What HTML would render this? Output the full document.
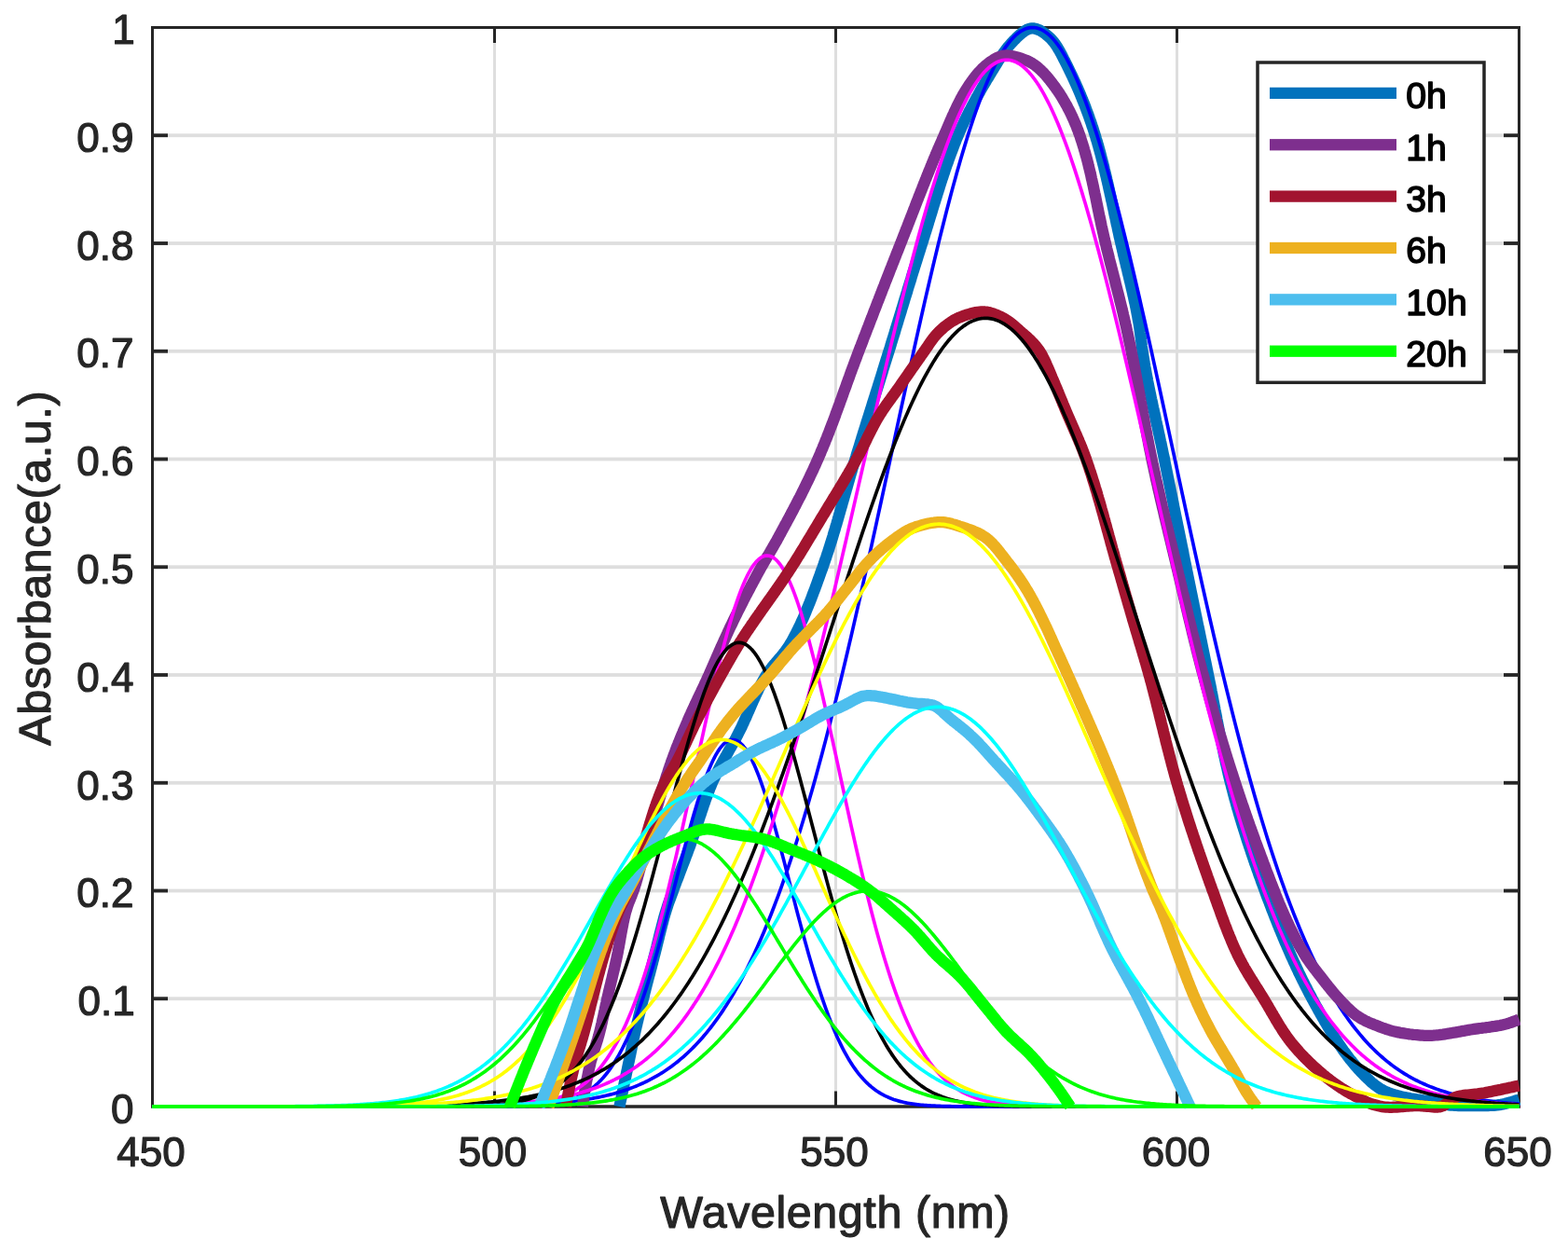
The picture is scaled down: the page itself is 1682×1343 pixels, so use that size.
<!DOCTYPE html>
<html lang="en"><head><meta charset="utf-8"><title>Absorbance vs Wavelength</title>
<style>html,body{margin:0;padding:0;background:#fff}body{width:1682px;height:1343px;overflow:hidden}svg{display:block}text{font-family:"Liberation Sans",sans-serif}</style></head><body>
<svg width="1682" height="1343" viewBox="0 0 1682 1343">
<rect width="1682" height="1343" fill="#ffffff"/>
<defs><clipPath id="ax"><rect x="162.0" y="0" width="1469.0" height="1194.0"/></clipPath></defs>
<g>
<rect x="529.00" y="29.50" width="3.00" height="1157.50" fill="#dedede"/>
<rect x="895.00" y="29.50" width="3.00" height="1157.50" fill="#dedede"/>
<rect x="1261.00" y="29.50" width="3.00" height="1157.50" fill="#dedede"/>
<rect x="163.50" y="1069.35" width="1466.00" height="3.80" fill="#dedede"/>
<rect x="163.50" y="953.60" width="1466.00" height="3.80" fill="#dedede"/>
<rect x="163.50" y="837.85" width="1466.00" height="3.80" fill="#dedede"/>
<rect x="163.50" y="722.10" width="1466.00" height="3.80" fill="#dedede"/>
<rect x="163.50" y="606.35" width="1466.00" height="3.80" fill="#dedede"/>
<rect x="163.50" y="490.60" width="1466.00" height="3.80" fill="#dedede"/>
<rect x="163.50" y="374.85" width="1466.00" height="3.80" fill="#dedede"/>
<rect x="163.50" y="259.10" width="1466.00" height="3.80" fill="#dedede"/>
<rect x="163.50" y="143.35" width="1466.00" height="3.80" fill="#dedede"/>
</g>
<g>
<rect x="162.00" y="28.00" width="1469.00" height="3.00" fill="#262626"/>
<rect x="162.00" y="1185.25" width="1469.00" height="3.50" fill="#262626"/>
<rect x="162.00" y="29.50" width="3.00" height="1157.50" fill="#262626"/>
<rect x="1628.00" y="29.50" width="3.00" height="1157.50" fill="#262626"/>
<rect x="529.00" y="1170.50" width="3.00" height="16.50" fill="#262626"/>
<rect x="529.00" y="29.50" width="3.00" height="16.50" fill="#262626"/>
<rect x="895.00" y="1170.50" width="3.00" height="16.50" fill="#262626"/>
<rect x="895.00" y="29.50" width="3.00" height="16.50" fill="#262626"/>
<rect x="1261.00" y="1170.50" width="3.00" height="16.50" fill="#262626"/>
<rect x="1261.00" y="29.50" width="3.00" height="16.50" fill="#262626"/>
<rect x="163.50" y="1069.35" width="16.50" height="3.80" fill="#262626"/>
<rect x="1613.00" y="1069.35" width="16.50" height="3.80" fill="#262626"/>
<rect x="163.50" y="953.60" width="16.50" height="3.80" fill="#262626"/>
<rect x="1613.00" y="953.60" width="16.50" height="3.80" fill="#262626"/>
<rect x="163.50" y="837.85" width="16.50" height="3.80" fill="#262626"/>
<rect x="1613.00" y="837.85" width="16.50" height="3.80" fill="#262626"/>
<rect x="163.50" y="722.10" width="16.50" height="3.80" fill="#262626"/>
<rect x="1613.00" y="722.10" width="16.50" height="3.80" fill="#262626"/>
<rect x="163.50" y="606.35" width="16.50" height="3.80" fill="#262626"/>
<rect x="1613.00" y="606.35" width="16.50" height="3.80" fill="#262626"/>
<rect x="163.50" y="490.60" width="16.50" height="3.80" fill="#262626"/>
<rect x="1613.00" y="490.60" width="16.50" height="3.80" fill="#262626"/>
<rect x="163.50" y="374.85" width="16.50" height="3.80" fill="#262626"/>
<rect x="1613.00" y="374.85" width="16.50" height="3.80" fill="#262626"/>
<rect x="163.50" y="259.10" width="16.50" height="3.80" fill="#262626"/>
<rect x="1613.00" y="259.10" width="16.50" height="3.80" fill="#262626"/>
<rect x="163.50" y="143.35" width="16.50" height="3.80" fill="#262626"/>
<rect x="1613.00" y="143.35" width="16.50" height="3.80" fill="#262626"/>
</g>
<g fill="none" stroke-linejoin="round" stroke-linecap="butt" clip-path="url(#ax)">
<polyline stroke="#0072bd" stroke-width="12.3" points="664.5,1187.0 664.9,1185.0 665.3,1183.1 665.7,1181.1 666.1,1179.2 666.6,1177.2 667.0,1175.3 667.4,1173.3 667.8,1171.3 668.2,1169.4 668.6,1167.4 669.0,1165.5 669.4,1163.5 669.8,1161.6 670.2,1159.6 670.7,1157.6 671.1,1155.7 671.5,1153.7 671.9,1151.8 672.3,1149.8 672.7,1147.9 673.1,1145.9 673.5,1143.9 673.9,1142.0 674.3,1140.0 674.8,1138.1 675.2,1136.1 675.6,1134.1 676.0,1132.2 676.4,1130.2 676.8,1128.3 677.2,1126.3 677.6,1124.3 678.0,1122.4 678.4,1120.4 678.8,1118.5 679.2,1116.5 679.6,1114.6 680.1,1112.6 680.5,1110.7 680.9,1108.7 681.4,1106.8 681.8,1104.8 682.3,1102.9 682.7,1100.9 683.2,1099.0 683.6,1097.0 684.1,1095.1 684.6,1093.1 685.0,1091.2 685.5,1089.2 686.0,1087.3 686.5,1085.4 687.0,1083.4 687.4,1081.5 687.9,1079.5 688.4,1077.6 688.9,1075.7 689.4,1073.7 689.9,1071.8 690.4,1069.8 690.9,1067.9 691.3,1066.0 691.8,1064.0 692.3,1062.1 692.8,1060.1 693.3,1058.2 693.8,1056.3 694.3,1054.3 694.8,1052.4 695.3,1050.5 695.8,1048.5 696.3,1046.6 696.9,1044.7 697.4,1042.7 697.9,1040.8 698.4,1038.9 698.9,1036.9 699.4,1035.0 699.9,1033.1 700.4,1031.1 700.9,1029.2 701.4,1027.2 701.9,1025.3 702.4,1023.4 702.9,1021.4 703.4,1019.5 703.9,1017.5 704.4,1015.6 704.8,1013.7 705.3,1011.7 705.8,1009.8 706.3,1007.8 706.8,1005.9 707.2,1003.9 707.7,1002.0 708.2,1000.1 708.7,998.1 709.2,996.2 709.7,994.2 710.2,992.3 710.7,990.4 711.2,988.4 711.7,986.5 712.2,984.6 712.8,982.6 713.3,980.7 713.9,978.8 714.5,976.9 715.1,975.0 715.7,973.1 716.3,971.2 716.9,969.3 717.6,967.4 718.3,965.5 719.0,963.7 719.7,961.8 720.4,959.9 721.1,958.0 721.8,956.2 722.4,954.3 723.1,952.4 723.8,950.5 724.5,948.7 725.2,946.8 725.9,944.9 726.7,943.0 727.4,941.2 728.1,939.3 728.8,937.4 729.5,935.6 730.2,933.7 730.9,931.8 731.6,930.0 732.3,928.1 733.1,926.2 733.8,924.3 734.5,922.5 735.2,920.6 735.9,918.7 736.6,916.9 737.3,915.0 738.0,913.1 738.7,911.2 739.4,909.4 740.1,907.5 740.8,905.6 741.4,903.7 742.1,901.8 742.8,900.0 743.4,898.1 744.1,896.2 744.7,894.3 745.4,892.4 746.0,890.5 746.6,888.6 747.3,886.7 747.9,884.8 748.5,882.8 749.2,880.9 749.8,879.0 750.4,877.1 751.0,875.2 751.7,873.3 752.3,871.4 752.9,869.5 753.6,867.6 754.2,865.7 754.8,863.8 755.5,861.9 756.2,860.0 756.8,858.1 757.5,856.3 758.2,854.4 758.9,852.5 759.6,850.7 760.3,848.8 761.0,846.9 761.7,845.1 762.5,843.3 763.2,841.4 764.0,839.6 764.8,837.8 765.6,836.0 766.5,834.2 767.3,832.4 768.2,830.6 769.1,828.8 770.0,827.0 770.9,825.2 771.8,823.5 772.8,821.7 773.7,819.9 774.7,818.2 775.6,816.4 776.6,814.7 777.6,812.9 778.6,811.2 779.6,809.4 780.6,807.7 781.5,805.9 782.5,804.2 783.5,802.5 784.5,800.7 785.5,799.0 786.5,797.2 787.4,795.4 788.4,793.7 789.4,791.9 790.3,790.1 791.2,788.4 792.1,786.6 793.0,784.8 793.9,783.0 794.8,781.2 795.7,779.4 796.5,777.6 797.4,775.8 798.2,773.9 799.0,772.1 799.9,770.3 800.7,768.4 801.5,766.6 802.3,764.7 803.1,762.9 803.9,761.0 804.7,759.2 805.5,757.3 806.3,755.5 807.1,753.7 807.9,751.8 808.8,750.0 809.6,748.2 810.4,746.3 811.3,744.5 812.1,742.7 813.0,740.9 813.8,739.1 814.7,737.3 815.6,735.6 816.5,733.8 817.5,732.0 818.4,730.3 819.4,728.6 820.4,726.9 821.4,725.2 822.5,723.5 823.6,721.9 824.7,720.3 825.9,718.6 827.1,717.1 828.3,715.5 829.6,713.9 830.9,712.4 832.2,710.8 833.5,709.3 834.8,707.8 836.1,706.2 837.5,704.7 838.8,703.1 840.0,701.6 841.3,700.0 842.5,698.4 843.6,696.8 844.8,695.2 845.9,693.6 846.9,691.9 847.9,690.2 848.9,688.5 849.9,686.8 850.8,685.1 851.7,683.4 852.7,681.6 853.6,679.9 854.5,678.1 855.4,676.3 856.2,674.6 857.1,672.8 858.0,671.0 858.8,669.2 859.6,667.3 860.5,665.5 861.3,663.7 862.1,661.9 862.9,660.0 863.7,658.2 864.5,656.3 865.2,654.4 866.0,652.6 866.8,650.7 867.5,648.8 868.3,647.0 869.0,645.1 869.8,643.2 870.5,641.3 871.2,639.4 871.9,637.5 872.6,635.6 873.4,633.7 874.1,631.8 874.8,629.9 875.5,628.1 876.2,626.2 876.8,624.3 877.5,622.4 878.2,620.5 878.9,618.6 879.6,616.7 880.2,614.8 880.9,612.9 881.6,611.0 882.3,609.2 882.9,607.3 883.6,605.4 884.2,603.5 884.9,601.6 885.5,599.7 886.2,597.9 886.8,596.0 887.4,594.1 888.1,592.2 888.7,590.3 889.3,588.4 889.9,586.5 890.5,584.6 891.1,582.7 891.7,580.8 892.3,578.9 892.9,576.9 893.5,575.0 894.0,573.1 894.6,571.2 895.2,569.3 895.8,567.4 896.3,565.5 896.9,563.5 897.5,561.6 898.0,559.7 898.6,557.8 899.1,555.8 899.7,553.9 900.2,552.0 900.8,550.1 901.3,548.1 901.9,546.2 902.4,544.3 903.0,542.4 903.5,540.4 904.1,538.5 904.6,536.6 905.2,534.7 905.7,532.7 906.3,530.8 906.8,528.9 907.4,526.9 907.9,525.0 908.5,523.1 909.0,521.2 909.6,519.2 910.1,517.3 910.7,515.4 911.2,513.5 911.8,511.5 912.3,509.6 912.9,507.7 913.5,505.8 914.0,503.8 914.6,501.9 915.2,500.0 915.7,498.1 916.3,496.2 916.9,494.3 917.5,492.3 918.1,490.4 918.6,488.5 919.2,486.6 919.8,484.7 920.4,482.8 921.0,480.9 921.6,479.0 922.2,477.1 922.8,475.1 923.4,473.2 924.0,471.3 924.5,469.4 925.1,467.5 925.7,465.6 926.3,463.7 926.9,461.8 927.5,459.9 928.1,458.0 928.7,456.0 929.3,454.1 929.9,452.2 930.5,450.3 931.1,448.4 931.7,446.5 932.3,444.6 932.9,442.7 933.5,440.8 934.1,438.9 934.7,437.0 935.3,435.1 935.9,433.1 936.5,431.2 937.1,429.3 937.7,427.4 938.3,425.5 938.9,423.6 939.5,421.7 940.1,419.8 940.7,417.9 941.3,416.0 941.9,414.1 942.5,412.2 943.1,410.2 943.7,408.3 944.3,406.4 944.9,404.5 945.5,402.6 946.1,400.7 946.7,398.8 947.2,396.9 947.8,395.0 948.4,393.1 949.0,391.2 949.6,389.2 950.2,387.3 950.8,385.4 951.4,383.5 952.0,381.6 952.6,379.7 953.2,377.8 953.8,375.9 954.4,374.0 955.0,372.1 955.6,370.1 956.1,368.2 956.7,366.3 957.3,364.4 957.9,362.5 958.5,360.6 959.1,358.7 959.7,356.8 960.3,354.8 960.8,352.9 961.4,351.0 962.0,349.1 962.6,347.2 963.2,345.3 963.7,343.4 964.3,341.5 964.9,339.5 965.5,337.6 966.1,335.7 966.7,333.8 967.2,331.9 967.8,330.0 968.4,328.1 969.0,326.1 969.6,324.2 970.1,322.3 970.7,320.4 971.3,318.5 971.9,316.6 972.5,314.7 973.1,312.8 973.6,310.8 974.2,308.9 974.8,307.0 975.4,305.1 976.0,303.2 976.6,301.3 977.2,299.4 977.7,297.5 978.3,295.5 978.9,293.6 979.5,291.7 980.1,289.8 980.7,287.9 981.3,286.0 981.9,284.1 982.5,282.2 983.1,280.3 983.7,278.4 984.3,276.4 984.9,274.5 985.5,272.6 986.1,270.7 986.7,268.8 987.3,266.9 987.9,265.0 988.5,263.1 989.1,261.2 989.7,259.3 990.3,257.4 990.9,255.5 991.5,253.6 992.1,251.6 992.7,249.7 993.3,247.8 993.9,245.9 994.5,244.0 995.1,242.1 995.7,240.1 996.2,238.2 996.8,236.3 997.4,234.4 998.0,232.5 998.6,230.5 999.2,228.6 999.8,226.7 1000.3,224.8 1000.9,222.9 1001.5,220.9 1002.1,219.0 1002.7,217.1 1003.3,215.2 1003.9,213.2 1004.5,211.3 1005.1,209.4 1005.7,207.5 1006.3,205.6 1006.9,203.7 1007.5,201.8 1008.1,199.8 1008.7,197.9 1009.3,196.0 1009.9,194.1 1010.5,192.2 1011.2,190.3 1011.8,188.4 1012.4,186.5 1013.1,184.6 1013.7,182.7 1014.3,180.8 1015.0,178.9 1015.6,177.0 1016.3,175.2 1017.0,173.3 1017.6,171.4 1018.3,169.5 1019.0,167.6 1019.7,165.8 1020.4,163.9 1021.1,162.0 1021.8,160.2 1022.5,158.3 1023.2,156.5 1023.9,154.6 1024.7,152.8 1025.4,150.9 1026.1,149.1 1026.9,147.3 1027.7,145.4 1028.4,143.6 1029.2,141.8 1030.0,140.0 1030.8,138.2 1031.6,136.3 1032.5,134.5 1033.3,132.7 1034.1,130.9 1035.0,129.1 1035.9,127.3 1036.7,125.5 1037.6,123.7 1038.5,121.9 1039.4,120.1 1040.3,118.3 1041.3,116.6 1042.2,114.8 1043.1,113.0 1044.1,111.2 1045.0,109.5 1046.0,107.7 1046.9,105.9 1047.9,104.2 1048.9,102.4 1049.9,100.6 1050.9,98.9 1051.8,97.1 1052.8,95.4 1053.8,93.7 1054.9,91.9 1055.9,90.2 1056.9,88.5 1057.9,86.7 1058.9,85.0 1060.0,83.3 1061.0,81.6 1062.0,79.9 1063.1,78.2 1064.1,76.5 1065.1,74.8 1066.2,73.0 1067.2,71.3 1068.3,69.6 1069.4,67.9 1070.4,66.2 1071.5,64.4 1072.6,62.7 1073.7,61.0 1074.8,59.3 1075.9,57.6 1077.1,56.0 1078.3,54.4 1079.5,52.8 1080.7,51.2 1081.9,49.7 1083.2,48.2 1084.5,46.7 1085.9,45.2 1087.3,43.7 1088.7,42.3 1090.2,40.8 1091.8,39.3 1093.4,37.8 1095.0,36.4 1096.6,35.1 1098.3,33.8 1100.0,32.8 1101.7,31.8 1103.4,31.1 1105.1,30.6 1106.8,30.4 1108.6,30.4 1110.4,30.7 1112.2,31.2 1114.0,31.9 1115.8,32.7 1117.6,33.8 1119.3,34.9 1121.0,36.1 1122.6,37.4 1124.2,38.7 1125.6,40.0 1127.0,41.3 1128.3,42.8 1129.6,44.2 1130.8,45.7 1132.0,47.3 1133.1,48.9 1134.2,50.6 1135.2,52.4 1136.3,54.1 1137.3,55.9 1138.3,57.7 1139.2,59.6 1140.2,61.4 1141.1,63.3 1142.0,65.1 1143.0,66.9 1143.9,68.7 1144.8,70.5 1145.6,72.3 1146.5,74.1 1147.4,75.9 1148.3,77.7 1149.1,79.5 1150.0,81.3 1150.8,83.1 1151.7,84.9 1152.5,86.7 1153.3,88.5 1154.2,90.4 1155.0,92.2 1155.8,94.0 1156.6,95.9 1157.4,97.7 1158.2,99.6 1159.0,101.4 1159.7,103.3 1160.5,105.2 1161.2,107.0 1162.0,108.9 1162.7,110.8 1163.5,112.6 1164.2,114.5 1164.9,116.4 1165.6,118.3 1166.3,120.2 1167.0,122.0 1167.7,123.9 1168.4,125.8 1169.0,127.7 1169.7,129.6 1170.4,131.5 1171.0,133.4 1171.6,135.3 1172.3,137.2 1172.9,139.1 1173.5,141.0 1174.1,142.9 1174.7,144.8 1175.3,146.7 1175.8,148.6 1176.4,150.5 1177.0,152.4 1177.5,154.3 1178.1,156.2 1178.6,158.1 1179.1,160.0 1179.7,162.0 1180.2,163.9 1180.7,165.8 1181.2,167.7 1181.7,169.7 1182.2,171.6 1182.7,173.5 1183.2,175.5 1183.7,177.4 1184.2,179.3 1184.6,181.3 1185.1,183.2 1185.6,185.2 1186.0,187.1 1186.5,189.1 1187.0,191.0 1187.4,193.0 1187.9,194.9 1188.3,196.9 1188.8,198.8 1189.2,200.8 1189.6,202.7 1190.1,204.7 1190.5,206.6 1190.9,208.6 1191.4,210.6 1191.8,212.5 1192.2,214.5 1192.7,216.4 1193.1,218.4 1193.5,220.4 1193.9,222.3 1194.4,224.3 1194.8,226.2 1195.2,228.2 1195.6,230.2 1196.0,232.1 1196.5,234.1 1196.9,236.1 1197.3,238.0 1197.7,240.0 1198.2,241.9 1198.6,243.9 1199.0,245.9 1199.4,247.8 1199.9,249.8 1200.3,251.7 1200.7,253.7 1201.2,255.6 1201.6,257.6 1202.1,259.5 1202.5,261.5 1203.0,263.4 1203.4,265.4 1203.9,267.3 1204.3,269.3 1204.8,271.2 1205.2,273.2 1205.7,275.1 1206.2,277.1 1206.6,279.0 1207.1,281.0 1207.6,282.9 1208.0,284.9 1208.5,286.8 1209.0,288.8 1209.5,290.7 1209.9,292.7 1210.4,294.6 1210.9,296.6 1211.3,298.5 1211.8,300.4 1212.3,302.4 1212.7,304.3 1213.2,306.3 1213.6,308.2 1214.1,310.2 1214.5,312.1 1215.0,314.1 1215.4,316.1 1215.9,318.0 1216.3,320.0 1216.7,321.9 1217.1,323.9 1217.6,325.8 1218.0,327.8 1218.4,329.7 1218.8,331.7 1219.2,333.7 1219.5,335.6 1219.9,337.6 1220.3,339.5 1220.6,341.5 1221.0,343.5 1221.3,345.4 1221.7,347.4 1222.0,349.4 1222.3,351.3 1222.6,353.3 1222.9,355.3 1223.1,357.3 1223.4,359.3 1223.6,361.2 1223.9,363.2 1224.1,365.2 1224.4,367.2 1224.6,369.2 1224.8,371.2 1225.1,373.2 1225.4,375.1 1225.7,377.1 1226.0,379.1 1226.3,381.1 1226.6,383.0 1226.9,385.0 1227.2,387.0 1227.5,388.9 1227.9,390.9 1228.2,392.9 1228.6,394.9 1228.9,396.8 1229.3,398.8 1229.6,400.7 1230.0,402.7 1230.4,404.7 1230.8,406.6 1231.1,408.6 1231.5,410.6 1231.9,412.5 1232.3,414.5 1232.7,416.4 1233.1,418.4 1233.5,420.4 1233.9,422.3 1234.3,424.3 1234.7,426.2 1235.1,428.2 1235.6,430.2 1236.0,432.1 1236.4,434.1 1236.8,436.0 1237.2,438.0 1237.7,439.9 1238.1,441.9 1238.5,443.9 1239.0,445.8 1239.4,447.8 1239.8,449.7 1240.2,451.7 1240.7,453.6 1241.1,455.6 1241.5,457.5 1242.0,459.5 1242.4,461.5 1242.8,463.4 1243.2,465.4 1243.7,467.3 1244.1,469.3 1244.5,471.2 1244.9,473.2 1245.4,475.1 1245.8,477.1 1246.2,479.1 1246.6,481.0 1247.0,483.0 1247.4,484.9 1247.8,486.9 1248.2,488.9 1248.7,490.8 1249.1,492.8 1249.4,494.7 1249.8,496.7 1250.2,498.7 1250.6,500.6 1251.0,502.6 1251.4,504.5 1251.8,506.5 1252.2,508.5 1252.6,510.4 1253.0,512.4 1253.4,514.3 1253.8,516.3 1254.2,518.3 1254.6,520.2 1255.0,522.2 1255.4,524.1 1255.8,526.1 1256.2,528.1 1256.6,530.0 1257.0,532.0 1257.4,533.9 1257.8,535.9 1258.2,537.9 1258.6,539.8 1258.9,541.8 1259.3,543.7 1259.7,545.7 1260.1,547.7 1260.5,549.6 1260.9,551.6 1261.3,553.5 1261.7,555.5 1262.1,557.5 1262.5,559.4 1262.9,561.4 1263.3,563.4 1263.7,565.3 1264.1,567.3 1264.5,569.2 1264.9,571.2 1265.3,573.2 1265.7,575.1 1266.1,577.1 1266.5,579.0 1266.9,581.0 1267.3,583.0 1267.7,584.9 1268.1,586.9 1268.5,588.8 1268.9,590.8 1269.3,592.8 1269.6,594.7 1270.0,596.7 1270.4,598.6 1270.8,600.6 1271.2,602.6 1271.6,604.5 1272.0,606.5 1272.4,608.4 1272.8,610.4 1273.2,612.4 1273.6,614.3 1274.0,616.3 1274.4,618.2 1274.8,620.2 1275.2,622.2 1275.6,624.1 1276.0,626.1 1276.4,628.0 1276.8,630.0 1277.2,632.0 1277.6,633.9 1278.0,635.9 1278.4,637.8 1278.8,639.8 1279.2,641.7 1279.6,643.7 1280.0,645.7 1280.4,647.6 1280.8,649.6 1281.2,651.5 1281.6,653.5 1282.0,655.5 1282.4,657.4 1282.8,659.4 1283.2,661.3 1283.6,663.3 1284.0,665.3 1284.4,667.2 1284.8,669.2 1285.2,671.1 1285.6,673.1 1286.1,675.1 1286.5,677.0 1286.9,679.0 1287.3,680.9 1287.7,682.9 1288.1,684.9 1288.5,686.8 1288.9,688.8 1289.3,690.7 1289.7,692.7 1290.1,694.7 1290.5,696.6 1290.9,698.6 1291.3,700.5 1291.7,702.5 1292.1,704.4 1292.5,706.4 1292.9,708.4 1293.3,710.3 1293.7,712.3 1294.1,714.2 1294.5,716.2 1294.9,718.2 1295.3,720.1 1295.7,722.1 1296.1,724.0 1296.5,726.0 1296.9,728.0 1297.3,729.9 1297.7,731.9 1298.1,733.8 1298.5,735.8 1298.9,737.8 1299.3,739.7 1299.6,741.7 1300.0,743.7 1300.4,745.6 1300.8,747.6 1301.2,749.6 1301.5,751.5 1301.9,753.5 1302.3,755.5 1302.7,757.4 1303.1,759.4 1303.4,761.4 1303.8,763.3 1304.2,765.3 1304.6,767.3 1305.0,769.2 1305.3,771.2 1305.7,773.2 1306.1,775.1 1306.5,777.1 1306.9,779.1 1307.2,781.0 1307.6,783.0 1308.0,785.0 1308.4,786.9 1308.8,788.9 1309.2,790.9 1309.6,792.8 1310.0,794.8 1310.4,796.7 1310.8,798.7 1311.2,800.7 1311.6,802.6 1312.0,804.6 1312.4,806.5 1312.8,808.5 1313.2,810.4 1313.7,812.4 1314.1,814.3 1314.5,816.3 1314.9,818.2 1315.4,820.2 1315.8,822.1 1316.3,824.1 1316.7,826.0 1317.2,828.0 1317.6,829.9 1318.1,831.9 1318.5,833.8 1319.0,835.7 1319.5,837.7 1320.0,839.6 1320.5,841.5 1321.0,843.5 1321.5,845.4 1322.0,847.3 1322.5,849.3 1323.0,851.2 1323.5,853.1 1324.0,855.0 1324.5,857.0 1325.1,858.9 1325.6,860.8 1326.1,862.7 1326.7,864.7 1327.2,866.6 1327.8,868.5 1328.4,870.4 1328.9,872.4 1329.5,874.3 1330.1,876.2 1330.6,878.1 1331.2,880.0 1331.8,882.0 1332.4,883.9 1333.0,885.8 1333.6,887.7 1334.2,889.6 1334.8,891.5 1335.4,893.4 1336.0,895.3 1336.6,897.3 1337.2,899.2 1337.8,901.1 1338.4,903.0 1339.1,904.9 1339.7,906.8 1340.3,908.7 1341.0,910.6 1341.6,912.5 1342.2,914.4 1342.9,916.3 1343.5,918.2 1344.2,920.1 1344.8,922.0 1345.5,923.9 1346.1,925.8 1346.8,927.7 1347.5,929.5 1348.1,931.4 1348.8,933.3 1349.5,935.2 1350.1,937.1 1350.8,939.0 1351.5,940.9 1352.2,942.7 1352.8,944.6 1353.5,946.5 1354.2,948.4 1354.9,950.2 1355.6,952.1 1356.3,954.0 1357.0,955.9 1357.6,957.7 1358.3,959.6 1359.0,961.5 1359.7,963.3 1360.4,965.2 1361.2,967.1 1361.9,968.9 1362.6,970.8 1363.3,972.7 1364.0,974.6 1364.7,976.4 1365.5,978.3 1366.2,980.2 1366.9,982.0 1367.6,983.9 1368.4,985.8 1369.1,987.6 1369.9,989.5 1370.6,991.4 1371.4,993.2 1372.1,995.1 1372.9,997.0 1373.7,998.8 1374.4,1000.7 1375.2,1002.5 1376.0,1004.4 1376.7,1006.2 1377.5,1008.1 1378.3,1009.9 1379.1,1011.8 1379.9,1013.6 1380.7,1015.5 1381.5,1017.3 1382.3,1019.2 1383.1,1021.0 1383.9,1022.9 1384.7,1024.7 1385.5,1026.5 1386.4,1028.3 1387.2,1030.2 1388.0,1032.0 1388.9,1033.8 1389.7,1035.6 1390.6,1037.5 1391.4,1039.3 1392.3,1041.1 1393.1,1042.9 1394.0,1044.7 1394.9,1046.5 1395.7,1048.3 1396.6,1050.1 1397.5,1051.9 1398.4,1053.6 1399.3,1055.4 1400.2,1057.2 1401.1,1059.0 1402.0,1060.7 1402.9,1062.5 1403.8,1064.3 1404.7,1066.0 1405.7,1067.8 1406.6,1069.5 1407.5,1071.3 1408.5,1073.0 1409.4,1074.8 1410.4,1076.5 1411.3,1078.3 1412.3,1080.0 1413.3,1081.8 1414.2,1083.5 1415.2,1085.3 1416.2,1087.1 1417.2,1088.8 1418.2,1090.6 1419.2,1092.3 1420.2,1094.1 1421.2,1095.9 1422.3,1097.6 1423.3,1099.4 1424.3,1101.1 1425.4,1102.9 1426.4,1104.6 1427.5,1106.3 1428.6,1108.1 1429.7,1109.8 1430.7,1111.5 1431.8,1113.2 1432.9,1114.9 1434.1,1116.6 1435.2,1118.3 1436.3,1120.0 1437.4,1121.6 1438.6,1123.3 1439.8,1124.9 1440.9,1126.6 1442.1,1128.2 1443.3,1129.8 1444.5,1131.4 1445.7,1133.0 1446.9,1134.6 1448.1,1136.2 1449.4,1137.7 1450.6,1139.2 1451.9,1140.7 1453.1,1142.3 1454.4,1143.7 1455.7,1145.2 1457.0,1146.7 1458.3,1148.1 1459.6,1149.5 1461.0,1151.0 1462.4,1152.4 1463.8,1153.8 1465.2,1155.3 1466.7,1156.7 1468.2,1158.1 1469.7,1159.5 1471.2,1160.9 1472.8,1162.2 1474.3,1163.5 1476.0,1164.7 1477.6,1165.9 1479.2,1167.0 1480.9,1168.1 1482.6,1169.0 1484.3,1169.9 1486.1,1170.8 1487.8,1171.6 1489.6,1172.3 1491.5,1172.9 1493.4,1173.6 1495.3,1174.2 1497.2,1174.7 1499.1,1175.3 1501.1,1175.8 1503.1,1176.3 1505.1,1176.7 1507.0,1177.1 1509.0,1177.5 1511.0,1177.9 1513.0,1178.3 1514.9,1178.6 1516.9,1178.9 1518.9,1179.2 1520.9,1179.5 1522.8,1179.7 1524.8,1180.0 1526.8,1180.3 1528.8,1180.5 1530.8,1180.8 1532.8,1181.1 1534.8,1181.4 1536.7,1181.7 1538.7,1182.1 1540.7,1182.5 1542.6,1183.0 1544.6,1183.4 1546.6,1183.8 1548.5,1184.3 1550.5,1184.7 1552.4,1185.0 1554.4,1185.3 1556.4,1185.6 1558.4,1185.7 1560.3,1185.8 1562.3,1185.9 1564.3,1186.0 1566.3,1186.0 1568.3,1186.0 1570.3,1186.0 1572.3,1186.0 1574.3,1186.0 1576.3,1186.0 1578.3,1186.0 1580.3,1186.0 1582.4,1186.0 1584.4,1186.0 1586.4,1186.0 1588.4,1186.0 1590.4,1186.0 1592.4,1186.0 1594.4,1186.0 1596.3,1186.0 1598.3,1185.9 1600.3,1185.9 1602.3,1185.8 1604.3,1185.6 1606.2,1185.4 1608.2,1185.1 1610.2,1184.8 1612.1,1184.4 1614.1,1184.0 1616.0,1183.5 1618.0,1183.0 1619.9,1182.4 1621.8,1181.9 1623.8,1181.3 1625.7,1180.7 1627.6,1180.1 1629.5,1179.5"/>
<polyline stroke="#0000ff" stroke-width="3.7" points="163.50,1187.00 165.33,1187.00 167.16,1187.00 169.00,1187.00 170.83,1187.00 172.66,1187.00 174.50,1187.00 176.33,1187.00 178.16,1187.00 179.99,1187.00 181.82,1187.00 183.66,1187.00 185.49,1187.00 187.32,1187.00 189.16,1187.00 190.99,1187.00 192.82,1187.00 194.65,1187.00 196.49,1187.00 198.32,1187.00 200.15,1187.00 201.98,1187.00 203.81,1187.00 205.65,1187.00 207.48,1187.00 209.31,1187.00 211.15,1187.00 212.98,1187.00 214.81,1187.00 216.64,1187.00 218.47,1187.00 220.31,1187.00 222.14,1187.00 223.97,1187.00 225.81,1187.00 227.64,1187.00 229.47,1187.00 231.30,1187.00 233.13,1187.00 234.97,1187.00 236.80,1187.00 238.63,1187.00 240.47,1187.00 242.30,1187.00 244.13,1187.00 245.96,1187.00 247.80,1187.00 249.63,1187.00 251.46,1187.00 253.29,1187.00 255.12,1187.00 256.96,1187.00 258.79,1187.00 260.62,1187.00 262.45,1187.00 264.29,1187.00 266.12,1187.00 267.95,1187.00 269.78,1187.00 271.62,1187.00 273.45,1187.00 275.28,1187.00 277.12,1187.00 278.95,1187.00 280.78,1187.00 282.61,1187.00 284.44,1187.00 286.28,1187.00 288.11,1187.00 289.94,1187.00 291.77,1187.00 293.61,1187.00 295.44,1187.00 297.27,1187.00 299.11,1187.00 300.94,1187.00 302.77,1187.00 304.60,1187.00 306.44,1187.00 308.27,1187.00 310.10,1187.00 311.93,1187.00 313.76,1187.00 315.60,1187.00 317.43,1187.00 319.26,1187.00 321.10,1187.00 322.93,1187.00 324.76,1187.00 326.59,1187.00 328.43,1187.00 330.26,1187.00 332.09,1187.00 333.92,1187.00 335.75,1187.00 337.59,1187.00 339.42,1187.00 341.25,1187.00 343.09,1187.00 344.92,1187.00 346.75,1187.00 348.58,1187.00 350.41,1187.00 352.25,1187.00 354.08,1187.00 355.91,1187.00 357.75,1187.00 359.58,1187.00 361.41,1187.00 363.24,1187.00 365.07,1187.00 366.91,1187.00 368.74,1187.00 370.57,1187.00 372.40,1187.00 374.24,1187.00 376.07,1187.00 377.90,1187.00 379.74,1187.00 381.57,1187.00 383.40,1187.00 385.23,1187.00 387.06,1187.00 388.90,1187.00 390.73,1187.00 392.56,1187.00 394.39,1187.00 396.23,1187.00 398.06,1187.00 399.89,1187.00 401.73,1187.00 403.56,1187.00 405.39,1187.00 407.22,1187.00 409.06,1187.00 410.89,1187.00 412.72,1187.00 414.55,1187.00 416.38,1187.00 418.22,1187.00 420.05,1187.00 421.88,1187.00 423.71,1187.00 425.55,1187.00 427.38,1187.00 429.21,1187.00 431.05,1187.00 432.88,1187.00 434.71,1187.00 436.54,1187.00 438.38,1187.00 440.21,1187.00 442.04,1187.00 443.87,1187.00 445.70,1187.00 447.54,1187.00 449.37,1187.00 451.20,1187.00 453.04,1187.00 454.87,1187.00 456.70,1187.00 458.53,1187.00 460.37,1187.00 462.20,1187.00 464.03,1187.00 465.86,1187.00 467.69,1187.00 469.53,1187.00 471.36,1187.00 473.19,1187.00 475.02,1187.00 476.86,1187.00 478.69,1187.00 480.52,1187.00 482.36,1187.00 484.19,1187.00 486.02,1187.00 487.85,1187.00 489.69,1187.00 491.52,1187.00 493.35,1187.00 495.18,1186.99 497.01,1186.99 498.85,1186.99 500.68,1186.99 502.51,1186.99 504.35,1186.99 506.18,1186.99 508.01,1186.99 509.84,1186.98 511.68,1186.98 513.51,1186.98 515.34,1186.97 517.17,1186.97 519.00,1186.97 520.84,1186.96 522.67,1186.96 524.50,1186.95 526.34,1186.95 528.17,1186.94 530.00,1186.93 531.83,1186.92 533.66,1186.91 535.50,1186.90 537.33,1186.89 539.16,1186.87 541.00,1186.85 542.83,1186.84 544.66,1186.82 546.49,1186.79 548.33,1186.77 550.16,1186.74 551.99,1186.71 553.82,1186.67 555.65,1186.64 557.49,1186.59 559.32,1186.55 561.15,1186.49 562.99,1186.44 564.82,1186.37 566.65,1186.30 568.48,1186.22 570.32,1186.14 572.15,1186.05 573.98,1185.94 575.81,1185.83 577.64,1185.70 579.48,1185.57 581.31,1185.42 583.14,1185.25 584.98,1185.07 586.81,1184.88 588.64,1184.67 590.47,1184.43 592.31,1184.18 594.14,1183.91 595.97,1183.61 597.80,1183.28 599.63,1182.93 601.47,1182.55 603.30,1182.14 605.13,1181.69 606.96,1181.21 608.80,1180.69 610.63,1180.13 612.46,1179.52 614.30,1178.87 616.13,1178.18 617.96,1177.43 619.79,1176.62 621.62,1175.76 623.46,1174.83 625.29,1173.85 627.12,1172.79 628.95,1171.67 630.79,1170.47 632.62,1169.19 634.45,1167.83 636.29,1166.38 638.12,1164.84 639.95,1163.22 641.78,1161.49 643.62,1159.66 645.45,1157.73 647.28,1155.69 649.11,1153.54 650.94,1151.27 652.78,1148.88 654.61,1146.36 656.44,1143.72 658.27,1140.95 660.11,1138.04 661.94,1135.00 663.77,1131.81 665.61,1128.48 667.44,1125.01 669.27,1121.39 671.10,1117.62 672.93,1113.69 674.77,1109.62 676.60,1105.39 678.43,1101.00 680.26,1096.46 682.10,1091.76 683.93,1086.91 685.76,1081.90 687.60,1076.74 689.43,1071.43 691.26,1065.97 693.09,1060.37 694.92,1054.62 696.76,1048.74 698.59,1042.72 700.42,1036.58 702.25,1030.31 704.09,1023.92 705.92,1017.42 707.75,1010.83 709.59,1004.13 711.42,997.35 713.25,990.49 715.08,983.57 716.91,976.59 718.75,969.56 720.58,962.49 722.41,955.40 724.25,948.30 726.08,941.20 727.91,934.11 729.74,927.05 731.58,920.02 733.41,913.05 735.24,906.15 737.07,899.32 738.90,892.59 740.74,885.98 742.57,879.48 744.40,873.12 746.24,866.92 748.07,860.88 749.90,855.02 751.73,849.36 753.57,843.90 755.40,838.66 757.23,833.66 759.06,828.90 760.89,824.40 762.73,820.17 764.56,816.22 766.39,812.55 768.23,809.19 770.06,806.13 771.89,803.39 773.72,800.97 775.55,798.88 777.39,797.12 779.22,795.70 781.05,794.63 782.88,793.90 784.72,793.51 786.55,793.48 788.38,793.79 790.22,794.45 792.05,795.46 793.88,796.81 795.71,798.50 797.54,800.52 799.38,802.88 801.21,805.56 803.04,808.55 804.88,811.86 806.71,815.46 808.54,819.36 810.37,823.53 812.21,827.98 814.04,832.69 815.87,837.64 817.70,842.84 819.53,848.25 821.37,853.87 823.20,859.69 825.03,865.70 826.87,871.87 828.70,878.20 830.53,884.67 832.36,891.26 834.20,897.97 836.03,904.77 837.86,911.66 839.69,918.62 841.52,925.64 843.36,932.69 845.19,939.78 847.02,946.88 848.86,953.98 850.69,961.08 852.52,968.15 854.35,975.18 856.18,982.18 858.02,989.11 859.85,995.99 861.68,1002.78 863.51,1009.49 865.35,1016.11 867.18,1022.63 869.01,1029.04 870.85,1035.33 872.68,1041.50 874.51,1047.55 876.34,1053.46 878.17,1059.23 880.01,1064.87 881.84,1070.35 883.67,1075.69 885.50,1080.88 887.34,1085.92 889.17,1090.80 891.00,1095.53 892.84,1100.10 894.67,1104.52 896.50,1108.78 898.33,1112.89 900.16,1116.84 902.00,1120.65 903.83,1124.30 905.66,1127.80 907.50,1131.16 909.33,1134.37 911.16,1137.44 912.99,1140.38 914.83,1143.18 916.66,1145.84 918.49,1148.38 920.32,1150.80 922.15,1153.09 923.99,1155.27 925.82,1157.33 927.65,1159.28 929.49,1161.13 931.32,1162.88 933.15,1164.53 934.98,1166.08 936.82,1167.54 938.65,1168.92 940.48,1170.22 942.31,1171.43 944.14,1172.57 945.98,1173.64 947.81,1174.64 949.64,1175.58 951.48,1176.45 953.31,1177.27 955.14,1178.03 956.97,1178.74 958.80,1179.40 960.64,1180.01 962.47,1180.58 964.30,1181.11 966.13,1181.60 967.97,1182.05 969.80,1182.47 971.63,1182.86 973.47,1183.21 975.30,1183.54 977.13,1183.85 978.96,1184.13 980.79,1184.38 982.63,1184.62 984.46,1184.84 986.29,1185.04 988.12,1185.22 989.96,1185.39 991.79,1185.54 993.62,1185.68 995.46,1185.80 997.29,1185.92 999.12,1186.03 1000.95,1186.12 1002.78,1186.21 1004.62,1186.29 1006.45,1186.36 1008.28,1186.42 1010.12,1186.48 1011.95,1186.54 1013.78,1186.58 1015.61,1186.63 1017.45,1186.67 1019.28,1186.70 1021.11,1186.73 1022.94,1186.76 1024.78,1186.79 1026.61,1186.81 1028.44,1186.83 1030.27,1186.85 1032.11,1186.87 1033.94,1186.88 1035.77,1186.90 1037.60,1186.91 1039.43,1186.92 1041.27,1186.93 1043.10,1186.94 1044.93,1186.94 1046.76,1186.95 1048.60,1186.96 1050.43,1186.96 1052.26,1186.97 1054.10,1186.97 1055.93,1186.97 1057.76,1186.98 1059.59,1186.98 1061.42,1186.98 1063.26,1186.98 1065.09,1186.99 1066.92,1186.99 1068.76,1186.99 1070.59,1186.99 1072.42,1186.99 1074.25,1186.99 1076.09,1186.99 1077.92,1186.99 1079.75,1187.00 1081.58,1187.00 1083.41,1187.00 1085.25,1187.00 1087.08,1187.00 1088.91,1187.00 1090.74,1187.00 1092.58,1187.00 1094.41,1187.00 1096.24,1187.00 1098.08,1187.00 1099.91,1187.00 1101.74,1187.00 1103.57,1187.00 1105.40,1187.00 1107.24,1187.00 1109.07,1187.00 1110.90,1187.00 1112.74,1187.00 1114.57,1187.00 1116.40,1187.00 1118.23,1187.00 1120.07,1187.00 1121.90,1187.00 1123.73,1187.00 1125.56,1187.00 1127.39,1187.00 1129.23,1187.00 1131.06,1187.00 1132.89,1187.00 1134.72,1187.00 1136.56,1187.00 1138.39,1187.00 1140.22,1187.00 1142.05,1187.00 1143.89,1187.00 1145.72,1187.00 1147.55,1187.00 1149.38,1187.00 1151.22,1187.00 1153.05,1187.00 1154.88,1187.00 1156.72,1187.00 1158.55,1187.00 1160.38,1187.00 1162.21,1187.00 1164.05,1187.00 1165.88,1187.00 1167.71,1187.00 1169.54,1187.00 1171.38,1187.00 1173.21,1187.00 1175.04,1187.00 1176.87,1187.00 1178.70,1187.00 1180.54,1187.00 1182.37,1187.00 1184.20,1187.00 1186.03,1187.00 1187.87,1187.00 1189.70,1187.00 1191.53,1187.00 1193.37,1187.00 1195.20,1187.00 1197.03,1187.00 1198.86,1187.00 1200.69,1187.00 1202.53,1187.00 1204.36,1187.00 1206.19,1187.00 1208.03,1187.00 1209.86,1187.00 1211.69,1187.00 1213.52,1187.00 1215.36,1187.00 1217.19,1187.00 1219.02,1187.00 1220.85,1187.00 1222.68,1187.00 1224.52,1187.00 1226.35,1187.00 1228.18,1187.00 1230.02,1187.00 1231.85,1187.00 1233.68,1187.00 1235.51,1187.00 1237.35,1187.00 1239.18,1187.00 1241.01,1187.00 1242.84,1187.00 1244.67,1187.00 1246.51,1187.00 1248.34,1187.00 1250.17,1187.00 1252.01,1187.00 1253.84,1187.00 1255.67,1187.00 1257.50,1187.00 1259.34,1187.00 1261.17,1187.00 1263.00,1187.00 1264.83,1187.00 1266.66,1187.00 1268.50,1187.00 1270.33,1187.00 1272.16,1187.00 1273.99,1187.00 1275.83,1187.00 1277.66,1187.00 1279.49,1187.00 1281.33,1187.00 1283.16,1187.00 1284.99,1187.00 1286.82,1187.00 1288.65,1187.00 1290.49,1187.00 1292.32,1187.00 1294.15,1187.00 1295.98,1187.00 1297.82,1187.00 1299.65,1187.00 1301.48,1187.00 1303.32,1187.00 1305.15,1187.00 1306.98,1187.00 1308.81,1187.00 1310.64,1187.00 1312.48,1187.00 1314.31,1187.00 1316.14,1187.00 1317.97,1187.00 1319.81,1187.00 1321.64,1187.00 1323.47,1187.00 1325.31,1187.00 1327.14,1187.00 1328.97,1187.00 1330.80,1187.00 1332.63,1187.00 1334.47,1187.00 1336.30,1187.00 1338.13,1187.00 1339.96,1187.00 1341.80,1187.00 1343.63,1187.00 1345.46,1187.00 1347.30,1187.00 1349.13,1187.00 1350.96,1187.00 1352.79,1187.00 1354.62,1187.00 1356.46,1187.00 1358.29,1187.00 1360.12,1187.00 1361.95,1187.00 1363.79,1187.00 1365.62,1187.00 1367.45,1187.00 1369.29,1187.00 1371.12,1187.00 1372.95,1187.00 1374.78,1187.00 1376.62,1187.00 1378.45,1187.00 1380.28,1187.00 1382.11,1187.00 1383.94,1187.00 1385.78,1187.00 1387.61,1187.00 1389.44,1187.00 1391.28,1187.00 1393.11,1187.00 1394.94,1187.00 1396.77,1187.00 1398.61,1187.00 1400.44,1187.00 1402.27,1187.00 1404.10,1187.00 1405.93,1187.00 1407.77,1187.00 1409.60,1187.00 1411.43,1187.00 1413.27,1187.00 1415.10,1187.00 1416.93,1187.00 1418.76,1187.00 1420.60,1187.00 1422.43,1187.00 1424.26,1187.00 1426.09,1187.00 1427.92,1187.00 1429.76,1187.00 1431.59,1187.00 1433.42,1187.00 1435.26,1187.00 1437.09,1187.00 1438.92,1187.00 1440.75,1187.00 1442.59,1187.00 1444.42,1187.00 1446.25,1187.00 1448.08,1187.00 1449.91,1187.00 1451.75,1187.00 1453.58,1187.00 1455.41,1187.00 1457.24,1187.00 1459.08,1187.00 1460.91,1187.00 1462.74,1187.00 1464.58,1187.00 1466.41,1187.00 1468.24,1187.00 1470.07,1187.00 1471.90,1187.00 1473.74,1187.00 1475.57,1187.00 1477.40,1187.00 1479.23,1187.00 1481.07,1187.00 1482.90,1187.00 1484.73,1187.00 1486.57,1187.00 1488.40,1187.00 1490.23,1187.00 1492.06,1187.00 1493.89,1187.00 1495.73,1187.00 1497.56,1187.00 1499.39,1187.00 1501.22,1187.00 1503.06,1187.00 1504.89,1187.00 1506.72,1187.00 1508.56,1187.00 1510.39,1187.00 1512.22,1187.00 1514.05,1187.00 1515.88,1187.00 1517.72,1187.00 1519.55,1187.00 1521.38,1187.00 1523.21,1187.00 1525.05,1187.00 1526.88,1187.00 1528.71,1187.00 1530.55,1187.00 1532.38,1187.00 1534.21,1187.00 1536.04,1187.00 1537.88,1187.00 1539.71,1187.00 1541.54,1187.00 1543.37,1187.00 1545.20,1187.00 1547.04,1187.00 1548.87,1187.00 1550.70,1187.00 1552.54,1187.00 1554.37,1187.00 1556.20,1187.00 1558.03,1187.00 1559.87,1187.00 1561.70,1187.00 1563.53,1187.00 1565.36,1187.00 1567.19,1187.00 1569.03,1187.00 1570.86,1187.00 1572.69,1187.00 1574.53,1187.00 1576.36,1187.00 1578.19,1187.00 1580.02,1187.00 1581.86,1187.00 1583.69,1187.00 1585.52,1187.00 1587.35,1187.00 1589.18,1187.00 1591.02,1187.00 1592.85,1187.00 1594.68,1187.00 1596.52,1187.00 1598.35,1187.00 1600.18,1187.00 1602.01,1187.00 1603.85,1187.00 1605.68,1187.00 1607.51,1187.00 1609.34,1187.00 1611.17,1187.00 1613.01,1187.00 1614.84,1187.00 1616.67,1187.00 1618.51,1187.00 1620.34,1187.00 1622.17,1187.00 1624.00,1187.00 1625.84,1187.00 1627.67,1187.00 1629.50,1187.00"/>
<polyline stroke="#0000ff" stroke-width="3.7" points="163.50,1187.00 165.33,1187.00 167.16,1187.00 169.00,1187.00 170.83,1187.00 172.66,1187.00 174.50,1187.00 176.33,1187.00 178.16,1187.00 179.99,1187.00 181.82,1187.00 183.66,1187.00 185.49,1187.00 187.32,1187.00 189.16,1187.00 190.99,1187.00 192.82,1187.00 194.65,1187.00 196.49,1187.00 198.32,1187.00 200.15,1187.00 201.98,1187.00 203.81,1187.00 205.65,1187.00 207.48,1187.00 209.31,1187.00 211.15,1187.00 212.98,1187.00 214.81,1187.00 216.64,1187.00 218.47,1187.00 220.31,1187.00 222.14,1187.00 223.97,1187.00 225.81,1187.00 227.64,1187.00 229.47,1187.00 231.30,1187.00 233.13,1187.00 234.97,1187.00 236.80,1187.00 238.63,1187.00 240.47,1187.00 242.30,1187.00 244.13,1187.00 245.96,1187.00 247.80,1187.00 249.63,1187.00 251.46,1187.00 253.29,1187.00 255.12,1187.00 256.96,1187.00 258.79,1187.00 260.62,1187.00 262.45,1187.00 264.29,1187.00 266.12,1187.00 267.95,1187.00 269.78,1187.00 271.62,1187.00 273.45,1187.00 275.28,1187.00 277.12,1187.00 278.95,1187.00 280.78,1187.00 282.61,1187.00 284.44,1187.00 286.28,1187.00 288.11,1187.00 289.94,1187.00 291.77,1187.00 293.61,1187.00 295.44,1187.00 297.27,1187.00 299.11,1187.00 300.94,1187.00 302.77,1187.00 304.60,1187.00 306.44,1187.00 308.27,1187.00 310.10,1187.00 311.93,1187.00 313.76,1187.00 315.60,1187.00 317.43,1187.00 319.26,1187.00 321.10,1187.00 322.93,1187.00 324.76,1187.00 326.59,1187.00 328.43,1187.00 330.26,1187.00 332.09,1187.00 333.92,1187.00 335.75,1187.00 337.59,1187.00 339.42,1187.00 341.25,1187.00 343.09,1187.00 344.92,1187.00 346.75,1187.00 348.58,1187.00 350.41,1187.00 352.25,1187.00 354.08,1187.00 355.91,1187.00 357.75,1186.99 359.58,1186.99 361.41,1186.99 363.24,1186.99 365.07,1186.99 366.91,1186.99 368.74,1186.99 370.57,1186.99 372.40,1186.99 374.24,1186.99 376.07,1186.99 377.90,1186.99 379.74,1186.99 381.57,1186.99 383.40,1186.99 385.23,1186.99 387.06,1186.99 388.90,1186.99 390.73,1186.99 392.56,1186.98 394.39,1186.98 396.23,1186.98 398.06,1186.98 399.89,1186.98 401.73,1186.98 403.56,1186.98 405.39,1186.98 407.22,1186.98 409.06,1186.97 410.89,1186.97 412.72,1186.97 414.55,1186.97 416.38,1186.97 418.22,1186.97 420.05,1186.96 421.88,1186.96 423.71,1186.96 425.55,1186.96 427.38,1186.95 429.21,1186.95 431.05,1186.95 432.88,1186.95 434.71,1186.94 436.54,1186.94 438.38,1186.94 440.21,1186.93 442.04,1186.93 443.87,1186.93 445.70,1186.92 447.54,1186.92 449.37,1186.91 451.20,1186.91 453.04,1186.90 454.87,1186.90 456.70,1186.89 458.53,1186.89 460.37,1186.88 462.20,1186.88 464.03,1186.87 465.86,1186.86 467.69,1186.85 469.53,1186.85 471.36,1186.84 473.19,1186.83 475.02,1186.82 476.86,1186.81 478.69,1186.80 480.52,1186.79 482.36,1186.78 484.19,1186.77 486.02,1186.76 487.85,1186.75 489.69,1186.73 491.52,1186.72 493.35,1186.70 495.18,1186.69 497.01,1186.67 498.85,1186.66 500.68,1186.64 502.51,1186.62 504.35,1186.60 506.18,1186.58 508.01,1186.56 509.84,1186.54 511.68,1186.52 513.51,1186.50 515.34,1186.47 517.17,1186.45 519.00,1186.42 520.84,1186.39 522.67,1186.36 524.50,1186.33 526.34,1186.30 528.17,1186.27 530.00,1186.23 531.83,1186.19 533.66,1186.16 535.50,1186.12 537.33,1186.07 539.16,1186.03 541.00,1185.99 542.83,1185.94 544.66,1185.89 546.49,1185.84 548.33,1185.79 550.16,1185.73 551.99,1185.67 553.82,1185.61 555.65,1185.55 557.49,1185.48 559.32,1185.41 561.15,1185.34 562.99,1185.27 564.82,1185.19 566.65,1185.11 568.48,1185.03 570.32,1184.94 572.15,1184.85 573.98,1184.75 575.81,1184.65 577.64,1184.55 579.48,1184.45 581.31,1184.34 583.14,1184.22 584.98,1184.10 586.81,1183.98 588.64,1183.85 590.47,1183.71 592.31,1183.58 594.14,1183.43 595.97,1183.28 597.80,1183.12 599.63,1182.96 601.47,1182.80 603.30,1182.62 605.13,1182.44 606.96,1182.25 608.80,1182.06 610.63,1181.86 612.46,1181.65 614.30,1181.43 616.13,1181.21 617.96,1180.97 619.79,1180.73 621.62,1180.48 623.46,1180.22 625.29,1179.95 627.12,1179.67 628.95,1179.39 630.79,1179.09 632.62,1178.78 634.45,1178.46 636.29,1178.13 638.12,1177.79 639.95,1177.44 641.78,1177.07 643.62,1176.69 645.45,1176.30 647.28,1175.90 649.11,1175.48 650.94,1175.05 652.78,1174.60 654.61,1174.14 656.44,1173.67 658.27,1173.17 660.11,1172.67 661.94,1172.14 663.77,1171.60 665.61,1171.04 667.44,1170.47 669.27,1169.87 671.10,1169.26 672.93,1168.63 674.77,1167.98 676.60,1167.31 678.43,1166.61 680.26,1165.90 682.10,1165.16 683.93,1164.41 685.76,1163.62 687.60,1162.82 689.43,1161.99 691.26,1161.14 693.09,1160.26 694.92,1159.36 696.76,1158.43 698.59,1157.47 700.42,1156.49 702.25,1155.47 704.09,1154.43 705.92,1153.36 707.75,1152.26 709.59,1151.13 711.42,1149.96 713.25,1148.77 715.08,1147.54 716.91,1146.28 718.75,1144.98 720.58,1143.65 722.41,1142.29 724.25,1140.88 726.08,1139.44 727.91,1137.97 729.74,1136.45 731.58,1134.90 733.41,1133.30 735.24,1131.67 737.07,1129.99 738.90,1128.27 740.74,1126.51 742.57,1124.70 744.40,1122.85 746.24,1120.96 748.07,1119.02 749.90,1117.03 751.73,1114.99 753.57,1112.91 755.40,1110.78 757.23,1108.59 759.06,1106.36 760.89,1104.07 762.73,1101.74 764.56,1099.35 766.39,1096.90 768.23,1094.41 770.06,1091.85 771.89,1089.24 773.72,1086.58 775.55,1083.85 777.39,1081.07 779.22,1078.23 781.05,1075.33 782.88,1072.37 784.72,1069.35 786.55,1066.26 788.38,1063.11 790.22,1059.90 792.05,1056.63 793.88,1053.29 795.71,1049.89 797.54,1046.42 799.38,1042.88 801.21,1039.28 803.04,1035.60 804.88,1031.86 806.71,1028.06 808.54,1024.18 810.37,1020.23 812.21,1016.21 814.04,1012.12 815.87,1007.96 817.70,1003.72 819.53,999.42 821.37,995.04 823.20,990.58 825.03,986.06 826.87,981.46 828.70,976.78 830.53,972.03 832.36,967.21 834.20,962.31 836.03,957.33 837.86,952.28 839.69,947.15 841.52,941.95 843.36,936.67 845.19,931.32 847.02,925.89 848.86,920.38 850.69,914.80 852.52,909.14 854.35,903.41 856.18,897.60 858.02,891.71 859.85,885.75 861.68,879.71 863.51,873.60 865.35,867.42 867.18,861.16 869.01,854.82 870.85,848.42 872.68,841.94 874.51,835.39 876.34,828.76 878.17,822.07 880.01,815.31 881.84,808.47 883.67,801.57 885.50,794.60 887.34,787.56 889.17,780.46 891.00,773.29 892.84,766.05 894.67,758.76 896.50,751.40 898.33,743.97 900.16,736.49 902.00,728.95 903.83,721.36 905.66,713.70 907.50,705.99 909.33,698.23 911.16,690.41 912.99,682.55 914.83,674.63 916.66,666.67 918.49,658.66 920.32,650.61 922.15,642.52 923.99,634.38 925.82,626.21 927.65,618.00 929.49,609.75 931.32,601.47 933.15,593.16 934.98,584.82 936.82,576.45 938.65,568.06 940.48,559.64 942.31,551.20 944.14,542.75 945.98,534.28 947.81,525.79 949.64,517.29 951.48,508.79 953.31,500.27 955.14,491.76 956.97,483.24 958.80,474.72 960.64,466.20 962.47,457.69 964.30,449.19 966.13,440.70 967.97,432.22 969.80,423.76 971.63,415.31 973.47,406.89 975.30,398.49 977.13,390.12 978.96,381.78 980.79,373.47 982.63,365.20 984.46,356.96 986.29,348.77 988.12,340.62 989.96,332.51 991.79,324.46 993.62,316.46 995.46,308.51 997.29,300.62 999.12,292.80 1000.95,285.03 1002.78,277.33 1004.62,269.70 1006.45,262.15 1008.28,254.67 1010.12,247.26 1011.95,239.94 1013.78,232.70 1015.61,225.55 1017.45,218.49 1019.28,211.52 1021.11,204.64 1022.94,197.86 1024.78,191.18 1026.61,184.60 1028.44,178.13 1030.27,171.76 1032.11,165.51 1033.94,159.37 1035.77,153.34 1037.60,147.43 1039.43,141.65 1041.27,135.98 1043.10,130.44 1044.93,125.03 1046.76,119.74 1048.60,114.59 1050.43,109.57 1052.26,104.69 1054.10,99.94 1055.93,95.34 1057.76,90.88 1059.59,86.56 1061.42,82.38 1063.26,78.36 1065.09,74.48 1066.92,70.76 1068.76,67.18 1070.59,63.76 1072.42,60.50 1074.25,57.39 1076.09,54.44 1077.92,51.66 1079.75,49.03 1081.58,46.56 1083.41,44.26 1085.25,42.12 1087.08,40.14 1088.91,38.33 1090.74,36.69 1092.58,35.22 1094.41,33.91 1096.24,32.77 1098.08,31.80 1099.91,31.00 1101.74,30.37 1103.57,29.91 1105.40,29.62 1107.24,29.50 1109.07,29.55 1110.90,29.78 1112.74,30.17 1114.57,30.73 1116.40,31.46 1118.23,32.36 1120.07,33.43 1121.90,34.67 1123.73,36.08 1125.56,37.66 1127.39,39.40 1129.23,41.31 1131.06,43.38 1132.89,45.62 1134.72,48.02 1136.56,50.58 1138.39,53.31 1140.22,56.19 1142.05,59.24 1143.89,62.44 1145.72,65.80 1147.55,69.31 1149.38,72.97 1151.22,76.79 1153.05,80.76 1154.88,84.87 1156.72,89.13 1158.55,93.54 1160.38,98.08 1162.21,102.77 1164.05,107.60 1165.88,112.57 1167.71,117.66 1169.54,122.90 1171.38,128.26 1173.21,133.75 1175.04,139.36 1176.87,145.10 1178.70,150.96 1180.54,156.94 1182.37,163.04 1184.20,169.25 1186.03,175.57 1187.87,182.00 1189.70,188.54 1191.53,195.17 1193.37,201.92 1195.20,208.75 1197.03,215.69 1198.86,222.72 1200.69,229.83 1202.53,237.04 1204.36,244.33 1206.19,251.70 1208.03,259.15 1209.86,266.67 1211.69,274.27 1213.52,281.94 1215.36,289.68 1217.19,297.48 1219.02,305.35 1220.85,313.27 1222.68,321.25 1224.52,329.29 1226.35,337.37 1228.18,345.50 1230.02,353.68 1231.85,361.90 1233.68,370.16 1235.51,378.45 1237.35,386.78 1239.18,395.14 1241.01,403.53 1242.84,411.94 1244.67,420.38 1246.51,428.83 1248.34,437.30 1250.17,445.79 1252.01,454.29 1253.84,462.80 1255.67,471.31 1257.50,479.83 1259.34,488.35 1261.17,496.87 1263.00,505.38 1264.83,513.89 1266.66,522.39 1268.50,530.88 1270.33,539.36 1272.16,547.82 1273.99,556.27 1275.83,564.69 1277.66,573.10 1279.49,581.47 1281.33,589.83 1283.16,598.15 1284.99,606.44 1286.82,614.70 1288.65,622.93 1290.49,631.12 1292.32,639.27 1294.15,647.38 1295.98,655.45 1297.82,663.48 1299.65,671.46 1301.48,679.39 1303.32,687.27 1305.15,695.11 1306.98,702.89 1308.81,710.62 1310.64,718.30 1312.48,725.92 1314.31,733.48 1316.14,740.99 1317.97,748.43 1319.81,755.82 1321.64,763.14 1323.47,770.40 1325.31,777.60 1327.14,784.73 1328.97,791.79 1330.80,798.79 1332.63,805.72 1334.47,812.58 1336.30,819.37 1338.13,826.10 1339.96,832.75 1341.80,839.33 1343.63,845.83 1345.46,852.27 1347.30,858.63 1349.13,864.92 1350.96,871.14 1352.79,877.28 1354.62,883.34 1356.46,889.33 1358.29,895.25 1360.12,901.09 1361.95,906.86 1363.79,912.54 1365.62,918.16 1367.45,923.69 1369.29,929.16 1371.12,934.54 1372.95,939.85 1374.78,945.08 1376.62,950.24 1378.45,955.32 1380.28,960.33 1382.11,965.26 1383.94,970.11 1385.78,974.89 1387.61,979.59 1389.44,984.22 1391.28,988.78 1393.11,993.26 1394.94,997.67 1396.77,1002.01 1398.61,1006.27 1400.44,1010.46 1402.27,1014.58 1404.10,1018.63 1405.93,1022.61 1407.77,1026.51 1409.60,1030.35 1411.43,1034.12 1413.27,1037.82 1415.10,1041.45 1416.93,1045.01 1418.76,1048.51 1420.60,1051.94 1422.43,1055.30 1424.26,1058.60 1426.09,1061.84 1427.92,1065.01 1429.76,1068.12 1431.59,1071.17 1433.42,1074.15 1435.26,1077.08 1437.09,1079.94 1438.92,1082.75 1440.75,1085.49 1442.59,1088.18 1444.42,1090.82 1446.25,1093.39 1448.08,1095.91 1449.91,1098.38 1451.75,1100.79 1453.58,1103.15 1455.41,1105.45 1457.24,1107.71 1459.08,1109.91 1460.91,1112.06 1462.74,1114.16 1464.58,1116.22 1466.41,1118.23 1468.24,1120.19 1470.07,1122.10 1471.90,1123.97 1473.74,1125.79 1475.57,1127.57 1477.40,1129.31 1479.23,1131.00 1481.07,1132.65 1482.90,1134.26 1484.73,1135.83 1486.57,1137.36 1488.40,1138.86 1490.23,1140.31 1492.06,1141.73 1493.89,1143.11 1495.73,1144.45 1497.56,1145.76 1499.39,1147.04 1501.22,1148.28 1503.06,1149.49 1504.89,1150.67 1506.72,1151.81 1508.56,1152.92 1510.39,1154.01 1512.22,1155.06 1514.05,1156.08 1515.88,1157.08 1517.72,1158.05 1519.55,1158.99 1521.38,1159.90 1523.21,1160.79 1525.05,1161.65 1526.88,1162.49 1528.71,1163.31 1530.55,1164.10 1532.38,1164.86 1534.21,1165.61 1536.04,1166.33 1537.88,1167.03 1539.71,1167.71 1541.54,1168.37 1543.37,1169.01 1545.20,1169.63 1547.04,1170.23 1548.87,1170.82 1550.70,1171.38 1552.54,1171.93 1554.37,1172.46 1556.20,1172.97 1558.03,1173.47 1559.87,1173.95 1561.70,1174.42 1563.53,1174.87 1565.36,1175.31 1567.19,1175.73 1569.03,1176.14 1570.86,1176.54 1572.69,1176.92 1574.53,1177.29 1576.36,1177.65 1578.19,1178.00 1580.02,1178.33 1581.86,1178.65 1583.69,1178.97 1585.52,1179.27 1587.35,1179.56 1589.18,1179.84 1591.02,1180.11 1592.85,1180.38 1594.68,1180.63 1596.52,1180.88 1598.35,1181.11 1600.18,1181.34 1602.01,1181.56 1603.85,1181.77 1605.68,1181.98 1607.51,1182.18 1609.34,1182.37 1611.17,1182.55 1613.01,1182.73 1614.84,1182.90 1616.67,1183.06 1618.51,1183.22 1620.34,1183.37 1622.17,1183.52 1624.00,1183.66 1625.84,1183.80 1627.67,1183.93 1629.50,1184.05"/>
<polyline stroke="#7e2f8e" stroke-width="12.3" points="625.0,1187.0 625.2,1185.0 625.5,1183.0 625.8,1181.0 626.0,1179.0 626.3,1177.0 626.6,1175.1 626.9,1173.1 627.2,1171.1 627.5,1169.1 627.9,1167.1 628.2,1165.2 628.6,1163.2 628.9,1161.2 629.3,1159.3 629.7,1157.3 630.1,1155.4 630.5,1153.4 630.9,1151.4 631.3,1149.5 631.7,1147.5 632.2,1145.6 632.6,1143.7 633.1,1141.7 633.5,1139.8 634.0,1137.8 634.6,1135.9 635.1,1134.0 635.7,1132.1 636.2,1130.2 636.8,1128.3 637.4,1126.4 638.1,1124.4 638.7,1122.5 639.3,1120.6 639.9,1118.7 640.5,1116.8 641.1,1114.9 641.6,1113.0 642.2,1111.0 642.7,1109.1 643.2,1107.2 643.7,1105.3 644.2,1103.3 644.7,1101.4 645.1,1099.4 645.6,1097.5 646.0,1095.5 646.4,1093.6 646.9,1091.6 647.3,1089.7 647.7,1087.7 648.1,1085.8 648.6,1083.8 649.0,1081.8 649.4,1079.9 649.8,1077.9 650.3,1076.0 650.7,1074.0 651.1,1072.1 651.6,1070.1 652.0,1068.2 652.5,1066.2 652.9,1064.3 653.4,1062.3 653.9,1060.4 654.3,1058.4 654.8,1056.5 655.3,1054.5 655.7,1052.6 656.2,1050.7 656.7,1048.7 657.1,1046.8 657.6,1044.8 658.0,1042.9 658.5,1040.9 659.0,1039.0 659.4,1037.0 659.9,1035.1 660.3,1033.1 660.7,1031.2 661.2,1029.2 661.6,1027.3 662.0,1025.3 662.4,1023.3 662.8,1021.4 663.1,1019.4 663.5,1017.4 663.9,1015.5 664.2,1013.5 664.6,1011.5 664.9,1009.5 665.3,1007.5 665.6,1005.6 666.0,1003.6 666.3,1001.6 666.7,999.6 667.0,997.7 667.4,995.7 667.8,993.7 668.2,991.8 668.5,989.8 669.0,987.9 669.4,985.9 669.8,984.0 670.3,982.0 670.7,980.1 671.2,978.2 671.8,976.3 672.4,974.4 673.0,972.5 673.6,970.6 674.3,968.7 675.0,966.9 675.8,965.0 676.5,963.2 677.3,961.3 678.0,959.4 678.7,957.6 679.4,955.7 680.1,953.8 680.7,951.9 681.3,950.0 681.9,948.1 682.5,946.2 683.0,944.3 683.6,942.4 684.1,940.4 684.7,938.5 685.2,936.6 685.7,934.6 686.3,932.7 686.8,930.8 687.3,928.8 687.8,926.9 688.3,925.0 688.8,923.0 689.3,921.1 689.8,919.2 690.3,917.2 690.8,915.3 691.4,913.3 691.9,911.4 692.4,909.5 692.9,907.5 693.4,905.6 694.0,903.7 694.5,901.8 695.1,899.8 695.6,897.9 696.2,896.0 696.7,894.1 697.3,892.1 697.8,890.2 698.4,888.3 698.9,886.4 699.5,884.4 700.0,882.5 700.6,880.6 701.1,878.7 701.7,876.7 702.2,874.8 702.8,872.9 703.3,871.0 703.9,869.0 704.4,867.1 705.0,865.2 705.6,863.3 706.1,861.4 706.7,859.4 707.2,857.5 707.8,855.6 708.4,853.7 709.0,851.8 709.5,849.8 710.1,847.9 710.7,846.0 711.3,844.1 711.9,842.2 712.5,840.3 713.1,838.4 713.7,836.5 714.3,834.6 714.9,832.7 715.5,830.8 716.2,828.9 716.8,827.0 717.4,825.1 718.1,823.2 718.7,821.3 719.4,819.4 720.0,817.5 720.7,815.7 721.4,813.8 722.1,811.9 722.8,810.0 723.5,808.2 724.2,806.3 724.9,804.4 725.6,802.6 726.3,800.7 727.1,798.8 727.8,797.0 728.6,795.1 729.3,793.3 730.1,791.4 730.8,789.6 731.6,787.7 732.4,785.9 733.1,784.0 733.9,782.2 734.7,780.3 735.5,778.5 736.3,776.6 737.1,774.8 737.8,773.0 738.6,771.1 739.4,769.3 740.2,767.5 741.1,765.6 741.9,763.8 742.7,762.0 743.5,760.2 744.4,758.4 745.2,756.6 746.1,754.7 746.9,752.9 747.8,751.1 748.6,749.3 749.5,747.5 750.3,745.7 751.2,743.9 752.1,742.1 752.9,740.3 753.8,738.5 754.6,736.7 755.5,734.9 756.3,733.0 757.2,731.2 758.0,729.4 758.8,727.6 759.7,725.8 760.5,724.0 761.3,722.1 762.1,720.3 762.9,718.5 763.7,716.6 764.5,714.8 765.3,713.0 766.1,711.1 766.9,709.3 767.7,707.5 768.5,705.6 769.3,703.8 770.1,702.0 770.9,700.1 771.7,698.3 772.5,696.5 773.3,694.6 774.2,692.8 775.0,691.0 775.8,689.2 776.6,687.3 777.5,685.5 778.3,683.7 779.1,681.9 780.0,680.1 780.8,678.3 781.6,676.4 782.5,674.6 783.3,672.8 784.2,671.0 785.1,669.2 785.9,667.4 786.8,665.6 787.7,663.8 788.5,662.0 789.4,660.2 790.3,658.4 791.2,656.6 792.1,654.8 793.0,653.0 793.9,651.3 794.8,649.5 795.7,647.7 796.6,645.9 797.5,644.1 798.4,642.3 799.3,640.6 800.2,638.8 801.2,637.0 802.1,635.2 803.0,633.5 804.0,631.7 804.9,629.9 805.8,628.2 806.8,626.4 807.7,624.6 808.7,622.9 809.6,621.1 810.6,619.4 811.5,617.6 812.5,615.8 813.4,614.1 814.4,612.3 815.4,610.6 816.3,608.8 817.3,607.1 818.3,605.4 819.3,603.6 820.3,601.9 821.3,600.2 822.3,598.4 823.4,596.7 824.4,595.0 825.4,593.3 826.4,591.6 827.4,589.8 828.4,588.1 829.4,586.4 830.4,584.6 831.4,582.9 832.4,581.2 833.4,579.4 834.3,577.7 835.3,575.9 836.2,574.2 837.2,572.4 838.2,570.6 839.1,568.9 840.1,567.1 841.0,565.4 842.0,563.6 842.9,561.8 843.9,560.1 844.8,558.3 845.8,556.5 846.7,554.8 847.7,553.0 848.6,551.2 849.5,549.5 850.5,547.7 851.4,545.9 852.3,544.1 853.3,542.4 854.2,540.6 855.1,538.8 856.0,537.0 856.9,535.2 857.9,533.5 858.8,531.7 859.7,529.9 860.6,528.1 861.5,526.3 862.4,524.5 863.2,522.7 864.1,520.9 865.0,519.1 865.9,517.3 866.8,515.5 867.6,513.7 868.5,511.9 869.3,510.1 870.2,508.3 871.0,506.5 871.9,504.7 872.7,502.9 873.5,501.1 874.4,499.3 875.2,497.4 876.0,495.6 876.8,493.8 877.6,492.0 878.4,490.1 879.2,488.3 880.0,486.5 880.7,484.6 881.5,482.8 882.3,481.0 883.0,479.1 883.8,477.3 884.6,475.4 885.3,473.6 886.0,471.7 886.8,469.9 887.5,468.0 888.2,466.2 889.0,464.3 889.7,462.4 890.4,460.6 891.1,458.7 891.8,456.8 892.5,455.0 893.3,453.1 894.0,451.2 894.7,449.3 895.4,447.5 896.1,445.6 896.7,443.7 897.4,441.8 898.1,440.0 898.8,438.1 899.5,436.2 900.2,434.3 900.9,432.4 901.5,430.5 902.2,428.7 902.9,426.8 903.6,424.9 904.3,423.0 904.9,421.1 905.6,419.2 906.3,417.3 907.0,415.5 907.7,413.6 908.3,411.7 909.0,409.8 909.7,407.9 910.4,406.0 911.1,404.2 911.7,402.3 912.4,400.4 913.1,398.5 913.8,396.6 914.5,394.7 915.2,392.9 915.9,391.0 916.6,389.1 917.3,387.2 918.0,385.4 918.7,383.5 919.4,381.6 920.1,379.7 920.8,377.9 921.5,376.0 922.2,374.1 922.9,372.3 923.7,370.4 924.4,368.5 925.1,366.7 925.8,364.8 926.5,362.9 927.2,361.1 928.0,359.2 928.7,357.3 929.4,355.5 930.1,353.6 930.8,351.7 931.6,349.9 932.3,348.0 933.0,346.1 933.7,344.3 934.4,342.4 935.2,340.5 935.9,338.7 936.6,336.8 937.3,334.9 938.0,333.1 938.8,331.2 939.5,329.3 940.2,327.5 940.9,325.6 941.6,323.7 942.4,321.9 943.1,320.0 943.8,318.2 944.5,316.3 945.3,314.4 946.0,312.6 946.7,310.7 947.4,308.8 948.2,307.0 948.9,305.1 949.6,303.2 950.3,301.4 951.1,299.5 951.8,297.6 952.5,295.8 953.3,293.9 954.0,292.1 954.7,290.2 955.4,288.3 956.2,286.5 956.9,284.6 957.6,282.8 958.4,280.9 959.1,279.0 959.8,277.2 960.6,275.3 961.3,273.4 962.0,271.6 962.8,269.7 963.5,267.9 964.2,266.0 965.0,264.1 965.7,262.3 966.4,260.4 967.2,258.6 967.9,256.7 968.6,254.8 969.3,253.0 970.1,251.1 970.8,249.2 971.5,247.4 972.3,245.5 973.0,243.7 973.7,241.8 974.4,239.9 975.2,238.1 975.9,236.2 976.6,234.3 977.3,232.5 978.1,230.6 978.8,228.7 979.5,226.9 980.2,225.0 981.0,223.1 981.7,221.3 982.4,219.4 983.1,217.5 983.8,215.7 984.6,213.8 985.3,211.9 986.0,210.1 986.8,208.2 987.5,206.3 988.2,204.5 989.0,202.6 989.7,200.8 990.4,198.9 991.2,197.0 991.9,195.2 992.6,193.3 993.4,191.5 994.1,189.6 994.9,187.7 995.6,185.9 996.4,184.0 997.1,182.2 997.9,180.3 998.6,178.5 999.4,176.6 1000.1,174.8 1000.9,172.9 1001.7,171.1 1002.4,169.2 1003.2,167.4 1004.0,165.5 1004.7,163.7 1005.5,161.9 1006.3,160.0 1007.1,158.2 1007.9,156.3 1008.7,154.5 1009.5,152.7 1010.3,150.9 1011.1,149.0 1011.9,147.2 1012.7,145.4 1013.5,143.5 1014.3,141.7 1015.1,139.8 1015.9,138.0 1016.7,136.1 1017.5,134.3 1018.3,132.4 1019.1,130.6 1019.9,128.7 1020.7,126.9 1021.5,125.0 1022.3,123.2 1023.2,121.4 1024.0,119.5 1024.9,117.7 1025.7,115.9 1026.6,114.1 1027.5,112.3 1028.4,110.5 1029.3,108.7 1030.2,106.9 1031.1,105.2 1032.1,103.4 1033.0,101.7 1034.0,100.0 1035.0,98.3 1036.1,96.6 1037.1,95.0 1038.2,93.3 1039.3,91.6 1040.4,90.0 1041.6,88.3 1042.8,86.6 1044.0,85.0 1045.2,83.3 1046.5,81.7 1047.8,80.1 1049.1,78.6 1050.4,77.1 1051.8,75.6 1053.2,74.1 1054.6,72.8 1056.1,71.4 1057.5,70.1 1059.1,68.9 1060.6,67.7 1062.2,66.5 1063.9,65.4 1065.6,64.2 1067.4,63.2 1069.2,62.2 1071.0,61.4 1072.9,60.6 1074.7,60.1 1076.6,59.7 1078.5,59.5 1080.4,59.5 1082.4,59.6 1084.4,59.9 1086.3,60.2 1088.3,60.7 1090.3,61.2 1092.3,61.7 1094.3,62.3 1096.2,63.0 1098.1,63.7 1099.9,64.4 1101.7,65.1 1103.4,65.9 1105.1,66.8 1106.7,67.7 1108.4,68.7 1110.0,69.8 1111.5,71.0 1113.1,72.2 1114.6,73.6 1116.1,74.9 1117.6,76.4 1119.1,77.8 1120.5,79.4 1121.9,80.9 1123.3,82.5 1124.6,84.1 1126.0,85.7 1127.3,87.4 1128.5,89.0 1129.7,90.6 1130.9,92.2 1132.1,93.8 1133.2,95.5 1134.4,97.1 1135.5,98.7 1136.6,100.3 1137.6,102.0 1138.7,103.7 1139.7,105.4 1140.7,107.1 1141.7,108.8 1142.7,110.6 1143.7,112.3 1144.7,114.1 1145.6,115.9 1146.6,117.7 1147.5,119.5 1148.4,121.4 1149.3,123.2 1150.1,125.0 1151.0,126.9 1151.8,128.7 1152.6,130.6 1153.4,132.5 1154.2,134.3 1154.9,136.2 1155.6,138.1 1156.4,139.9 1157.0,141.8 1157.7,143.7 1158.4,145.5 1159.0,147.4 1159.6,149.3 1160.2,151.1 1160.8,153.0 1161.4,154.9 1162.0,156.8 1162.6,158.7 1163.1,160.6 1163.7,162.5 1164.2,164.4 1164.7,166.3 1165.3,168.2 1165.8,170.1 1166.3,172.0 1166.8,174.0 1167.3,175.9 1167.7,177.8 1168.2,179.8 1168.7,181.7 1169.2,183.7 1169.6,185.6 1170.1,187.6 1170.5,189.5 1170.9,191.5 1171.4,193.4 1171.8,195.4 1172.2,197.3 1172.7,199.3 1173.1,201.3 1173.5,203.2 1173.9,205.2 1174.3,207.2 1174.8,209.2 1175.2,211.1 1175.6,213.1 1176.0,215.1 1176.4,217.1 1176.8,219.0 1177.2,221.0 1177.6,223.0 1178.0,225.0 1178.4,226.9 1178.8,228.9 1179.2,230.9 1179.6,232.9 1180.1,234.8 1180.5,236.8 1180.9,238.8 1181.3,240.7 1181.7,242.7 1182.2,244.7 1182.6,246.6 1183.0,248.6 1183.5,250.6 1183.9,252.5 1184.4,254.5 1184.8,256.4 1185.3,258.4 1185.7,260.3 1186.2,262.3 1186.7,264.2 1187.1,266.2 1187.6,268.1 1188.1,270.0 1188.6,272.0 1189.1,273.9 1189.6,275.9 1190.0,277.8 1190.5,279.7 1191.0,281.7 1191.5,283.6 1192.0,285.6 1192.5,287.5 1193.0,289.4 1193.5,291.4 1194.0,293.3 1194.5,295.3 1195.0,297.2 1195.5,299.1 1196.0,301.1 1196.4,303.0 1196.9,305.0 1197.4,306.9 1197.9,308.8 1198.4,310.8 1198.9,312.7 1199.4,314.6 1199.9,316.6 1200.4,318.5 1200.9,320.5 1201.3,322.4 1201.8,324.3 1202.3,326.3 1202.8,328.2 1203.3,330.2 1203.7,332.1 1204.2,334.1 1204.7,336.0 1205.1,338.0 1205.6,339.9 1206.0,341.8 1206.5,343.8 1206.9,345.7 1207.4,347.7 1207.8,349.6 1208.3,351.6 1208.7,353.5 1209.1,355.5 1209.6,357.4 1210.0,359.4 1210.4,361.4 1210.8,363.3 1211.2,365.3 1211.6,367.2 1212.1,369.2 1212.5,371.1 1212.9,373.1 1213.3,375.1 1213.6,377.0 1214.0,379.0 1214.4,380.9 1214.8,382.9 1215.2,384.9 1215.6,386.8 1216.0,388.8 1216.3,390.8 1216.7,392.7 1217.1,394.7 1217.5,396.7 1217.8,398.6 1218.2,400.6 1218.6,402.6 1218.9,404.5 1219.3,406.5 1219.7,408.5 1220.0,410.4 1220.4,412.4 1220.8,414.4 1221.1,416.3 1221.5,418.3 1221.8,420.3 1222.2,422.2 1222.6,424.2 1222.9,426.2 1223.3,428.1 1223.6,430.1 1224.0,432.1 1224.3,434.0 1224.7,436.0 1225.1,438.0 1225.4,439.9 1225.8,441.9 1226.1,443.9 1226.5,445.8 1226.9,447.8 1227.2,449.8 1227.6,451.8 1227.9,453.7 1228.3,455.7 1228.7,457.6 1229.0,459.6 1229.4,461.6 1229.8,463.5 1230.2,465.5 1230.5,467.5 1230.9,469.4 1231.3,471.4 1231.7,473.4 1232.0,475.3 1232.4,477.3 1232.8,479.3 1233.2,481.2 1233.6,483.2 1234.0,485.1 1234.4,487.1 1234.8,489.0 1235.2,491.0 1235.6,493.0 1236.0,494.9 1236.4,496.9 1236.8,498.8 1237.3,500.8 1237.7,502.7 1238.1,504.7 1238.5,506.6 1239.0,508.6 1239.4,510.6 1239.8,512.5 1240.2,514.5 1240.7,516.4 1241.1,518.4 1241.6,520.3 1242.0,522.3 1242.4,524.2 1242.9,526.2 1243.3,528.1 1243.8,530.1 1244.2,532.0 1244.7,534.0 1245.1,535.9 1245.6,537.9 1246.0,539.8 1246.5,541.8 1246.9,543.7 1247.4,545.6 1247.9,547.6 1248.3,549.5 1248.8,551.5 1249.2,553.4 1249.7,555.4 1250.2,557.3 1250.6,559.3 1251.1,561.2 1251.6,563.2 1252.0,565.1 1252.5,567.1 1253.0,569.0 1253.4,570.9 1253.9,572.9 1254.4,574.8 1254.8,576.8 1255.3,578.7 1255.8,580.7 1256.2,582.6 1256.7,584.6 1257.2,586.5 1257.6,588.5 1258.1,590.4 1258.6,592.3 1259.0,594.3 1259.5,596.2 1260.0,598.2 1260.4,600.1 1260.9,602.1 1261.4,604.0 1261.8,606.0 1262.3,607.9 1262.8,609.9 1263.2,611.8 1263.7,613.7 1264.1,615.7 1264.6,617.6 1265.1,619.6 1265.5,621.5 1266.0,623.5 1266.4,625.4 1266.9,627.4 1267.4,629.3 1267.8,631.3 1268.3,633.2 1268.7,635.2 1269.2,637.1 1269.7,639.1 1270.1,641.0 1270.6,642.9 1271.0,644.9 1271.5,646.8 1272.0,648.8 1272.4,650.7 1272.9,652.7 1273.3,654.6 1273.8,656.6 1274.3,658.5 1274.7,660.5 1275.2,662.4 1275.7,664.4 1276.1,666.3 1276.6,668.3 1277.1,670.2 1277.5,672.1 1278.0,674.1 1278.5,676.0 1278.9,678.0 1279.4,679.9 1279.9,681.9 1280.4,683.8 1280.8,685.7 1281.3,687.7 1281.8,689.6 1282.3,691.6 1282.8,693.5 1283.3,695.5 1283.7,697.4 1284.2,699.3 1284.7,701.3 1285.2,703.2 1285.7,705.1 1286.2,707.1 1286.7,709.0 1287.2,711.0 1287.7,712.9 1288.2,714.8 1288.7,716.8 1289.2,718.7 1289.7,720.6 1290.3,722.5 1290.8,724.5 1291.3,726.4 1291.8,728.3 1292.3,730.3 1292.9,732.2 1293.4,734.1 1293.9,736.1 1294.4,738.0 1295.0,739.9 1295.5,741.8 1296.0,743.8 1296.6,745.7 1297.1,747.6 1297.6,749.5 1298.2,751.5 1298.7,753.4 1299.3,755.3 1299.8,757.2 1300.4,759.2 1300.9,761.1 1301.5,763.0 1302.0,764.9 1302.6,766.9 1303.1,768.8 1303.7,770.7 1304.3,772.6 1304.8,774.5 1305.4,776.5 1306.0,778.4 1306.5,780.3 1307.1,782.2 1307.7,784.1 1308.2,786.1 1308.8,788.0 1309.4,789.9 1310.0,791.8 1310.5,793.7 1311.1,795.6 1311.7,797.6 1312.3,799.5 1312.9,801.4 1313.5,803.3 1314.0,805.2 1314.6,807.1 1315.2,809.0 1315.8,810.9 1316.4,812.9 1317.0,814.8 1317.6,816.7 1318.2,818.6 1318.8,820.5 1319.4,822.4 1320.0,824.3 1320.6,826.2 1321.2,828.1 1321.9,830.0 1322.5,831.9 1323.1,833.8 1323.7,835.7 1324.3,837.6 1324.9,839.5 1325.6,841.4 1326.2,843.3 1326.8,845.2 1327.4,847.1 1328.1,849.0 1328.7,850.9 1329.3,852.8 1330.0,854.7 1330.6,856.6 1331.2,858.5 1331.9,860.4 1332.5,862.3 1333.2,864.2 1333.8,866.0 1334.5,867.9 1335.1,869.8 1335.8,871.7 1336.4,873.6 1337.1,875.5 1337.8,877.4 1338.4,879.3 1339.1,881.2 1339.8,883.0 1340.4,884.9 1341.1,886.8 1341.8,888.7 1342.5,890.6 1343.1,892.5 1343.8,894.3 1344.5,896.2 1345.2,898.1 1345.9,900.0 1346.5,901.9 1347.2,903.7 1347.9,905.6 1348.6,907.5 1349.3,909.4 1350.0,911.3 1350.7,913.1 1351.4,915.0 1352.1,916.9 1352.8,918.8 1353.5,920.6 1354.2,922.5 1354.9,924.4 1355.6,926.3 1356.3,928.1 1357.0,930.0 1357.7,931.9 1358.4,933.7 1359.1,935.6 1359.9,937.5 1360.6,939.3 1361.3,941.2 1362.0,943.1 1362.7,945.0 1363.4,946.8 1364.2,948.7 1364.9,950.5 1365.6,952.4 1366.3,954.3 1367.1,956.1 1367.8,958.0 1368.5,959.9 1369.3,961.7 1370.0,963.6 1370.7,965.4 1371.5,967.3 1372.2,969.1 1373.0,971.0 1373.8,972.8 1374.6,974.7 1375.4,976.5 1376.2,978.3 1377.0,980.2 1377.8,982.0 1378.6,983.8 1379.5,985.6 1380.3,987.5 1381.2,989.3 1382.0,991.1 1382.9,992.9 1383.7,994.7 1384.6,996.5 1385.5,998.3 1386.4,1000.1 1387.3,1001.9 1388.2,1003.7 1389.1,1005.5 1390.0,1007.3 1390.9,1009.1 1391.9,1010.8 1392.8,1012.6 1393.8,1014.3 1394.8,1016.1 1395.8,1017.8 1396.8,1019.5 1397.8,1021.2 1398.8,1022.9 1399.9,1024.6 1400.9,1026.3 1402.0,1028.0 1403.1,1029.6 1404.3,1031.3 1405.4,1032.9 1406.6,1034.5 1407.8,1036.1 1409.0,1037.7 1410.2,1039.3 1411.5,1040.9 1412.7,1042.5 1413.9,1044.1 1415.1,1045.6 1416.4,1047.2 1417.6,1048.8 1418.8,1050.4 1420.1,1052.0 1421.3,1053.6 1422.5,1055.1 1423.8,1056.7 1425.0,1058.3 1426.3,1059.8 1427.5,1061.4 1428.8,1062.9 1430.1,1064.5 1431.4,1066.0 1432.7,1067.5 1434.0,1069.0 1435.4,1070.5 1436.7,1071.9 1438.1,1073.4 1439.5,1074.9 1440.9,1076.4 1442.3,1077.8 1443.7,1079.3 1445.1,1080.7 1446.6,1082.1 1448.1,1083.5 1449.6,1084.8 1451.1,1086.1 1452.6,1087.4 1454.2,1088.6 1455.8,1089.8 1457.4,1090.8 1459.0,1091.9 1460.7,1092.9 1462.5,1093.8 1464.2,1094.8 1466.0,1095.6 1467.9,1096.5 1469.7,1097.3 1471.6,1098.1 1473.4,1098.8 1475.3,1099.6 1477.2,1100.3 1479.0,1101.0 1480.9,1101.8 1482.8,1102.5 1484.7,1103.1 1486.6,1103.8 1488.5,1104.4 1490.4,1105.0 1492.3,1105.6 1494.3,1106.1 1496.2,1106.6 1498.1,1107.0 1500.1,1107.4 1502.0,1107.8 1504.0,1108.1 1506.0,1108.4 1507.9,1108.7 1509.9,1109.0 1511.9,1109.3 1513.9,1109.5 1515.9,1109.8 1517.9,1110.0 1519.9,1110.2 1521.9,1110.4 1523.9,1110.6 1525.9,1110.7 1527.9,1110.8 1529.9,1110.8 1531.9,1110.9 1533.9,1110.8 1535.8,1110.8 1537.8,1110.7 1539.8,1110.5 1541.8,1110.3 1543.8,1110.1 1545.8,1109.8 1547.8,1109.6 1549.8,1109.3 1551.7,1109.0 1553.7,1108.7 1555.7,1108.3 1557.7,1108.0 1559.7,1107.7 1561.6,1107.4 1563.6,1107.0 1565.6,1106.7 1567.5,1106.3 1569.5,1105.9 1571.5,1105.6 1573.4,1105.2 1575.4,1104.8 1577.4,1104.5 1579.3,1104.2 1581.3,1103.9 1583.3,1103.6 1585.3,1103.3 1587.3,1103.0 1589.3,1102.8 1591.3,1102.5 1593.3,1102.3 1595.3,1102.0 1597.2,1101.8 1599.2,1101.5 1601.2,1101.2 1603.2,1101.0 1605.2,1100.6 1607.1,1100.3 1609.1,1100.0 1611.0,1099.6 1612.9,1099.1 1614.9,1098.6 1616.8,1098.1 1618.7,1097.5 1620.6,1096.9 1622.4,1096.2 1624.2,1095.6 1626.0,1094.9 1627.8,1094.2 1629.5,1093.5"/>
<polyline stroke="#ff00ff" stroke-width="3.7" points="163.50,1187.00 165.33,1187.00 167.16,1187.00 169.00,1187.00 170.83,1187.00 172.66,1187.00 174.50,1187.00 176.33,1187.00 178.16,1187.00 179.99,1187.00 181.82,1187.00 183.66,1187.00 185.49,1187.00 187.32,1187.00 189.16,1187.00 190.99,1187.00 192.82,1187.00 194.65,1187.00 196.49,1187.00 198.32,1187.00 200.15,1187.00 201.98,1187.00 203.81,1187.00 205.65,1187.00 207.48,1187.00 209.31,1187.00 211.15,1187.00 212.98,1187.00 214.81,1187.00 216.64,1187.00 218.47,1187.00 220.31,1187.00 222.14,1187.00 223.97,1187.00 225.81,1187.00 227.64,1187.00 229.47,1187.00 231.30,1187.00 233.13,1187.00 234.97,1187.00 236.80,1187.00 238.63,1187.00 240.47,1187.00 242.30,1187.00 244.13,1187.00 245.96,1187.00 247.80,1187.00 249.63,1187.00 251.46,1187.00 253.29,1187.00 255.12,1187.00 256.96,1187.00 258.79,1187.00 260.62,1187.00 262.45,1187.00 264.29,1187.00 266.12,1187.00 267.95,1187.00 269.78,1187.00 271.62,1187.00 273.45,1187.00 275.28,1187.00 277.12,1187.00 278.95,1187.00 280.78,1187.00 282.61,1187.00 284.44,1187.00 286.28,1187.00 288.11,1187.00 289.94,1187.00 291.77,1187.00 293.61,1187.00 295.44,1187.00 297.27,1187.00 299.11,1187.00 300.94,1187.00 302.77,1187.00 304.60,1187.00 306.44,1187.00 308.27,1187.00 310.10,1187.00 311.93,1187.00 313.76,1187.00 315.60,1187.00 317.43,1187.00 319.26,1187.00 321.10,1187.00 322.93,1187.00 324.76,1187.00 326.59,1187.00 328.43,1187.00 330.26,1187.00 332.09,1187.00 333.92,1187.00 335.75,1187.00 337.59,1187.00 339.42,1187.00 341.25,1187.00 343.09,1187.00 344.92,1187.00 346.75,1187.00 348.58,1187.00 350.41,1187.00 352.25,1187.00 354.08,1187.00 355.91,1187.00 357.75,1187.00 359.58,1187.00 361.41,1187.00 363.24,1187.00 365.07,1187.00 366.91,1187.00 368.74,1187.00 370.57,1187.00 372.40,1187.00 374.24,1187.00 376.07,1187.00 377.90,1187.00 379.74,1187.00 381.57,1187.00 383.40,1187.00 385.23,1187.00 387.06,1187.00 388.90,1187.00 390.73,1187.00 392.56,1187.00 394.39,1187.00 396.23,1187.00 398.06,1187.00 399.89,1187.00 401.73,1187.00 403.56,1187.00 405.39,1187.00 407.22,1187.00 409.06,1187.00 410.89,1187.00 412.72,1187.00 414.55,1187.00 416.38,1187.00 418.22,1187.00 420.05,1187.00 421.88,1187.00 423.71,1187.00 425.55,1187.00 427.38,1187.00 429.21,1187.00 431.05,1187.00 432.88,1187.00 434.71,1187.00 436.54,1187.00 438.38,1187.00 440.21,1187.00 442.04,1187.00 443.87,1187.00 445.70,1187.00 447.54,1186.99 449.37,1186.99 451.20,1186.99 453.04,1186.99 454.87,1186.99 456.70,1186.99 458.53,1186.99 460.37,1186.99 462.20,1186.99 464.03,1186.99 465.86,1186.98 467.69,1186.98 469.53,1186.98 471.36,1186.98 473.19,1186.98 475.02,1186.97 476.86,1186.97 478.69,1186.97 480.52,1186.96 482.36,1186.96 484.19,1186.96 486.02,1186.95 487.85,1186.95 489.69,1186.94 491.52,1186.93 493.35,1186.93 495.18,1186.92 497.01,1186.91 498.85,1186.90 500.68,1186.89 502.51,1186.88 504.35,1186.87 506.18,1186.85 508.01,1186.84 509.84,1186.82 511.68,1186.81 513.51,1186.79 515.34,1186.77 517.17,1186.74 519.00,1186.72 520.84,1186.69 522.67,1186.66 524.50,1186.63 526.34,1186.59 528.17,1186.55 530.00,1186.51 531.83,1186.47 533.66,1186.42 535.50,1186.37 537.33,1186.31 539.16,1186.25 541.00,1186.18 542.83,1186.11 544.66,1186.03 546.49,1185.94 548.33,1185.85 550.16,1185.75 551.99,1185.64 553.82,1185.53 555.65,1185.40 557.49,1185.27 559.32,1185.12 561.15,1184.97 562.99,1184.80 564.82,1184.62 566.65,1184.42 568.48,1184.22 570.32,1183.99 572.15,1183.76 573.98,1183.50 575.81,1183.23 577.64,1182.93 579.48,1182.62 581.31,1182.29 583.14,1181.93 584.98,1181.55 586.81,1181.14 588.64,1180.71 590.47,1180.25 592.31,1179.75 594.14,1179.23 595.97,1178.68 597.80,1178.08 599.63,1177.46 601.47,1176.79 603.30,1176.08 605.13,1175.34 606.96,1174.54 608.80,1173.70 610.63,1172.81 612.46,1171.87 614.30,1170.88 616.13,1169.83 617.96,1168.73 619.79,1167.56 621.62,1166.33 623.46,1165.03 625.29,1163.67 627.12,1162.23 628.95,1160.72 630.79,1159.14 632.62,1157.48 634.45,1155.73 636.29,1153.90 638.12,1151.98 639.95,1149.97 641.78,1147.87 643.62,1145.67 645.45,1143.37 647.28,1140.97 649.11,1138.46 650.94,1135.85 652.78,1133.12 654.61,1130.29 656.44,1127.33 658.27,1124.26 660.11,1121.06 661.94,1117.74 663.77,1114.30 665.61,1110.72 667.44,1107.01 669.27,1103.17 671.10,1099.20 672.93,1095.09 674.77,1090.83 676.60,1086.44 678.43,1081.91 680.26,1077.23 682.10,1072.40 683.93,1067.44 685.76,1062.32 687.60,1057.06 689.43,1051.65 691.26,1046.10 693.09,1040.40 694.92,1034.55 696.76,1028.56 698.59,1022.43 700.42,1016.15 702.25,1009.73 704.09,1003.17 705.92,996.48 707.75,989.65 709.59,982.69 711.42,975.61 713.25,968.39 715.08,961.06 716.91,953.62 718.75,946.06 720.58,938.39 722.41,930.63 724.25,922.77 726.08,914.81 727.91,906.78 729.74,898.67 731.58,890.49 733.41,882.24 735.24,873.94 737.07,865.60 738.90,857.21 740.74,848.80 742.57,840.36 744.40,831.91 746.24,823.46 748.07,815.01 749.90,806.57 751.73,798.17 753.57,789.79 755.40,781.47 757.23,773.20 759.06,764.99 760.89,756.86 762.73,748.82 764.56,740.88 766.39,733.04 768.23,725.32 770.06,717.74 771.89,710.29 773.72,703.00 775.55,695.87 777.39,688.90 779.22,682.13 781.05,675.54 782.88,669.16 784.72,662.98 786.55,657.03 788.38,651.31 790.22,645.83 792.05,640.60 793.88,635.62 795.71,630.91 797.54,626.47 799.38,622.31 801.21,618.43 803.04,614.85 804.88,611.56 806.71,608.57 808.54,605.90 810.37,603.53 812.21,601.48 814.04,599.76 815.87,598.35 817.70,597.27 819.53,596.51 821.37,596.09 823.20,595.99 825.03,596.22 826.87,596.78 828.70,597.66 830.53,598.87 832.36,600.41 834.20,602.27 836.03,604.44 837.86,606.93 839.69,609.73 841.52,612.84 843.36,616.24 845.19,619.95 847.02,623.94 848.86,628.21 850.69,632.76 852.52,637.58 854.35,642.66 856.18,648.00 858.02,653.57 859.85,659.39 861.68,665.43 863.51,671.68 865.35,678.15 867.18,684.82 869.01,691.67 870.85,698.70 872.68,705.90 874.51,713.25 876.34,720.76 878.17,728.40 880.01,736.16 881.84,744.04 883.67,752.02 885.50,760.10 887.34,768.26 889.17,776.50 891.00,784.79 892.84,793.14 894.67,801.53 896.50,809.95 898.33,818.39 900.16,826.84 902.00,835.29 903.83,843.74 905.66,852.17 907.50,860.57 909.33,868.94 911.16,877.27 912.99,885.55 914.83,893.77 916.66,901.92 918.49,910.00 920.32,918.01 922.15,925.92 923.99,933.75 925.82,941.47 927.65,949.09 929.49,956.61 931.32,964.01 933.15,971.29 934.98,978.46 936.82,985.49 938.65,992.40 940.48,999.17 942.31,1005.81 944.14,1012.31 945.98,1018.68 947.81,1024.90 949.64,1030.98 951.48,1036.91 953.31,1042.70 955.14,1048.34 956.97,1053.83 958.80,1059.18 960.64,1064.39 962.47,1069.44 964.30,1074.35 966.13,1079.12 967.97,1083.74 969.80,1088.22 971.63,1092.55 973.47,1096.75 975.30,1100.81 977.13,1104.73 978.96,1108.51 980.79,1112.17 982.63,1115.69 984.46,1119.09 986.29,1122.35 988.12,1125.50 989.96,1128.53 991.79,1131.43 993.62,1134.23 995.46,1136.91 997.29,1139.48 999.12,1141.94 1000.95,1144.30 1002.78,1146.56 1004.62,1148.72 1006.45,1150.78 1008.28,1152.76 1010.12,1154.64 1011.95,1156.44 1013.78,1158.15 1015.61,1159.78 1017.45,1161.34 1019.28,1162.82 1021.11,1164.22 1022.94,1165.56 1024.78,1166.83 1026.61,1168.03 1028.44,1169.18 1030.27,1170.26 1032.11,1171.28 1033.94,1172.26 1035.77,1173.17 1037.60,1174.04 1039.43,1174.86 1041.27,1175.64 1043.10,1176.37 1044.93,1177.06 1046.76,1177.71 1048.60,1178.33 1050.43,1178.90 1052.26,1179.44 1054.10,1179.95 1055.93,1180.43 1057.76,1180.88 1059.59,1181.31 1061.42,1181.70 1063.26,1182.07 1065.09,1182.42 1066.92,1182.75 1068.76,1183.05 1070.59,1183.34 1072.42,1183.60 1074.25,1183.85 1076.09,1184.08 1077.92,1184.30 1079.75,1184.50 1081.58,1184.69 1083.41,1184.87 1085.25,1185.03 1087.08,1185.18 1088.91,1185.32 1090.74,1185.45 1092.58,1185.57 1094.41,1185.69 1096.24,1185.79 1098.08,1185.89 1099.91,1185.98 1101.74,1186.06 1103.57,1186.14 1105.40,1186.21 1107.24,1186.27 1109.07,1186.33 1110.90,1186.39 1112.74,1186.44 1114.57,1186.49 1116.40,1186.53 1118.23,1186.57 1120.07,1186.61 1121.90,1186.64 1123.73,1186.67 1125.56,1186.70 1127.39,1186.73 1129.23,1186.75 1131.06,1186.77 1132.89,1186.79 1134.72,1186.81 1136.56,1186.83 1138.39,1186.85 1140.22,1186.86 1142.05,1186.87 1143.89,1186.88 1145.72,1186.89 1147.55,1186.90 1149.38,1186.91 1151.22,1186.92 1153.05,1186.93 1154.88,1186.94 1156.72,1186.94 1158.55,1186.95 1160.38,1186.95 1162.21,1186.96 1164.05,1186.96 1165.88,1186.97 1167.71,1186.97 1169.54,1186.97 1171.38,1186.97 1173.21,1186.98 1175.04,1186.98 1176.87,1186.98 1178.70,1186.98 1180.54,1186.99 1182.37,1186.99 1184.20,1186.99 1186.03,1186.99 1187.87,1186.99 1189.70,1186.99 1191.53,1186.99 1193.37,1186.99 1195.20,1186.99 1197.03,1186.99 1198.86,1187.00 1200.69,1187.00 1202.53,1187.00 1204.36,1187.00 1206.19,1187.00 1208.03,1187.00 1209.86,1187.00 1211.69,1187.00 1213.52,1187.00 1215.36,1187.00 1217.19,1187.00 1219.02,1187.00 1220.85,1187.00 1222.68,1187.00 1224.52,1187.00 1226.35,1187.00 1228.18,1187.00 1230.02,1187.00 1231.85,1187.00 1233.68,1187.00 1235.51,1187.00 1237.35,1187.00 1239.18,1187.00 1241.01,1187.00 1242.84,1187.00 1244.67,1187.00 1246.51,1187.00 1248.34,1187.00 1250.17,1187.00 1252.01,1187.00 1253.84,1187.00 1255.67,1187.00 1257.50,1187.00 1259.34,1187.00 1261.17,1187.00 1263.00,1187.00 1264.83,1187.00 1266.66,1187.00 1268.50,1187.00 1270.33,1187.00 1272.16,1187.00 1273.99,1187.00 1275.83,1187.00 1277.66,1187.00 1279.49,1187.00 1281.33,1187.00 1283.16,1187.00 1284.99,1187.00 1286.82,1187.00 1288.65,1187.00 1290.49,1187.00 1292.32,1187.00 1294.15,1187.00 1295.98,1187.00 1297.82,1187.00 1299.65,1187.00 1301.48,1187.00 1303.32,1187.00 1305.15,1187.00 1306.98,1187.00 1308.81,1187.00 1310.64,1187.00 1312.48,1187.00 1314.31,1187.00 1316.14,1187.00 1317.97,1187.00 1319.81,1187.00 1321.64,1187.00 1323.47,1187.00 1325.31,1187.00 1327.14,1187.00 1328.97,1187.00 1330.80,1187.00 1332.63,1187.00 1334.47,1187.00 1336.30,1187.00 1338.13,1187.00 1339.96,1187.00 1341.80,1187.00 1343.63,1187.00 1345.46,1187.00 1347.30,1187.00 1349.13,1187.00 1350.96,1187.00 1352.79,1187.00 1354.62,1187.00 1356.46,1187.00 1358.29,1187.00 1360.12,1187.00 1361.95,1187.00 1363.79,1187.00 1365.62,1187.00 1367.45,1187.00 1369.29,1187.00 1371.12,1187.00 1372.95,1187.00 1374.78,1187.00 1376.62,1187.00 1378.45,1187.00 1380.28,1187.00 1382.11,1187.00 1383.94,1187.00 1385.78,1187.00 1387.61,1187.00 1389.44,1187.00 1391.28,1187.00 1393.11,1187.00 1394.94,1187.00 1396.77,1187.00 1398.61,1187.00 1400.44,1187.00 1402.27,1187.00 1404.10,1187.00 1405.93,1187.00 1407.77,1187.00 1409.60,1187.00 1411.43,1187.00 1413.27,1187.00 1415.10,1187.00 1416.93,1187.00 1418.76,1187.00 1420.60,1187.00 1422.43,1187.00 1424.26,1187.00 1426.09,1187.00 1427.92,1187.00 1429.76,1187.00 1431.59,1187.00 1433.42,1187.00 1435.26,1187.00 1437.09,1187.00 1438.92,1187.00 1440.75,1187.00 1442.59,1187.00 1444.42,1187.00 1446.25,1187.00 1448.08,1187.00 1449.91,1187.00 1451.75,1187.00 1453.58,1187.00 1455.41,1187.00 1457.24,1187.00 1459.08,1187.00 1460.91,1187.00 1462.74,1187.00 1464.58,1187.00 1466.41,1187.00 1468.24,1187.00 1470.07,1187.00 1471.90,1187.00 1473.74,1187.00 1475.57,1187.00 1477.40,1187.00 1479.23,1187.00 1481.07,1187.00 1482.90,1187.00 1484.73,1187.00 1486.57,1187.00 1488.40,1187.00 1490.23,1187.00 1492.06,1187.00 1493.89,1187.00 1495.73,1187.00 1497.56,1187.00 1499.39,1187.00 1501.22,1187.00 1503.06,1187.00 1504.89,1187.00 1506.72,1187.00 1508.56,1187.00 1510.39,1187.00 1512.22,1187.00 1514.05,1187.00 1515.88,1187.00 1517.72,1187.00 1519.55,1187.00 1521.38,1187.00 1523.21,1187.00 1525.05,1187.00 1526.88,1187.00 1528.71,1187.00 1530.55,1187.00 1532.38,1187.00 1534.21,1187.00 1536.04,1187.00 1537.88,1187.00 1539.71,1187.00 1541.54,1187.00 1543.37,1187.00 1545.20,1187.00 1547.04,1187.00 1548.87,1187.00 1550.70,1187.00 1552.54,1187.00 1554.37,1187.00 1556.20,1187.00 1558.03,1187.00 1559.87,1187.00 1561.70,1187.00 1563.53,1187.00 1565.36,1187.00 1567.19,1187.00 1569.03,1187.00 1570.86,1187.00 1572.69,1187.00 1574.53,1187.00 1576.36,1187.00 1578.19,1187.00 1580.02,1187.00 1581.86,1187.00 1583.69,1187.00 1585.52,1187.00 1587.35,1187.00 1589.18,1187.00 1591.02,1187.00 1592.85,1187.00 1594.68,1187.00 1596.52,1187.00 1598.35,1187.00 1600.18,1187.00 1602.01,1187.00 1603.85,1187.00 1605.68,1187.00 1607.51,1187.00 1609.34,1187.00 1611.17,1187.00 1613.01,1187.00 1614.84,1187.00 1616.67,1187.00 1618.51,1187.00 1620.34,1187.00 1622.17,1187.00 1624.00,1187.00 1625.84,1187.00 1627.67,1187.00 1629.50,1187.00"/>
<polyline stroke="#ff00ff" stroke-width="3.7" points="163.50,1187.00 165.33,1187.00 167.16,1187.00 169.00,1187.00 170.83,1187.00 172.66,1187.00 174.50,1187.00 176.33,1187.00 178.16,1187.00 179.99,1187.00 181.82,1187.00 183.66,1187.00 185.49,1187.00 187.32,1187.00 189.16,1187.00 190.99,1187.00 192.82,1187.00 194.65,1187.00 196.49,1187.00 198.32,1187.00 200.15,1187.00 201.98,1187.00 203.81,1187.00 205.65,1187.00 207.48,1187.00 209.31,1187.00 211.15,1187.00 212.98,1187.00 214.81,1187.00 216.64,1187.00 218.47,1187.00 220.31,1187.00 222.14,1187.00 223.97,1187.00 225.81,1187.00 227.64,1187.00 229.47,1187.00 231.30,1187.00 233.13,1187.00 234.97,1187.00 236.80,1187.00 238.63,1187.00 240.47,1187.00 242.30,1187.00 244.13,1187.00 245.96,1187.00 247.80,1187.00 249.63,1187.00 251.46,1187.00 253.29,1187.00 255.12,1187.00 256.96,1187.00 258.79,1187.00 260.62,1187.00 262.45,1187.00 264.29,1187.00 266.12,1187.00 267.95,1187.00 269.78,1187.00 271.62,1187.00 273.45,1187.00 275.28,1187.00 277.12,1187.00 278.95,1187.00 280.78,1187.00 282.61,1187.00 284.44,1187.00 286.28,1187.00 288.11,1187.00 289.94,1187.00 291.77,1187.00 293.61,1187.00 295.44,1187.00 297.27,1187.00 299.11,1187.00 300.94,1187.00 302.77,1187.00 304.60,1187.00 306.44,1187.00 308.27,1187.00 310.10,1186.99 311.93,1186.99 313.76,1186.99 315.60,1186.99 317.43,1186.99 319.26,1186.99 321.10,1186.99 322.93,1186.99 324.76,1186.99 326.59,1186.99 328.43,1186.99 330.26,1186.99 332.09,1186.99 333.92,1186.99 335.75,1186.99 337.59,1186.99 339.42,1186.99 341.25,1186.99 343.09,1186.99 344.92,1186.98 346.75,1186.98 348.58,1186.98 350.41,1186.98 352.25,1186.98 354.08,1186.98 355.91,1186.98 357.75,1186.98 359.58,1186.98 361.41,1186.97 363.24,1186.97 365.07,1186.97 366.91,1186.97 368.74,1186.97 370.57,1186.97 372.40,1186.96 374.24,1186.96 376.07,1186.96 377.90,1186.96 379.74,1186.96 381.57,1186.95 383.40,1186.95 385.23,1186.95 387.06,1186.95 388.90,1186.94 390.73,1186.94 392.56,1186.94 394.39,1186.93 396.23,1186.93 398.06,1186.93 399.89,1186.92 401.73,1186.92 403.56,1186.91 405.39,1186.91 407.22,1186.90 409.06,1186.90 410.89,1186.89 412.72,1186.89 414.55,1186.88 416.38,1186.88 418.22,1186.87 420.05,1186.86 421.88,1186.86 423.71,1186.85 425.55,1186.84 427.38,1186.83 429.21,1186.82 431.05,1186.82 432.88,1186.81 434.71,1186.80 436.54,1186.79 438.38,1186.78 440.21,1186.76 442.04,1186.75 443.87,1186.74 445.70,1186.73 447.54,1186.71 449.37,1186.70 451.20,1186.69 453.04,1186.67 454.87,1186.65 456.70,1186.64 458.53,1186.62 460.37,1186.60 462.20,1186.58 464.03,1186.56 465.86,1186.54 467.69,1186.52 469.53,1186.50 471.36,1186.47 473.19,1186.45 475.02,1186.42 476.86,1186.40 478.69,1186.37 480.52,1186.34 482.36,1186.31 484.19,1186.27 486.02,1186.24 487.85,1186.21 489.69,1186.17 491.52,1186.13 493.35,1186.09 495.18,1186.05 497.01,1186.01 498.85,1185.96 500.68,1185.92 502.51,1185.87 504.35,1185.82 506.18,1185.76 508.01,1185.71 509.84,1185.65 511.68,1185.59 513.51,1185.53 515.34,1185.47 517.17,1185.40 519.00,1185.33 520.84,1185.26 522.67,1185.18 524.50,1185.10 526.34,1185.02 528.17,1184.94 530.00,1184.85 531.83,1184.76 533.66,1184.66 535.50,1184.56 537.33,1184.46 539.16,1184.36 541.00,1184.24 542.83,1184.13 544.66,1184.01 546.49,1183.89 548.33,1183.76 550.16,1183.63 551.99,1183.49 553.82,1183.34 555.65,1183.20 557.49,1183.04 559.32,1182.88 561.15,1182.72 562.99,1182.54 564.82,1182.37 566.65,1182.18 568.48,1181.99 570.32,1181.79 572.15,1181.59 573.98,1181.38 575.81,1181.16 577.64,1180.93 579.48,1180.69 581.31,1180.45 583.14,1180.20 584.98,1179.94 586.81,1179.67 588.64,1179.39 590.47,1179.10 592.31,1178.80 594.14,1178.49 595.97,1178.18 597.80,1177.85 599.63,1177.51 601.47,1177.15 603.30,1176.79 605.13,1176.42 606.96,1176.03 608.80,1175.63 610.63,1175.22 612.46,1174.79 614.30,1174.35 616.13,1173.90 617.96,1173.43 619.79,1172.94 621.62,1172.45 623.46,1171.93 625.29,1171.40 627.12,1170.86 628.95,1170.29 630.79,1169.71 632.62,1169.11 634.45,1168.50 636.29,1167.86 638.12,1167.21 639.95,1166.54 641.78,1165.84 643.62,1165.13 645.45,1164.40 647.28,1163.64 649.11,1162.86 650.94,1162.06 652.78,1161.24 654.61,1160.39 656.44,1159.52 658.27,1158.63 660.11,1157.71 661.94,1156.76 663.77,1155.79 665.61,1154.79 667.44,1153.77 669.27,1152.71 671.10,1151.63 672.93,1150.52 674.77,1149.38 676.60,1148.21 678.43,1147.00 680.26,1145.77 682.10,1144.50 683.93,1143.20 685.76,1141.87 687.60,1140.51 689.43,1139.11 691.26,1137.67 693.09,1136.20 694.92,1134.69 696.76,1133.14 698.59,1131.56 700.42,1129.93 702.25,1128.27 704.09,1126.57 705.92,1124.82 707.75,1123.04 709.59,1121.21 711.42,1119.34 713.25,1117.43 715.08,1115.47 716.91,1113.47 718.75,1111.42 720.58,1109.33 722.41,1107.19 724.25,1105.00 726.08,1102.77 727.91,1100.48 729.74,1098.15 731.58,1095.76 733.41,1093.32 735.24,1090.84 737.07,1088.30 738.90,1085.70 740.74,1083.06 742.57,1080.35 744.40,1077.60 746.24,1074.79 748.07,1071.92 749.90,1068.99 751.73,1066.01 753.57,1062.97 755.40,1059.87 757.23,1056.71 759.06,1053.49 760.89,1050.21 762.73,1046.87 764.56,1043.47 766.39,1040.00 768.23,1036.48 770.06,1032.89 771.89,1029.23 773.72,1025.52 775.55,1021.73 777.39,1017.89 779.22,1013.97 781.05,1009.99 782.88,1005.95 784.72,1001.84 786.55,997.66 788.38,993.41 790.22,989.09 792.05,984.71 793.88,980.26 795.71,975.74 797.54,971.15 799.38,966.50 801.21,961.77 803.04,956.98 804.88,952.11 806.71,947.18 808.54,942.17 810.37,937.10 812.21,931.96 814.04,926.74 815.87,921.46 817.70,916.11 819.53,910.69 821.37,905.20 823.20,899.64 825.03,894.01 826.87,888.31 828.70,882.54 830.53,876.71 832.36,870.81 834.20,864.84 836.03,858.80 837.86,852.70 839.69,846.53 841.52,840.29 843.36,833.99 845.19,827.63 847.02,821.20 848.86,814.71 850.69,808.15 852.52,801.54 854.35,794.86 856.18,788.12 858.02,781.32 859.85,774.47 861.68,767.56 863.51,760.59 865.35,753.56 867.18,746.48 869.01,739.35 870.85,732.17 872.68,724.93 874.51,717.64 876.34,710.31 878.17,702.93 880.01,695.50 881.84,688.03 883.67,680.51 885.50,672.96 887.34,665.36 889.17,657.72 891.00,650.05 892.84,642.34 894.67,634.60 896.50,626.83 898.33,619.02 900.16,611.19 902.00,603.33 903.83,595.44 905.66,587.53 907.50,579.60 909.33,571.65 911.16,563.69 912.99,555.71 914.83,547.71 916.66,539.70 918.49,531.69 920.32,523.67 922.15,515.64 923.99,507.61 925.82,499.58 927.65,491.55 929.49,483.53 931.32,475.51 933.15,467.50 934.98,459.50 936.82,451.51 938.65,443.54 940.48,435.59 942.31,427.66 944.14,419.75 945.98,411.87 947.81,404.02 949.64,396.19 951.48,388.40 953.31,380.65 955.14,372.93 956.97,365.25 958.80,357.62 960.64,350.03 962.47,342.49 964.30,335.00 966.13,327.56 967.97,320.18 969.80,312.85 971.63,305.59 973.47,298.39 975.30,291.26 977.13,284.19 978.96,277.20 980.79,270.28 982.63,263.43 984.46,256.66 986.29,249.98 988.12,243.37 989.96,236.85 991.79,230.42 993.62,224.09 995.46,217.84 997.29,211.69 999.12,205.63 1000.95,199.68 1002.78,193.83 1004.62,188.08 1006.45,182.44 1008.28,176.90 1010.12,171.48 1011.95,166.17 1013.78,160.98 1015.61,155.90 1017.45,150.94 1019.28,146.10 1021.11,141.39 1022.94,136.80 1024.78,132.33 1026.61,128.00 1028.44,123.79 1030.27,119.72 1032.11,115.78 1033.94,111.97 1035.77,108.30 1037.60,104.77 1039.43,101.38 1041.27,98.13 1043.10,95.02 1044.93,92.06 1046.76,89.24 1048.60,86.56 1050.43,84.03 1052.26,81.65 1054.10,79.42 1055.93,77.34 1057.76,75.41 1059.59,73.63 1061.42,72.00 1063.26,70.53 1065.09,69.21 1066.92,68.04 1068.76,67.03 1070.59,66.17 1072.42,65.47 1074.25,64.93 1076.09,64.54 1077.92,64.30 1079.75,64.23 1081.58,64.30 1083.41,64.54 1085.25,64.93 1087.08,65.47 1088.91,66.17 1090.74,67.03 1092.58,68.04 1094.41,69.21 1096.24,70.53 1098.08,72.00 1099.91,73.63 1101.74,75.41 1103.57,77.34 1105.40,79.42 1107.24,81.65 1109.07,84.03 1110.90,86.56 1112.74,89.24 1114.57,92.06 1116.40,95.02 1118.23,98.13 1120.07,101.38 1121.90,104.77 1123.73,108.30 1125.56,111.97 1127.39,115.78 1129.23,119.72 1131.06,123.79 1132.89,128.00 1134.72,132.33 1136.56,136.80 1138.39,141.39 1140.22,146.10 1142.05,150.94 1143.89,155.90 1145.72,160.98 1147.55,166.17 1149.38,171.48 1151.22,176.90 1153.05,182.44 1154.88,188.08 1156.72,193.83 1158.55,199.68 1160.38,205.63 1162.21,211.69 1164.05,217.84 1165.88,224.09 1167.71,230.42 1169.54,236.85 1171.38,243.37 1173.21,249.98 1175.04,256.66 1176.87,263.43 1178.70,270.28 1180.54,277.20 1182.37,284.19 1184.20,291.26 1186.03,298.39 1187.87,305.59 1189.70,312.85 1191.53,320.18 1193.37,327.56 1195.20,335.00 1197.03,342.49 1198.86,350.03 1200.69,357.62 1202.53,365.25 1204.36,372.93 1206.19,380.65 1208.03,388.40 1209.86,396.19 1211.69,404.02 1213.52,411.87 1215.36,419.75 1217.19,427.66 1219.02,435.59 1220.85,443.54 1222.68,451.51 1224.52,459.50 1226.35,467.50 1228.18,475.51 1230.02,483.53 1231.85,491.55 1233.68,499.58 1235.51,507.61 1237.35,515.64 1239.18,523.67 1241.01,531.69 1242.84,539.70 1244.67,547.71 1246.51,555.71 1248.34,563.69 1250.17,571.65 1252.01,579.60 1253.84,587.53 1255.67,595.44 1257.50,603.33 1259.34,611.19 1261.17,619.02 1263.00,626.83 1264.83,634.60 1266.66,642.34 1268.50,650.05 1270.33,657.72 1272.16,665.36 1273.99,672.96 1275.83,680.51 1277.66,688.03 1279.49,695.50 1281.33,702.93 1283.16,710.31 1284.99,717.64 1286.82,724.93 1288.65,732.17 1290.49,739.35 1292.32,746.48 1294.15,753.56 1295.98,760.59 1297.82,767.56 1299.65,774.47 1301.48,781.32 1303.32,788.12 1305.15,794.86 1306.98,801.54 1308.81,808.15 1310.64,814.71 1312.48,821.20 1314.31,827.63 1316.14,833.99 1317.97,840.29 1319.81,846.53 1321.64,852.70 1323.47,858.80 1325.31,864.84 1327.14,870.81 1328.97,876.71 1330.80,882.54 1332.63,888.31 1334.47,894.01 1336.30,899.64 1338.13,905.20 1339.96,910.69 1341.80,916.11 1343.63,921.46 1345.46,926.74 1347.30,931.96 1349.13,937.10 1350.96,942.17 1352.79,947.18 1354.62,952.11 1356.46,956.98 1358.29,961.77 1360.12,966.50 1361.95,971.15 1363.79,975.74 1365.62,980.26 1367.45,984.71 1369.29,989.09 1371.12,993.41 1372.95,997.66 1374.78,1001.84 1376.62,1005.95 1378.45,1009.99 1380.28,1013.97 1382.11,1017.89 1383.94,1021.73 1385.78,1025.52 1387.61,1029.23 1389.44,1032.89 1391.28,1036.48 1393.11,1040.00 1394.94,1043.47 1396.77,1046.87 1398.61,1050.21 1400.44,1053.49 1402.27,1056.71 1404.10,1059.87 1405.93,1062.97 1407.77,1066.01 1409.60,1068.99 1411.43,1071.92 1413.27,1074.79 1415.10,1077.60 1416.93,1080.35 1418.76,1083.06 1420.60,1085.70 1422.43,1088.30 1424.26,1090.84 1426.09,1093.32 1427.92,1095.76 1429.76,1098.15 1431.59,1100.48 1433.42,1102.77 1435.26,1105.00 1437.09,1107.19 1438.92,1109.33 1440.75,1111.42 1442.59,1113.47 1444.42,1115.47 1446.25,1117.43 1448.08,1119.34 1449.91,1121.21 1451.75,1123.04 1453.58,1124.82 1455.41,1126.57 1457.24,1128.27 1459.08,1129.93 1460.91,1131.56 1462.74,1133.14 1464.58,1134.69 1466.41,1136.20 1468.24,1137.67 1470.07,1139.11 1471.90,1140.51 1473.74,1141.87 1475.57,1143.20 1477.40,1144.50 1479.23,1145.77 1481.07,1147.00 1482.90,1148.21 1484.73,1149.38 1486.57,1150.52 1488.40,1151.63 1490.23,1152.71 1492.06,1153.77 1493.89,1154.79 1495.73,1155.79 1497.56,1156.76 1499.39,1157.71 1501.22,1158.63 1503.06,1159.52 1504.89,1160.39 1506.72,1161.24 1508.56,1162.06 1510.39,1162.86 1512.22,1163.64 1514.05,1164.40 1515.88,1165.13 1517.72,1165.84 1519.55,1166.54 1521.38,1167.21 1523.21,1167.86 1525.05,1168.50 1526.88,1169.11 1528.71,1169.71 1530.55,1170.29 1532.38,1170.86 1534.21,1171.40 1536.04,1171.93 1537.88,1172.45 1539.71,1172.94 1541.54,1173.43 1543.37,1173.90 1545.20,1174.35 1547.04,1174.79 1548.87,1175.22 1550.70,1175.63 1552.54,1176.03 1554.37,1176.42 1556.20,1176.79 1558.03,1177.15 1559.87,1177.51 1561.70,1177.85 1563.53,1178.18 1565.36,1178.49 1567.19,1178.80 1569.03,1179.10 1570.86,1179.39 1572.69,1179.67 1574.53,1179.94 1576.36,1180.20 1578.19,1180.45 1580.02,1180.69 1581.86,1180.93 1583.69,1181.16 1585.52,1181.38 1587.35,1181.59 1589.18,1181.79 1591.02,1181.99 1592.85,1182.18 1594.68,1182.37 1596.52,1182.54 1598.35,1182.72 1600.18,1182.88 1602.01,1183.04 1603.85,1183.20 1605.68,1183.34 1607.51,1183.49 1609.34,1183.63 1611.17,1183.76 1613.01,1183.89 1614.84,1184.01 1616.67,1184.13 1618.51,1184.24 1620.34,1184.36 1622.17,1184.46 1624.00,1184.56 1625.84,1184.66 1627.67,1184.76 1629.50,1184.85"/>
<polyline stroke="#a2142f" stroke-width="12.3" points="607.0,1187.0 607.3,1185.0 607.7,1183.1 608.0,1181.1 608.4,1179.1 608.8,1177.1 609.1,1175.2 609.5,1173.2 609.9,1171.2 610.3,1169.3 610.7,1167.3 611.1,1165.4 611.5,1163.4 611.9,1161.4 612.3,1159.5 612.8,1157.5 613.2,1155.6 613.7,1153.6 614.1,1151.7 614.6,1149.7 615.0,1147.8 615.5,1145.9 616.0,1143.9 616.5,1142.0 617.0,1140.1 617.5,1138.1 618.0,1136.2 618.5,1134.3 619.1,1132.4 619.7,1130.4 620.2,1128.5 620.8,1126.6 621.4,1124.7 622.0,1122.8 622.6,1120.9 623.2,1118.9 623.7,1117.0 624.3,1115.1 624.9,1113.2 625.4,1111.3 626.0,1109.3 626.5,1107.4 627.0,1105.5 627.5,1103.6 628.0,1101.6 628.5,1099.7 629.0,1097.7 629.5,1095.8 630.0,1093.9 630.4,1091.9 630.9,1090.0 631.4,1088.0 631.9,1086.1 632.3,1084.1 632.8,1082.2 633.3,1080.2 633.7,1078.3 634.2,1076.4 634.7,1074.4 635.2,1072.5 635.7,1070.5 636.2,1068.6 636.7,1066.7 637.2,1064.7 637.7,1062.8 638.1,1060.8 638.6,1058.9 639.1,1057.0 639.6,1055.0 640.1,1053.1 640.6,1051.2 641.1,1049.2 641.6,1047.3 642.1,1045.3 642.7,1043.4 643.2,1041.5 643.7,1039.5 644.2,1037.6 644.8,1035.7 645.3,1033.8 645.8,1031.8 646.4,1029.9 646.9,1028.0 647.5,1026.1 648.1,1024.2 648.6,1022.3 649.2,1020.3 649.8,1018.4 650.4,1016.5 651.0,1014.6 651.5,1012.7 652.1,1010.8 652.7,1008.8 653.3,1006.9 654.0,1005.0 654.6,1003.1 655.2,1001.2 655.8,999.3 656.5,997.4 657.1,995.5 657.8,993.6 658.4,991.7 659.1,989.8 659.8,988.0 660.4,986.1 661.1,984.2 661.8,982.3 662.6,980.5 663.3,978.6 664.1,976.8 664.8,974.9 665.6,973.1 666.5,971.3 667.3,969.5 668.2,967.7 669.1,965.9 670.0,964.1 670.9,962.3 671.7,960.5 672.6,958.7 673.4,956.9 674.2,955.1 675.0,953.2 675.7,951.4 676.4,949.5 677.2,947.7 677.9,945.8 678.5,943.9 679.2,942.0 679.9,940.2 680.5,938.3 681.2,936.4 681.8,934.5 682.5,932.6 683.1,930.7 683.7,928.7 684.3,926.8 684.9,924.9 685.5,923.0 686.1,921.1 686.7,919.1 687.2,917.2 687.8,915.3 688.4,913.3 689.0,911.4 689.5,909.5 690.1,907.5 690.6,905.6 691.2,903.6 691.8,901.7 692.3,899.8 692.9,897.8 693.4,895.9 694.0,894.0 694.6,892.0 695.1,890.1 695.7,888.2 696.3,886.2 696.8,884.3 697.4,882.4 698.0,880.5 698.6,878.5 699.2,876.6 699.8,874.7 700.4,872.8 701.0,870.9 701.6,869.0 702.3,867.1 702.9,865.2 703.6,863.3 704.2,861.5 704.9,859.6 705.6,857.7 706.3,855.9 707.0,854.0 707.7,852.2 708.4,850.3 709.2,848.5 709.9,846.7 710.7,844.8 711.5,843.0 712.3,841.2 713.2,839.5 714.0,837.7 715.0,835.9 715.9,834.2 716.9,832.5 717.9,830.7 719.0,829.0 720.0,827.3 721.1,825.6 722.1,823.9 723.1,822.1 724.1,820.4 725.1,818.7 726.0,816.9 727.0,815.1 727.9,813.4 728.8,811.6 729.7,809.8 730.6,808.0 731.4,806.2 732.3,804.4 733.2,802.6 734.0,800.8 734.9,799.0 735.7,797.2 736.6,795.4 737.4,793.5 738.3,791.7 739.1,789.9 740.0,788.1 740.8,786.3 741.7,784.5 742.5,782.7 743.4,780.9 744.2,779.0 745.1,777.2 746.0,775.5 746.9,773.7 747.8,771.9 748.7,770.1 749.6,768.3 750.5,766.5 751.4,764.8 752.4,763.0 753.3,761.2 754.2,759.4 755.1,757.7 756.1,755.9 757.0,754.1 758.0,752.4 758.9,750.6 759.8,748.8 760.8,747.1 761.8,745.3 762.7,743.6 763.7,741.8 764.6,740.1 765.6,738.3 766.5,736.5 767.5,734.8 768.5,733.0 769.4,731.3 770.4,729.5 771.4,727.8 772.4,726.0 773.3,724.3 774.3,722.6 775.3,720.8 776.3,719.1 777.2,717.3 778.2,715.6 779.2,713.8 780.2,712.1 781.2,710.3 782.2,708.6 783.2,706.9 784.2,705.1 785.2,703.4 786.2,701.7 787.2,700.0 788.2,698.3 789.3,696.5 790.3,694.8 791.3,693.1 792.4,691.4 793.4,689.7 794.5,688.0 795.6,686.4 796.7,684.7 797.7,683.0 798.8,681.3 799.9,679.7 801.0,678.0 802.1,676.3 803.3,674.7 804.4,673.0 805.5,671.4 806.6,669.7 807.8,668.1 808.9,666.4 810.0,664.8 811.2,663.1 812.3,661.5 813.5,659.9 814.6,658.2 815.8,656.6 816.9,654.9 818.1,653.3 819.2,651.7 820.4,650.0 821.6,648.4 822.7,646.8 823.9,645.1 825.0,643.5 826.2,641.9 827.4,640.2 828.5,638.6 829.7,637.0 830.8,635.3 832.0,633.7 833.1,632.0 834.3,630.4 835.4,628.8 836.5,627.1 837.7,625.5 838.8,623.8 839.9,622.2 841.1,620.5 842.2,618.8 843.3,617.2 844.4,615.5 845.5,613.9 846.6,612.2 847.7,610.5 848.8,608.8 849.8,607.1 850.9,605.5 852.0,603.8 853.1,602.1 854.1,600.4 855.2,598.7 856.2,597.0 857.3,595.3 858.3,593.6 859.4,591.9 860.4,590.2 861.5,588.5 862.5,586.8 863.5,585.1 864.6,583.3 865.6,581.6 866.6,579.9 867.7,578.2 868.7,576.5 869.7,574.8 870.8,573.1 871.8,571.3 872.8,569.6 873.9,567.9 874.9,566.2 875.9,564.5 876.9,562.8 878.0,561.0 879.0,559.3 880.0,557.6 881.1,555.9 882.1,554.2 883.1,552.5 884.2,550.8 885.2,549.1 886.2,547.4 887.3,545.6 888.3,543.9 889.4,542.2 890.4,540.5 891.5,538.8 892.5,537.1 893.5,535.4 894.6,533.7 895.6,532.0 896.7,530.3 897.7,528.6 898.7,526.9 899.8,525.1 900.8,523.4 901.9,521.7 902.9,520.0 903.9,518.3 904.9,516.6 906.0,514.8 907.0,513.1 908.0,511.4 909.0,509.7 910.0,508.0 911.0,506.2 912.0,504.5 913.0,502.8 914.0,501.0 915.0,499.3 916.0,497.6 917.0,495.8 918.0,494.1 918.9,492.3 919.9,490.6 920.8,488.8 921.8,487.0 922.7,485.3 923.6,483.5 924.5,481.7 925.4,479.9 926.3,478.1 927.2,476.3 928.1,474.5 929.0,472.7 929.8,470.9 930.7,469.1 931.6,467.3 932.5,465.5 933.4,463.7 934.3,461.9 935.2,460.2 936.1,458.4 937.1,456.6 938.0,454.9 939.0,453.1 939.9,451.4 940.9,449.6 941.9,447.9 943.0,446.2 944.0,444.5 945.1,442.8 946.1,441.2 947.2,439.5 948.4,437.9 949.5,436.2 950.6,434.6 951.8,432.9 953.0,431.3 954.1,429.7 955.3,428.1 956.5,426.4 957.7,424.8 958.8,423.2 960.0,421.6 961.2,419.9 962.4,418.3 963.5,416.7 964.7,415.0 965.8,413.4 966.9,411.8 968.1,410.1 969.2,408.5 970.4,406.8 971.5,405.2 972.7,403.5 973.8,401.9 974.9,400.3 976.1,398.6 977.2,397.0 978.4,395.3 979.5,393.7 980.7,392.1 981.8,390.4 983.0,388.8 984.1,387.2 985.3,385.5 986.4,383.9 987.6,382.2 988.7,380.6 989.9,379.0 991.0,377.3 992.2,375.7 993.3,374.0 994.4,372.4 995.6,370.7 996.7,369.0 997.9,367.3 999.0,365.7 1000.2,364.1 1001.4,362.5 1002.6,361.0 1003.9,359.5 1005.2,358.0 1006.6,356.6 1008.0,355.2 1009.5,353.8 1011.0,352.5 1012.5,351.1 1014.1,349.8 1015.7,348.6 1017.4,347.3 1019.0,346.2 1020.7,345.0 1022.4,344.0 1024.2,343.0 1025.9,342.1 1027.7,341.2 1029.5,340.4 1031.3,339.7 1033.1,339.0 1035.0,338.3 1036.9,337.7 1038.9,337.1 1040.8,336.5 1042.8,336.0 1044.8,335.5 1046.7,335.1 1048.7,334.8 1050.7,334.6 1052.7,334.4 1054.6,334.4 1056.6,334.5 1058.5,334.7 1060.5,335.0 1062.4,335.5 1064.3,336.1 1066.2,336.7 1068.1,337.4 1070.0,338.2 1071.9,339.1 1073.7,339.9 1075.5,340.9 1077.2,341.8 1078.9,342.8 1080.6,343.9 1082.2,345.0 1083.8,346.2 1085.4,347.4 1086.9,348.7 1088.4,350.0 1090.0,351.4 1091.5,352.7 1093.0,354.0 1094.5,355.4 1096.0,356.7 1097.6,358.0 1099.1,359.3 1100.6,360.6 1102.1,362.0 1103.6,363.3 1105.0,364.7 1106.4,366.1 1107.8,367.5 1109.2,369.0 1110.5,370.5 1111.8,372.1 1113.0,373.6 1114.2,375.2 1115.3,376.8 1116.4,378.5 1117.4,380.2 1118.3,381.9 1119.2,383.7 1120.1,385.5 1121.0,387.3 1121.8,389.1 1122.6,390.9 1123.4,392.8 1124.2,394.6 1125.0,396.5 1125.8,398.3 1126.6,400.2 1127.4,402.1 1128.1,403.9 1128.9,405.8 1129.7,407.6 1130.5,409.5 1131.3,411.3 1132.0,413.1 1132.8,415.0 1133.6,416.8 1134.4,418.7 1135.1,420.5 1135.9,422.4 1136.6,424.2 1137.4,426.1 1138.2,427.9 1138.9,429.8 1139.7,431.6 1140.4,433.5 1141.2,435.3 1142.0,437.2 1142.7,439.0 1143.5,440.9 1144.3,442.7 1145.1,444.6 1145.9,446.4 1146.7,448.2 1147.5,450.1 1148.3,451.9 1149.1,453.7 1149.9,455.6 1150.7,457.4 1151.5,459.2 1152.3,461.1 1153.1,462.9 1153.9,464.8 1154.7,466.6 1155.5,468.4 1156.3,470.3 1157.1,472.1 1157.8,474.0 1158.6,475.8 1159.4,477.7 1160.1,479.5 1160.9,481.4 1161.6,483.2 1162.3,485.1 1163.0,486.9 1163.7,488.8 1164.4,490.7 1165.1,492.5 1165.7,494.4 1166.4,496.3 1167.0,498.2 1167.7,500.1 1168.3,502.0 1168.9,503.9 1169.6,505.8 1170.2,507.6 1170.8,509.5 1171.4,511.4 1172.0,513.4 1172.6,515.3 1173.2,517.2 1173.8,519.1 1174.4,521.0 1174.9,522.9 1175.5,524.8 1176.1,526.7 1176.7,528.6 1177.2,530.6 1177.8,532.5 1178.3,534.4 1178.9,536.3 1179.5,538.2 1180.0,540.2 1180.6,542.1 1181.1,544.0 1181.6,545.9 1182.2,547.9 1182.7,549.8 1183.3,551.7 1183.8,553.7 1184.3,555.6 1184.9,557.5 1185.4,559.5 1185.9,561.4 1186.5,563.3 1187.0,565.3 1187.5,567.2 1188.0,569.1 1188.6,571.1 1189.1,573.0 1189.6,574.9 1190.2,576.9 1190.7,578.8 1191.2,580.7 1191.7,582.7 1192.3,584.6 1192.8,586.5 1193.3,588.5 1193.9,590.4 1194.4,592.3 1195.0,594.2 1195.5,596.2 1196.0,598.1 1196.6,600.0 1197.1,601.9 1197.7,603.9 1198.2,605.8 1198.8,607.7 1199.3,609.6 1199.9,611.6 1200.4,613.5 1201.0,615.4 1201.6,617.3 1202.1,619.2 1202.7,621.2 1203.2,623.1 1203.8,625.0 1204.3,626.9 1204.9,628.9 1205.4,630.8 1206.0,632.7 1206.5,634.6 1207.1,636.5 1207.6,638.5 1208.2,640.4 1208.7,642.3 1209.3,644.2 1209.8,646.2 1210.4,648.1 1210.9,650.0 1211.5,651.9 1212.1,653.8 1212.6,655.8 1213.2,657.7 1213.7,659.6 1214.3,661.5 1214.8,663.4 1215.4,665.4 1216.0,667.3 1216.5,669.2 1217.1,671.1 1217.7,673.0 1218.2,675.0 1218.8,676.9 1219.4,678.8 1220.0,680.7 1220.5,682.6 1221.1,684.5 1221.7,686.5 1222.2,688.4 1222.8,690.3 1223.4,692.2 1224.0,694.1 1224.5,696.0 1225.1,698.0 1225.7,699.9 1226.2,701.8 1226.8,703.7 1227.4,705.6 1227.9,707.6 1228.5,709.5 1229.1,711.4 1229.6,713.3 1230.2,715.2 1230.7,717.2 1231.3,719.1 1231.8,721.0 1232.3,722.9 1232.9,724.9 1233.4,726.8 1233.9,728.7 1234.4,730.6 1235.0,732.6 1235.5,734.5 1236.0,736.4 1236.5,738.4 1237.0,740.3 1237.5,742.3 1238.0,744.2 1238.5,746.1 1239.0,748.1 1239.5,750.0 1240.0,751.9 1240.5,753.9 1240.9,755.8 1241.4,757.8 1241.9,759.7 1242.4,761.7 1242.9,763.6 1243.4,765.5 1243.8,767.5 1244.3,769.4 1244.8,771.4 1245.3,773.3 1245.7,775.3 1246.2,777.2 1246.7,779.1 1247.2,781.1 1247.7,783.0 1248.1,785.0 1248.6,786.9 1249.1,788.9 1249.6,790.8 1250.1,792.7 1250.5,794.7 1251.0,796.6 1251.5,798.6 1252.0,800.5 1252.5,802.5 1253.0,804.4 1253.5,806.3 1254.0,808.3 1254.5,810.2 1255.0,812.1 1255.5,814.1 1256.0,816.0 1256.5,817.9 1257.0,819.9 1257.5,821.8 1258.0,823.7 1258.6,825.7 1259.1,827.6 1259.6,829.5 1260.1,831.4 1260.7,833.4 1261.2,835.3 1261.8,837.2 1262.3,839.1 1262.9,841.0 1263.4,843.0 1264.0,844.9 1264.6,846.8 1265.1,848.7 1265.7,850.6 1266.3,852.5 1266.9,854.4 1267.4,856.4 1268.0,858.3 1268.6,860.2 1269.2,862.1 1269.8,864.0 1270.4,865.9 1271.0,867.8 1271.6,869.7 1272.2,871.6 1272.8,873.5 1273.4,875.5 1274.0,877.4 1274.6,879.3 1275.2,881.2 1275.8,883.1 1276.5,885.0 1277.1,886.9 1277.7,888.8 1278.3,890.7 1279.0,892.6 1279.6,894.5 1280.2,896.4 1280.9,898.3 1281.5,900.2 1282.1,902.1 1282.8,904.0 1283.4,905.9 1284.1,907.8 1284.7,909.7 1285.3,911.6 1286.0,913.5 1286.6,915.3 1287.3,917.2 1287.9,919.1 1288.6,921.0 1289.3,922.9 1289.9,924.8 1290.6,926.7 1291.2,928.6 1291.9,930.5 1292.6,932.4 1293.2,934.2 1293.9,936.1 1294.6,938.0 1295.2,939.9 1295.9,941.8 1296.6,943.7 1297.2,945.6 1297.9,947.4 1298.6,949.3 1299.3,951.2 1299.9,953.1 1300.6,955.0 1301.3,956.8 1302.0,958.7 1302.7,960.6 1303.3,962.5 1304.0,964.4 1304.7,966.3 1305.4,968.2 1306.0,970.0 1306.7,971.9 1307.4,973.8 1308.1,975.7 1308.8,977.6 1309.4,979.5 1310.1,981.4 1310.8,983.3 1311.5,985.1 1312.2,987.0 1312.9,988.9 1313.6,990.8 1314.3,992.7 1315.1,994.5 1315.8,996.4 1316.5,998.3 1317.2,1000.1 1318.0,1002.0 1318.7,1003.8 1319.5,1005.7 1320.3,1007.5 1321.0,1009.4 1321.8,1011.2 1322.6,1013.1 1323.4,1014.9 1324.2,1016.7 1325.0,1018.5 1325.8,1020.3 1326.7,1022.1 1327.5,1023.9 1328.4,1025.7 1329.3,1027.5 1330.2,1029.2 1331.1,1031.0 1332.0,1032.7 1333.0,1034.5 1334.0,1036.2 1334.9,1038.0 1335.9,1039.7 1337.0,1041.4 1338.0,1043.1 1339.0,1044.9 1340.1,1046.6 1341.1,1048.3 1342.2,1050.0 1343.2,1051.7 1344.3,1053.4 1345.4,1055.1 1346.4,1056.8 1347.5,1058.5 1348.6,1060.2 1349.7,1061.9 1350.7,1063.6 1351.8,1065.3 1352.8,1067.0 1353.9,1068.7 1354.9,1070.4 1356.0,1072.1 1357.0,1073.8 1358.1,1075.6 1359.1,1077.3 1360.1,1079.0 1361.1,1080.8 1362.1,1082.5 1363.1,1084.2 1364.1,1086.0 1365.2,1087.7 1366.2,1089.5 1367.2,1091.2 1368.2,1092.9 1369.2,1094.7 1370.3,1096.4 1371.3,1098.1 1372.3,1099.8 1373.4,1101.5 1374.5,1103.2 1375.5,1104.9 1376.6,1106.6 1377.7,1108.2 1378.9,1109.8 1380.0,1111.5 1381.2,1113.1 1382.3,1114.7 1383.5,1116.2 1384.7,1117.8 1386.0,1119.4 1387.2,1120.9 1388.5,1122.4 1389.8,1123.9 1391.1,1125.4 1392.4,1126.9 1393.7,1128.4 1395.1,1129.9 1396.5,1131.4 1397.9,1132.8 1399.3,1134.3 1400.7,1135.7 1402.1,1137.1 1403.6,1138.5 1405.0,1139.9 1406.5,1141.3 1407.9,1142.7 1409.4,1144.1 1410.9,1145.4 1412.4,1146.7 1413.9,1148.1 1415.4,1149.4 1416.9,1150.7 1418.4,1152.0 1419.9,1153.3 1421.5,1154.5 1423.0,1155.8 1424.6,1157.0 1426.2,1158.2 1427.8,1159.5 1429.4,1160.6 1431.0,1161.8 1432.7,1163.0 1434.3,1164.1 1436.0,1165.3 1437.6,1166.4 1439.3,1167.5 1441.0,1168.5 1442.7,1169.6 1444.4,1170.6 1446.1,1171.6 1447.9,1172.6 1449.6,1173.6 1451.4,1174.5 1453.1,1175.5 1454.9,1176.4 1456.7,1177.4 1458.4,1178.4 1460.2,1179.3 1462.0,1180.2 1463.8,1181.1 1465.6,1182.0 1467.4,1182.8 1469.3,1183.5 1471.1,1184.2 1473.0,1184.8 1474.9,1185.3 1476.9,1185.8 1478.8,1186.3 1480.8,1186.7 1482.8,1187.1 1484.7,1187.4 1486.7,1187.6 1488.7,1187.7 1490.7,1187.8 1492.7,1187.8 1494.7,1187.7 1496.7,1187.6 1498.7,1187.5 1500.7,1187.4 1502.7,1187.2 1504.7,1187.0 1506.6,1186.9 1508.6,1186.7 1510.7,1186.5 1512.7,1186.4 1514.7,1186.3 1516.7,1186.2 1518.7,1186.2 1520.7,1186.2 1522.7,1186.2 1524.7,1186.3 1526.8,1186.5 1528.8,1186.6 1530.8,1186.8 1532.9,1187.0 1534.9,1187.2 1536.9,1187.4 1538.8,1187.5 1540.7,1187.6 1542.6,1187.5 1544.4,1187.3 1546.2,1186.8 1547.9,1186.2 1549.6,1185.3 1551.2,1184.2 1552.8,1182.9 1554.4,1181.6 1556.1,1180.3 1557.7,1179.1 1559.4,1178.0 1561.1,1177.1 1562.9,1176.4 1564.7,1175.9 1566.6,1175.5 1568.5,1175.2 1570.4,1174.9 1572.4,1174.7 1574.4,1174.5 1576.5,1174.3 1578.5,1174.1 1580.5,1173.9 1582.5,1173.7 1584.6,1173.5 1586.6,1173.2 1588.6,1172.9 1590.5,1172.6 1592.5,1172.3 1594.5,1171.9 1596.4,1171.5 1598.4,1171.1 1600.4,1170.7 1602.3,1170.3 1604.3,1169.9 1606.2,1169.5 1608.2,1169.1 1610.2,1168.7 1612.1,1168.2 1614.1,1167.8 1616.0,1167.4 1618.0,1167.0 1619.9,1166.6 1621.9,1166.2 1623.8,1165.7 1625.7,1165.3 1627.6,1164.9 1629.5,1164.5"/>
<polyline stroke="#000000" stroke-width="3.7" points="163.50,1187.00 165.33,1187.00 167.16,1187.00 169.00,1187.00 170.83,1187.00 172.66,1187.00 174.50,1187.00 176.33,1187.00 178.16,1187.00 179.99,1187.00 181.82,1187.00 183.66,1187.00 185.49,1187.00 187.32,1187.00 189.16,1187.00 190.99,1187.00 192.82,1187.00 194.65,1187.00 196.49,1187.00 198.32,1187.00 200.15,1187.00 201.98,1187.00 203.81,1187.00 205.65,1187.00 207.48,1187.00 209.31,1187.00 211.15,1187.00 212.98,1187.00 214.81,1187.00 216.64,1187.00 218.47,1187.00 220.31,1187.00 222.14,1187.00 223.97,1187.00 225.81,1187.00 227.64,1187.00 229.47,1187.00 231.30,1187.00 233.13,1187.00 234.97,1187.00 236.80,1187.00 238.63,1187.00 240.47,1187.00 242.30,1187.00 244.13,1187.00 245.96,1187.00 247.80,1187.00 249.63,1187.00 251.46,1187.00 253.29,1187.00 255.12,1187.00 256.96,1187.00 258.79,1187.00 260.62,1187.00 262.45,1187.00 264.29,1187.00 266.12,1187.00 267.95,1187.00 269.78,1187.00 271.62,1187.00 273.45,1187.00 275.28,1187.00 277.12,1187.00 278.95,1187.00 280.78,1187.00 282.61,1187.00 284.44,1187.00 286.28,1187.00 288.11,1187.00 289.94,1187.00 291.77,1187.00 293.61,1187.00 295.44,1187.00 297.27,1187.00 299.11,1187.00 300.94,1187.00 302.77,1187.00 304.60,1187.00 306.44,1187.00 308.27,1187.00 310.10,1187.00 311.93,1187.00 313.76,1187.00 315.60,1187.00 317.43,1187.00 319.26,1187.00 321.10,1187.00 322.93,1187.00 324.76,1187.00 326.59,1187.00 328.43,1187.00 330.26,1187.00 332.09,1187.00 333.92,1187.00 335.75,1187.00 337.59,1187.00 339.42,1187.00 341.25,1187.00 343.09,1187.00 344.92,1187.00 346.75,1187.00 348.58,1187.00 350.41,1187.00 352.25,1187.00 354.08,1187.00 355.91,1187.00 357.75,1187.00 359.58,1187.00 361.41,1187.00 363.24,1187.00 365.07,1187.00 366.91,1187.00 368.74,1187.00 370.57,1187.00 372.40,1187.00 374.24,1187.00 376.07,1187.00 377.90,1187.00 379.74,1187.00 381.57,1187.00 383.40,1187.00 385.23,1187.00 387.06,1187.00 388.90,1187.00 390.73,1187.00 392.56,1187.00 394.39,1187.00 396.23,1187.00 398.06,1187.00 399.89,1187.00 401.73,1187.00 403.56,1187.00 405.39,1187.00 407.22,1187.00 409.06,1187.00 410.89,1187.00 412.72,1187.00 414.55,1187.00 416.38,1187.00 418.22,1186.99 420.05,1186.99 421.88,1186.99 423.71,1186.99 425.55,1186.99 427.38,1186.99 429.21,1186.99 431.05,1186.99 432.88,1186.99 434.71,1186.99 436.54,1186.98 438.38,1186.98 440.21,1186.98 442.04,1186.98 443.87,1186.97 445.70,1186.97 447.54,1186.97 449.37,1186.97 451.20,1186.96 453.04,1186.96 454.87,1186.95 456.70,1186.95 458.53,1186.94 460.37,1186.94 462.20,1186.93 464.03,1186.92 465.86,1186.92 467.69,1186.91 469.53,1186.90 471.36,1186.89 473.19,1186.88 475.02,1186.86 476.86,1186.85 478.69,1186.84 480.52,1186.82 482.36,1186.80 484.19,1186.78 486.02,1186.76 487.85,1186.74 489.69,1186.72 491.52,1186.69 493.35,1186.66 495.18,1186.63 497.01,1186.59 498.85,1186.56 500.68,1186.52 502.51,1186.47 504.35,1186.42 506.18,1186.37 508.01,1186.32 509.84,1186.26 511.68,1186.19 513.51,1186.12 515.34,1186.05 517.17,1185.96 519.00,1185.88 520.84,1185.78 522.67,1185.68 524.50,1185.57 526.34,1185.45 528.17,1185.32 530.00,1185.18 531.83,1185.04 533.66,1184.88 535.50,1184.71 537.33,1184.53 539.16,1184.33 541.00,1184.12 542.83,1183.90 544.66,1183.66 546.49,1183.40 548.33,1183.13 550.16,1182.84 551.99,1182.53 553.82,1182.20 555.65,1181.85 557.49,1181.47 559.32,1181.07 561.15,1180.65 562.99,1180.19 564.82,1179.71 566.65,1179.20 568.48,1178.66 570.32,1178.09 572.15,1177.48 573.98,1176.84 575.81,1176.16 577.64,1175.43 579.48,1174.67 581.31,1173.87 583.14,1173.02 584.98,1172.12 586.81,1171.17 588.64,1170.18 590.47,1169.13 592.31,1168.02 594.14,1166.86 595.97,1165.64 597.80,1164.35 599.63,1163.01 601.47,1161.59 603.30,1160.11 605.13,1158.56 606.96,1156.93 608.80,1155.23 610.63,1153.44 612.46,1151.58 614.30,1149.64 616.13,1147.61 617.96,1145.49 619.79,1143.28 621.62,1140.99 623.46,1138.59 625.29,1136.10 627.12,1133.51 628.95,1130.82 630.79,1128.03 632.62,1125.13 634.45,1122.12 636.29,1119.01 638.12,1115.78 639.95,1112.45 641.78,1108.99 643.62,1105.43 645.45,1101.74 647.28,1097.94 649.11,1094.02 650.94,1089.98 652.78,1085.82 654.61,1081.54 656.44,1077.14 658.27,1072.62 660.11,1067.98 661.94,1063.21 663.77,1058.33 665.61,1053.32 667.44,1048.20 669.27,1042.96 671.10,1037.60 672.93,1032.13 674.77,1026.54 676.60,1020.85 678.43,1015.04 680.26,1009.13 682.10,1003.12 683.93,997.01 685.76,990.80 687.60,984.50 689.43,978.11 691.26,971.64 693.09,965.09 694.92,958.46 696.76,951.76 698.59,945.00 700.42,938.18 702.25,931.31 704.09,924.40 705.92,917.44 707.75,910.45 709.59,903.43 711.42,896.39 713.25,889.35 715.08,882.29 716.91,875.24 718.75,868.20 720.58,861.18 722.41,854.19 724.25,847.23 726.08,840.32 727.91,833.46 729.74,826.66 731.58,819.93 733.41,813.28 735.24,806.71 737.07,800.24 738.90,793.88 740.74,787.63 742.57,781.50 744.40,775.50 746.24,769.64 748.07,763.93 749.90,758.37 751.73,752.98 753.57,747.76 755.40,742.72 757.23,737.87 759.06,733.21 760.89,728.75 762.73,724.51 764.56,720.47 766.39,716.66 768.23,713.08 770.06,709.73 771.89,706.62 773.72,703.75 775.55,701.14 777.39,698.77 779.22,696.66 781.05,694.81 782.88,693.22 784.72,691.90 786.55,690.84 788.38,690.06 790.22,689.54 792.05,689.30 793.88,689.32 795.71,689.62 797.54,690.19 799.38,691.03 801.21,692.14 803.04,693.52 804.88,695.16 806.71,697.06 808.54,699.22 810.37,701.64 812.21,704.31 814.04,707.22 815.87,710.38 817.70,713.78 819.53,717.41 821.37,721.26 823.20,725.34 825.03,729.63 826.87,734.12 828.70,738.82 830.53,743.71 832.36,748.79 834.20,754.04 836.03,759.47 837.86,765.06 839.69,770.80 841.52,776.69 843.36,782.71 845.19,788.87 847.02,795.14 848.86,801.53 850.69,808.02 852.52,814.60 854.35,821.27 856.18,828.01 858.02,834.83 859.85,841.70 861.68,848.62 863.51,855.59 865.35,862.59 867.18,869.61 869.01,876.65 870.85,883.70 872.68,890.76 874.51,897.80 876.34,904.84 878.17,911.85 880.01,918.83 881.84,925.78 883.67,932.69 885.50,939.55 887.34,946.36 889.17,953.11 891.00,959.79 892.84,966.40 894.67,972.94 896.50,979.39 898.33,985.77 900.16,992.05 902.00,998.24 903.83,1004.33 905.66,1010.32 907.50,1016.21 909.33,1021.99 911.16,1027.67 912.99,1033.23 914.83,1038.68 916.66,1044.02 918.49,1049.23 920.32,1054.33 922.15,1059.31 923.99,1064.18 925.82,1068.92 927.65,1073.54 929.49,1078.03 931.32,1082.41 933.15,1086.67 934.98,1090.80 936.82,1094.82 938.65,1098.71 940.48,1102.49 942.31,1106.15 944.14,1109.69 945.98,1113.12 947.81,1116.44 949.64,1119.64 951.48,1122.73 953.31,1125.72 955.14,1128.59 956.97,1131.37 958.80,1134.04 960.64,1136.61 962.47,1139.08 964.30,1141.45 966.13,1143.73 967.97,1145.92 969.80,1148.02 971.63,1150.03 973.47,1151.96 975.30,1153.81 977.13,1155.57 978.96,1157.26 980.79,1158.87 982.63,1160.41 984.46,1161.88 986.29,1163.28 988.12,1164.62 989.96,1165.89 991.79,1167.10 993.62,1168.25 995.46,1169.34 997.29,1170.38 999.12,1171.37 1000.95,1172.30 1002.78,1173.19 1004.62,1174.03 1006.45,1174.83 1008.28,1175.58 1010.12,1176.29 1011.95,1176.97 1013.78,1177.61 1015.61,1178.21 1017.45,1178.77 1019.28,1179.31 1021.11,1179.81 1022.94,1180.29 1024.78,1180.73 1026.61,1181.15 1028.44,1181.55 1030.27,1181.92 1032.11,1182.27 1033.94,1182.59 1035.77,1182.90 1037.60,1183.19 1039.43,1183.46 1041.27,1183.71 1043.10,1183.94 1044.93,1184.16 1046.76,1184.37 1048.60,1184.56 1050.43,1184.74 1052.26,1184.91 1054.10,1185.07 1055.93,1185.21 1057.76,1185.35 1059.59,1185.47 1061.42,1185.59 1063.26,1185.70 1065.09,1185.80 1066.92,1185.89 1068.76,1185.98 1070.59,1186.06 1072.42,1186.14 1074.25,1186.21 1076.09,1186.27 1077.92,1186.33 1079.75,1186.38 1081.58,1186.43 1083.41,1186.48 1085.25,1186.52 1087.08,1186.56 1088.91,1186.60 1090.74,1186.63 1092.58,1186.67 1094.41,1186.69 1096.24,1186.72 1098.08,1186.74 1099.91,1186.77 1101.74,1186.79 1103.57,1186.81 1105.40,1186.82 1107.24,1186.84 1109.07,1186.85 1110.90,1186.87 1112.74,1186.88 1114.57,1186.89 1116.40,1186.90 1118.23,1186.91 1120.07,1186.92 1121.90,1186.93 1123.73,1186.93 1125.56,1186.94 1127.39,1186.94 1129.23,1186.95 1131.06,1186.95 1132.89,1186.96 1134.72,1186.96 1136.56,1186.97 1138.39,1186.97 1140.22,1186.97 1142.05,1186.98 1143.89,1186.98 1145.72,1186.98 1147.55,1186.98 1149.38,1186.98 1151.22,1186.99 1153.05,1186.99 1154.88,1186.99 1156.72,1186.99 1158.55,1186.99 1160.38,1186.99 1162.21,1186.99 1164.05,1186.99 1165.88,1186.99 1167.71,1186.99 1169.54,1187.00 1171.38,1187.00 1173.21,1187.00 1175.04,1187.00 1176.87,1187.00 1178.70,1187.00 1180.54,1187.00 1182.37,1187.00 1184.20,1187.00 1186.03,1187.00 1187.87,1187.00 1189.70,1187.00 1191.53,1187.00 1193.37,1187.00 1195.20,1187.00 1197.03,1187.00 1198.86,1187.00 1200.69,1187.00 1202.53,1187.00 1204.36,1187.00 1206.19,1187.00 1208.03,1187.00 1209.86,1187.00 1211.69,1187.00 1213.52,1187.00 1215.36,1187.00 1217.19,1187.00 1219.02,1187.00 1220.85,1187.00 1222.68,1187.00 1224.52,1187.00 1226.35,1187.00 1228.18,1187.00 1230.02,1187.00 1231.85,1187.00 1233.68,1187.00 1235.51,1187.00 1237.35,1187.00 1239.18,1187.00 1241.01,1187.00 1242.84,1187.00 1244.67,1187.00 1246.51,1187.00 1248.34,1187.00 1250.17,1187.00 1252.01,1187.00 1253.84,1187.00 1255.67,1187.00 1257.50,1187.00 1259.34,1187.00 1261.17,1187.00 1263.00,1187.00 1264.83,1187.00 1266.66,1187.00 1268.50,1187.00 1270.33,1187.00 1272.16,1187.00 1273.99,1187.00 1275.83,1187.00 1277.66,1187.00 1279.49,1187.00 1281.33,1187.00 1283.16,1187.00 1284.99,1187.00 1286.82,1187.00 1288.65,1187.00 1290.49,1187.00 1292.32,1187.00 1294.15,1187.00 1295.98,1187.00 1297.82,1187.00 1299.65,1187.00 1301.48,1187.00 1303.32,1187.00 1305.15,1187.00 1306.98,1187.00 1308.81,1187.00 1310.64,1187.00 1312.48,1187.00 1314.31,1187.00 1316.14,1187.00 1317.97,1187.00 1319.81,1187.00 1321.64,1187.00 1323.47,1187.00 1325.31,1187.00 1327.14,1187.00 1328.97,1187.00 1330.80,1187.00 1332.63,1187.00 1334.47,1187.00 1336.30,1187.00 1338.13,1187.00 1339.96,1187.00 1341.80,1187.00 1343.63,1187.00 1345.46,1187.00 1347.30,1187.00 1349.13,1187.00 1350.96,1187.00 1352.79,1187.00 1354.62,1187.00 1356.46,1187.00 1358.29,1187.00 1360.12,1187.00 1361.95,1187.00 1363.79,1187.00 1365.62,1187.00 1367.45,1187.00 1369.29,1187.00 1371.12,1187.00 1372.95,1187.00 1374.78,1187.00 1376.62,1187.00 1378.45,1187.00 1380.28,1187.00 1382.11,1187.00 1383.94,1187.00 1385.78,1187.00 1387.61,1187.00 1389.44,1187.00 1391.28,1187.00 1393.11,1187.00 1394.94,1187.00 1396.77,1187.00 1398.61,1187.00 1400.44,1187.00 1402.27,1187.00 1404.10,1187.00 1405.93,1187.00 1407.77,1187.00 1409.60,1187.00 1411.43,1187.00 1413.27,1187.00 1415.10,1187.00 1416.93,1187.00 1418.76,1187.00 1420.60,1187.00 1422.43,1187.00 1424.26,1187.00 1426.09,1187.00 1427.92,1187.00 1429.76,1187.00 1431.59,1187.00 1433.42,1187.00 1435.26,1187.00 1437.09,1187.00 1438.92,1187.00 1440.75,1187.00 1442.59,1187.00 1444.42,1187.00 1446.25,1187.00 1448.08,1187.00 1449.91,1187.00 1451.75,1187.00 1453.58,1187.00 1455.41,1187.00 1457.24,1187.00 1459.08,1187.00 1460.91,1187.00 1462.74,1187.00 1464.58,1187.00 1466.41,1187.00 1468.24,1187.00 1470.07,1187.00 1471.90,1187.00 1473.74,1187.00 1475.57,1187.00 1477.40,1187.00 1479.23,1187.00 1481.07,1187.00 1482.90,1187.00 1484.73,1187.00 1486.57,1187.00 1488.40,1187.00 1490.23,1187.00 1492.06,1187.00 1493.89,1187.00 1495.73,1187.00 1497.56,1187.00 1499.39,1187.00 1501.22,1187.00 1503.06,1187.00 1504.89,1187.00 1506.72,1187.00 1508.56,1187.00 1510.39,1187.00 1512.22,1187.00 1514.05,1187.00 1515.88,1187.00 1517.72,1187.00 1519.55,1187.00 1521.38,1187.00 1523.21,1187.00 1525.05,1187.00 1526.88,1187.00 1528.71,1187.00 1530.55,1187.00 1532.38,1187.00 1534.21,1187.00 1536.04,1187.00 1537.88,1187.00 1539.71,1187.00 1541.54,1187.00 1543.37,1187.00 1545.20,1187.00 1547.04,1187.00 1548.87,1187.00 1550.70,1187.00 1552.54,1187.00 1554.37,1187.00 1556.20,1187.00 1558.03,1187.00 1559.87,1187.00 1561.70,1187.00 1563.53,1187.00 1565.36,1187.00 1567.19,1187.00 1569.03,1187.00 1570.86,1187.00 1572.69,1187.00 1574.53,1187.00 1576.36,1187.00 1578.19,1187.00 1580.02,1187.00 1581.86,1187.00 1583.69,1187.00 1585.52,1187.00 1587.35,1187.00 1589.18,1187.00 1591.02,1187.00 1592.85,1187.00 1594.68,1187.00 1596.52,1187.00 1598.35,1187.00 1600.18,1187.00 1602.01,1187.00 1603.85,1187.00 1605.68,1187.00 1607.51,1187.00 1609.34,1187.00 1611.17,1187.00 1613.01,1187.00 1614.84,1187.00 1616.67,1187.00 1618.51,1187.00 1620.34,1187.00 1622.17,1187.00 1624.00,1187.00 1625.84,1187.00 1627.67,1187.00 1629.50,1187.00"/>
<polyline stroke="#000000" stroke-width="3.7" points="163.50,1187.00 165.33,1187.00 167.16,1187.00 169.00,1187.00 170.83,1187.00 172.66,1187.00 174.50,1187.00 176.33,1187.00 178.16,1187.00 179.99,1187.00 181.82,1187.00 183.66,1187.00 185.49,1187.00 187.32,1187.00 189.16,1187.00 190.99,1187.00 192.82,1187.00 194.65,1187.00 196.49,1187.00 198.32,1187.00 200.15,1187.00 201.98,1187.00 203.81,1187.00 205.65,1187.00 207.48,1187.00 209.31,1187.00 211.15,1187.00 212.98,1187.00 214.81,1187.00 216.64,1187.00 218.47,1187.00 220.31,1187.00 222.14,1187.00 223.97,1187.00 225.81,1187.00 227.64,1187.00 229.47,1187.00 231.30,1187.00 233.13,1187.00 234.97,1187.00 236.80,1187.00 238.63,1187.00 240.47,1187.00 242.30,1187.00 244.13,1187.00 245.96,1186.99 247.80,1186.99 249.63,1186.99 251.46,1186.99 253.29,1186.99 255.12,1186.99 256.96,1186.99 258.79,1186.99 260.62,1186.99 262.45,1186.99 264.29,1186.99 266.12,1186.99 267.95,1186.99 269.78,1186.99 271.62,1186.99 273.45,1186.99 275.28,1186.99 277.12,1186.99 278.95,1186.99 280.78,1186.99 282.61,1186.98 284.44,1186.98 286.28,1186.98 288.11,1186.98 289.94,1186.98 291.77,1186.98 293.61,1186.98 295.44,1186.98 297.27,1186.98 299.11,1186.98 300.94,1186.97 302.77,1186.97 304.60,1186.97 306.44,1186.97 308.27,1186.97 310.10,1186.97 311.93,1186.97 313.76,1186.96 315.60,1186.96 317.43,1186.96 319.26,1186.96 321.10,1186.96 322.93,1186.95 324.76,1186.95 326.59,1186.95 328.43,1186.95 330.26,1186.94 332.09,1186.94 333.92,1186.94 335.75,1186.94 337.59,1186.93 339.42,1186.93 341.25,1186.93 343.09,1186.92 344.92,1186.92 346.75,1186.91 348.58,1186.91 350.41,1186.91 352.25,1186.90 354.08,1186.90 355.91,1186.89 357.75,1186.89 359.58,1186.88 361.41,1186.88 363.24,1186.87 365.07,1186.86 366.91,1186.86 368.74,1186.85 370.57,1186.84 372.40,1186.84 374.24,1186.83 376.07,1186.82 377.90,1186.81 379.74,1186.80 381.57,1186.79 383.40,1186.78 385.23,1186.77 387.06,1186.76 388.90,1186.75 390.73,1186.74 392.56,1186.73 394.39,1186.72 396.23,1186.70 398.06,1186.69 399.89,1186.68 401.73,1186.66 403.56,1186.65 405.39,1186.63 407.22,1186.62 409.06,1186.60 410.89,1186.58 412.72,1186.56 414.55,1186.54 416.38,1186.52 418.22,1186.50 420.05,1186.48 421.88,1186.46 423.71,1186.44 425.55,1186.41 427.38,1186.39 429.21,1186.36 431.05,1186.33 432.88,1186.30 434.71,1186.27 436.54,1186.24 438.38,1186.21 440.21,1186.18 442.04,1186.14 443.87,1186.11 445.70,1186.07 447.54,1186.03 449.37,1185.99 451.20,1185.95 453.04,1185.91 454.87,1185.86 456.70,1185.81 458.53,1185.77 460.37,1185.72 462.20,1185.66 464.03,1185.61 465.86,1185.55 467.69,1185.49 469.53,1185.43 471.36,1185.37 473.19,1185.31 475.02,1185.24 476.86,1185.17 478.69,1185.10 480.52,1185.02 482.36,1184.95 484.19,1184.87 486.02,1184.78 487.85,1184.70 489.69,1184.61 491.52,1184.51 493.35,1184.42 495.18,1184.32 497.01,1184.22 498.85,1184.11 500.68,1184.00 502.51,1183.89 504.35,1183.77 506.18,1183.65 508.01,1183.53 509.84,1183.40 511.68,1183.26 513.51,1183.12 515.34,1182.98 517.17,1182.83 519.00,1182.68 520.84,1182.52 522.67,1182.36 524.50,1182.19 526.34,1182.02 528.17,1181.84 530.00,1181.65 531.83,1181.46 533.66,1181.26 535.50,1181.06 537.33,1180.85 539.16,1180.63 541.00,1180.41 542.83,1180.18 544.66,1179.94 546.49,1179.70 548.33,1179.44 550.16,1179.18 551.99,1178.91 553.82,1178.64 555.65,1178.35 557.49,1178.06 559.32,1177.75 561.15,1177.44 562.99,1177.12 564.82,1176.79 566.65,1176.45 568.48,1176.10 570.32,1175.74 572.15,1175.37 573.98,1174.98 575.81,1174.59 577.64,1174.19 579.48,1173.77 581.31,1173.34 583.14,1172.90 584.98,1172.45 586.81,1171.98 588.64,1171.51 590.47,1171.01 592.31,1170.51 594.14,1169.99 595.97,1169.46 597.80,1168.91 599.63,1168.35 601.47,1167.77 603.30,1167.18 605.13,1166.57 606.96,1165.94 608.80,1165.30 610.63,1164.64 612.46,1163.97 614.30,1163.28 616.13,1162.57 617.96,1161.84 619.79,1161.09 621.62,1160.32 623.46,1159.54 625.29,1158.73 627.12,1157.91 628.95,1157.06 630.79,1156.20 632.62,1155.31 634.45,1154.40 636.29,1153.47 638.12,1152.51 639.95,1151.54 641.78,1150.54 643.62,1149.51 645.45,1148.47 647.28,1147.39 649.11,1146.30 650.94,1145.18 652.78,1144.03 654.61,1142.86 656.44,1141.66 658.27,1140.43 660.11,1139.17 661.94,1137.89 663.77,1136.58 665.61,1135.24 667.44,1133.88 669.27,1132.48 671.10,1131.05 672.93,1129.59 674.77,1128.10 676.60,1126.59 678.43,1125.03 680.26,1123.45 682.10,1121.84 683.93,1120.19 685.76,1118.50 687.60,1116.79 689.43,1115.04 691.26,1113.25 693.09,1111.43 694.92,1109.58 696.76,1107.69 698.59,1105.76 700.42,1103.80 702.25,1101.80 704.09,1099.76 705.92,1097.68 707.75,1095.57 709.59,1093.42 711.42,1091.23 713.25,1088.99 715.08,1086.72 716.91,1084.41 718.75,1082.06 720.58,1079.67 722.41,1077.24 724.25,1074.76 726.08,1072.25 727.91,1069.69 729.74,1067.09 731.58,1064.45 733.41,1061.76 735.24,1059.03 737.07,1056.26 738.90,1053.44 740.74,1050.58 742.57,1047.67 744.40,1044.73 746.24,1041.73 748.07,1038.69 749.90,1035.61 751.73,1032.48 753.57,1029.31 755.40,1026.09 757.23,1022.82 759.06,1019.51 760.89,1016.15 762.73,1012.75 764.56,1009.30 766.39,1005.81 768.23,1002.26 770.06,998.68 771.89,995.04 773.72,991.36 775.55,987.64 777.39,983.86 779.22,980.05 781.05,976.18 782.88,972.27 784.72,968.32 786.55,964.32 788.38,960.27 790.22,956.18 792.05,952.04 793.88,947.86 795.71,943.63 797.54,939.36 799.38,935.04 801.21,930.68 803.04,926.28 804.88,921.84 806.71,917.35 808.54,912.82 810.37,908.24 812.21,903.63 814.04,898.97 815.87,894.28 817.70,889.54 819.53,884.76 821.37,879.95 823.20,875.09 825.03,870.20 826.87,865.27 828.70,860.30 830.53,855.30 832.36,850.27 834.20,845.19 836.03,840.09 837.86,834.95 839.69,829.78 841.52,824.57 843.36,819.34 845.19,814.07 847.02,808.78 848.86,803.46 850.69,798.11 852.52,792.73 854.35,787.33 856.18,781.91 858.02,776.46 859.85,770.99 861.68,765.50 863.51,759.99 865.35,754.45 867.18,748.91 869.01,743.34 870.85,737.76 872.68,732.16 874.51,726.55 876.34,720.93 878.17,715.29 880.01,709.65 881.84,704.00 883.67,698.34 885.50,692.68 887.34,687.01 889.17,681.34 891.00,675.66 892.84,669.99 894.67,664.32 896.50,658.65 898.33,652.98 900.16,647.32 902.00,641.66 903.83,636.02 905.66,630.38 907.50,624.76 909.33,619.14 911.16,613.54 912.99,607.96 914.83,602.39 916.66,596.85 918.49,591.32 920.32,585.81 922.15,580.33 923.99,574.88 925.82,569.45 927.65,564.04 929.49,558.67 931.32,553.33 933.15,548.02 934.98,542.75 936.82,537.51 938.65,532.31 940.48,527.14 942.31,522.02 944.14,516.94 945.98,511.91 947.81,506.92 949.64,501.98 951.48,497.08 953.31,492.24 955.14,487.45 956.97,482.71 958.80,478.02 960.64,473.39 962.47,468.82 964.30,464.31 966.13,459.86 967.97,455.47 969.80,451.14 971.63,446.88 973.47,442.69 975.30,438.56 977.13,434.51 978.96,430.52 980.79,426.60 982.63,422.76 984.46,419.00 986.29,415.30 988.12,411.69 989.96,408.16 991.79,404.70 993.62,401.32 995.46,398.03 997.29,394.82 999.12,391.70 1000.95,388.66 1002.78,385.70 1004.62,382.84 1006.45,380.06 1008.28,377.37 1010.12,374.77 1011.95,372.27 1013.78,369.85 1015.61,367.53 1017.45,365.30 1019.28,363.17 1021.11,361.13 1022.94,359.19 1024.78,357.35 1026.61,355.60 1028.44,353.96 1030.27,352.41 1032.11,350.96 1033.94,349.61 1035.77,348.36 1037.60,347.21 1039.43,346.16 1041.27,345.22 1043.10,344.38 1044.93,343.64 1046.76,343.00 1048.60,342.46 1050.43,342.03 1052.26,341.70 1054.10,341.48 1055.93,341.35 1057.76,341.34 1059.59,341.42 1061.42,341.61 1063.26,341.90 1065.09,342.30 1066.92,342.79 1068.76,343.39 1070.59,344.10 1072.42,344.90 1074.25,345.81 1076.09,346.82 1077.92,347.93 1079.75,349.15 1081.58,350.46 1083.41,351.87 1085.25,353.39 1087.08,355.00 1088.91,356.71 1090.74,358.52 1092.58,360.42 1094.41,362.43 1096.24,364.52 1098.08,366.72 1099.91,369.01 1101.74,371.39 1103.57,373.86 1105.40,376.42 1107.24,379.08 1109.07,381.83 1110.90,384.66 1112.74,387.58 1114.57,390.59 1116.40,393.69 1118.23,396.87 1120.07,400.13 1121.90,403.48 1123.73,406.90 1125.56,410.41 1127.39,413.99 1129.23,417.66 1131.06,421.40 1132.89,425.21 1134.72,429.10 1136.56,433.06 1138.39,437.09 1140.22,441.20 1142.05,445.37 1143.89,449.60 1145.72,453.90 1147.55,458.27 1149.38,462.70 1151.22,467.19 1153.05,471.74 1154.88,476.35 1156.72,481.01 1158.55,485.73 1160.38,490.51 1162.21,495.33 1164.05,500.21 1165.88,505.13 1167.71,510.11 1169.54,515.13 1171.38,520.19 1173.21,525.30 1175.04,530.44 1176.87,535.63 1178.70,540.86 1180.54,546.12 1182.37,551.41 1184.20,556.74 1186.03,562.11 1187.87,567.50 1189.70,572.92 1191.53,578.37 1193.37,583.84 1195.20,589.34 1197.03,594.86 1198.86,600.40 1200.69,605.95 1202.53,611.53 1204.36,617.13 1206.19,622.73 1208.03,628.35 1209.86,633.99 1211.69,639.63 1213.52,645.28 1215.36,650.94 1217.19,656.61 1219.02,662.28 1220.85,667.95 1222.68,673.62 1224.52,679.30 1226.35,684.97 1228.18,690.64 1230.02,696.30 1231.85,701.96 1233.68,707.62 1235.51,713.26 1237.35,718.90 1239.18,724.53 1241.01,730.14 1242.84,735.74 1244.67,741.33 1246.51,746.90 1248.34,752.46 1250.17,758.00 1252.01,763.52 1253.84,769.02 1255.67,774.49 1257.50,779.95 1259.34,785.38 1261.17,790.79 1263.00,796.18 1264.83,801.54 1266.66,806.87 1268.50,812.17 1270.33,817.45 1272.16,822.69 1273.99,827.91 1275.83,833.09 1277.66,838.24 1279.49,843.36 1281.33,848.44 1283.16,853.49 1284.99,858.51 1286.82,863.49 1288.65,868.43 1290.49,873.34 1292.32,878.20 1294.15,883.03 1295.98,887.82 1297.82,892.57 1299.65,897.29 1301.48,901.96 1303.32,906.59 1305.15,911.17 1306.98,915.72 1308.81,920.22 1310.64,924.69 1312.48,929.10 1314.31,933.48 1316.14,937.81 1317.97,942.10 1319.81,946.34 1321.64,950.54 1323.47,954.69 1325.31,958.80 1327.14,962.86 1328.97,966.88 1330.80,970.85 1332.63,974.78 1334.47,978.66 1336.30,982.50 1338.13,986.28 1339.96,990.03 1341.80,993.72 1343.63,997.37 1345.46,1000.98 1347.30,1004.54 1349.13,1008.05 1350.96,1011.51 1352.79,1014.93 1354.62,1018.31 1356.46,1021.63 1358.29,1024.92 1360.12,1028.15 1361.95,1031.34 1363.79,1034.49 1365.62,1037.59 1367.45,1040.64 1369.29,1043.65 1371.12,1046.62 1372.95,1049.54 1374.78,1052.42 1376.62,1055.25 1378.45,1058.04 1380.28,1060.78 1382.11,1063.48 1383.94,1066.14 1385.78,1068.76 1387.61,1071.33 1389.44,1073.86 1391.28,1076.35 1393.11,1078.80 1394.94,1081.21 1396.77,1083.57 1398.61,1085.90 1400.44,1088.18 1402.27,1090.43 1404.10,1092.63 1405.93,1094.80 1407.77,1096.93 1409.60,1099.02 1411.43,1101.07 1413.27,1103.08 1415.10,1105.06 1416.93,1107.00 1418.76,1108.90 1420.60,1110.77 1422.43,1112.60 1424.26,1114.40 1426.09,1116.16 1427.92,1117.89 1429.76,1119.58 1431.59,1121.25 1433.42,1122.87 1435.26,1124.47 1437.09,1126.03 1438.92,1127.56 1440.75,1129.06 1442.59,1130.53 1444.42,1131.97 1446.25,1133.38 1448.08,1134.75 1449.91,1136.10 1451.75,1137.42 1453.58,1138.72 1455.41,1139.98 1457.24,1141.22 1459.08,1142.43 1460.91,1143.61 1462.74,1144.77 1464.58,1145.90 1466.41,1147.00 1468.24,1148.08 1470.07,1149.14 1471.90,1150.17 1473.74,1151.18 1475.57,1152.16 1477.40,1153.13 1479.23,1154.07 1481.07,1154.98 1482.90,1155.88 1484.73,1156.75 1486.57,1157.61 1488.40,1158.44 1490.23,1159.25 1492.06,1160.04 1493.89,1160.82 1495.73,1161.57 1497.56,1162.31 1499.39,1163.02 1501.22,1163.72 1503.06,1164.40 1504.89,1165.07 1506.72,1165.72 1508.56,1166.35 1510.39,1166.96 1512.22,1167.56 1514.05,1168.14 1515.88,1168.71 1517.72,1169.26 1519.55,1169.80 1521.38,1170.32 1523.21,1170.83 1525.05,1171.33 1526.88,1171.81 1528.71,1172.28 1530.55,1172.74 1532.38,1173.19 1534.21,1173.62 1536.04,1174.04 1537.88,1174.45 1539.71,1174.84 1541.54,1175.23 1543.37,1175.61 1545.20,1175.97 1547.04,1176.32 1548.87,1176.67 1550.70,1177.00 1552.54,1177.33 1554.37,1177.64 1556.20,1177.95 1558.03,1178.25 1559.87,1178.53 1561.70,1178.81 1563.53,1179.09 1565.36,1179.35 1567.19,1179.61 1569.03,1179.85 1570.86,1180.09 1572.69,1180.33 1574.53,1180.55 1576.36,1180.77 1578.19,1180.99 1580.02,1181.19 1581.86,1181.39 1583.69,1181.58 1585.52,1181.77 1587.35,1181.95 1589.18,1182.13 1591.02,1182.30 1592.85,1182.46 1594.68,1182.62 1596.52,1182.78 1598.35,1182.93 1600.18,1183.07 1602.01,1183.21 1603.85,1183.35 1605.68,1183.48 1607.51,1183.61 1609.34,1183.73 1611.17,1183.85 1613.01,1183.96 1614.84,1184.07 1616.67,1184.18 1618.51,1184.28 1620.34,1184.38 1622.17,1184.48 1624.00,1184.57 1625.84,1184.66 1627.67,1184.75 1629.50,1184.84"/>
<polyline stroke="#edb120" stroke-width="12.3" points="588.5,1187.0 589.2,1185.1 589.9,1183.2 590.5,1181.4 591.2,1179.5 591.9,1177.6 592.6,1175.7 593.3,1173.8 593.9,1172.0 594.6,1170.1 595.3,1168.2 596.0,1166.3 596.6,1164.4 597.3,1162.5 598.0,1160.7 598.7,1158.8 599.3,1156.9 600.0,1155.0 600.7,1153.1 601.3,1151.2 602.0,1149.3 602.7,1147.5 603.3,1145.6 604.0,1143.7 604.7,1141.8 605.3,1139.9 606.0,1138.0 606.7,1136.1 607.3,1134.3 608.0,1132.4 608.6,1130.5 609.3,1128.6 610.0,1126.7 610.6,1124.8 611.3,1122.9 611.9,1121.0 612.6,1119.1 613.2,1117.3 613.9,1115.4 614.5,1113.5 615.2,1111.6 615.8,1109.7 616.5,1107.8 617.1,1105.9 617.7,1104.0 618.4,1102.1 619.0,1100.2 619.6,1098.3 620.3,1096.4 620.9,1094.5 621.5,1092.6 622.2,1090.7 622.8,1088.8 623.4,1086.9 624.0,1085.0 624.7,1083.1 625.3,1081.2 625.9,1079.3 626.5,1077.4 627.1,1075.5 627.7,1073.6 628.3,1071.7 629.0,1069.8 629.6,1067.9 630.2,1066.0 630.7,1064.1 631.3,1062.2 631.9,1060.2 632.5,1058.3 633.1,1056.4 633.7,1054.5 634.2,1052.6 634.8,1050.7 635.4,1048.7 636.0,1046.8 636.6,1044.9 637.2,1043.0 637.7,1041.1 638.3,1039.2 638.9,1037.3 639.6,1035.4 640.2,1033.5 640.8,1031.6 641.4,1029.7 642.1,1027.8 642.7,1025.9 643.4,1024.0 644.0,1022.1 644.7,1020.2 645.4,1018.4 646.1,1016.5 646.7,1014.6 647.4,1012.7 648.1,1010.8 648.8,1009.0 649.5,1007.1 650.2,1005.2 651.0,1003.3 651.7,1001.5 652.4,999.6 653.2,997.7 653.9,995.9 654.7,994.0 655.4,992.2 656.2,990.3 657.0,988.5 657.8,986.6 658.6,984.8 659.4,983.0 660.2,981.2 661.0,979.4 661.9,977.5 662.7,975.7 663.6,974.0 664.5,972.2 665.4,970.4 666.3,968.6 667.3,966.9 668.3,965.1 669.2,963.4 670.2,961.6 671.2,959.9 672.2,958.1 673.1,956.4 674.1,954.6 675.0,952.9 676.0,951.1 676.9,949.3 677.8,947.6 678.8,945.8 679.7,944.0 680.6,942.2 681.6,940.4 682.5,938.7 683.4,936.9 684.3,935.1 685.2,933.3 686.1,931.5 687.0,929.7 687.9,928.0 688.8,926.2 689.7,924.4 690.6,922.6 691.5,920.8 692.4,919.0 693.3,917.2 694.2,915.4 695.1,913.6 696.0,911.8 696.9,910.0 697.8,908.3 698.7,906.5 699.6,904.7 700.5,902.9 701.4,901.1 702.3,899.3 703.3,897.5 704.2,895.7 705.1,893.9 706.0,892.2 706.9,890.4 707.8,888.6 708.7,886.8 709.6,885.0 710.5,883.3 711.5,881.5 712.4,879.7 713.3,877.9 714.3,876.2 715.2,874.4 716.1,872.6 717.1,870.9 718.0,869.1 719.0,867.4 719.9,865.6 720.9,863.9 721.9,862.1 722.8,860.4 723.8,858.6 724.8,856.9 725.8,855.1 726.8,853.4 727.7,851.7 728.8,850.0 729.8,848.2 730.8,846.5 731.8,844.8 732.8,843.1 733.9,841.4 734.9,839.7 736.0,838.0 737.1,836.4 738.2,834.7 739.3,833.0 740.4,831.4 741.5,829.7 742.6,828.1 743.8,826.4 744.9,824.8 746.1,823.1 747.2,821.5 748.4,819.9 749.5,818.2 750.7,816.6 751.8,814.9 752.9,813.3 754.0,811.6 755.2,809.9 756.3,808.3 757.4,806.6 758.5,805.0 759.7,803.3 760.8,801.6 761.9,800.0 763.0,798.3 764.2,796.7 765.3,795.0 766.4,793.4 767.6,791.7 768.7,790.1 769.9,788.4 771.0,786.8 772.2,785.2 773.3,783.5 774.5,781.9 775.7,780.3 776.9,778.7 778.1,777.1 779.3,775.6 780.5,774.0 781.8,772.4 783.0,770.9 784.3,769.3 785.5,767.8 786.8,766.3 788.1,764.8 789.4,763.2 790.7,761.7 792.0,760.3 793.4,758.8 794.7,757.3 796.1,755.8 797.4,754.4 798.8,752.9 800.2,751.4 801.6,750.0 802.9,748.5 804.3,747.1 805.7,745.6 807.1,744.2 808.5,742.7 809.9,741.3 811.3,739.8 812.6,738.4 814.0,736.9 815.4,735.5 816.8,734.0 818.2,732.6 819.5,731.1 820.9,729.6 822.2,728.1 823.6,726.7 824.9,725.2 826.2,723.7 827.6,722.2 828.9,720.7 830.2,719.2 831.5,717.6 832.8,716.1 834.1,714.6 835.4,713.1 836.6,711.5 837.9,710.0 839.2,708.5 840.5,706.9 841.8,705.4 843.1,703.9 844.4,702.4 845.7,700.8 847.0,699.3 848.3,697.8 849.7,696.3 851.0,694.8 852.3,693.4 853.7,691.9 855.0,690.4 856.4,689.0 857.8,687.5 859.2,686.1 860.6,684.6 862.0,683.2 863.4,681.8 864.7,680.3 866.1,678.9 867.6,677.5 869.0,676.1 870.4,674.6 871.8,673.2 873.2,671.8 874.6,670.4 876.0,669.0 877.5,667.6 878.9,666.1 880.3,664.7 881.6,663.3 883.0,661.8 884.4,660.4 885.7,658.9 887.0,657.4 888.4,655.9 889.7,654.4 890.9,652.9 892.2,651.3 893.5,649.8 894.8,648.2 896.0,646.7 897.3,645.1 898.5,643.6 899.8,642.0 901.0,640.4 902.3,638.9 903.5,637.3 904.8,635.7 906.0,634.2 907.3,632.6 908.5,631.0 909.8,629.5 911.0,627.9 912.3,626.3 913.5,624.7 914.7,623.1 916.0,621.6 917.2,620.0 918.4,618.4 919.6,616.8 920.9,615.2 922.1,613.6 923.4,612.1 924.7,610.5 925.9,609.0 927.2,607.5 928.5,606.0 929.9,604.5 931.2,603.0 932.6,601.6 933.9,600.2 935.3,598.7 936.7,597.3 938.2,595.9 939.6,594.5 941.1,593.2 942.6,591.8 944.1,590.5 945.6,589.2 947.1,587.9 948.7,586.6 950.2,585.3 951.8,584.0 953.3,582.8 954.9,581.6 956.5,580.4 958.1,579.2 959.8,578.0 961.4,576.8 963.1,575.6 964.7,574.5 966.4,573.3 968.1,572.2 969.8,571.1 971.5,570.1 973.3,569.1 975.1,568.2 976.8,567.4 978.6,566.6 980.5,565.9 982.3,565.2 984.2,564.6 986.1,564.1 988.0,563.5 989.9,563.0 991.9,562.5 993.9,562.0 995.8,561.6 997.8,561.2 999.8,560.8 1001.8,560.6 1003.8,560.3 1005.8,560.2 1007.8,560.1 1009.7,560.1 1011.7,560.2 1013.7,560.4 1015.6,560.7 1017.6,561.1 1019.5,561.5 1021.5,562.1 1023.4,562.6 1025.3,563.2 1027.3,563.8 1029.2,564.5 1031.1,565.1 1033.0,565.7 1035.0,566.3 1036.9,567.0 1038.8,567.7 1040.8,568.4 1042.7,569.1 1044.5,569.8 1046.4,570.6 1048.2,571.4 1050.0,572.2 1051.7,573.1 1053.4,574.1 1055.0,575.1 1056.6,576.1 1058.1,577.3 1059.6,578.4 1061.1,579.7 1062.5,581.0 1064.0,582.4 1065.3,583.9 1066.7,585.4 1068.0,586.9 1069.4,588.5 1070.7,590.1 1072.0,591.7 1073.2,593.3 1074.5,594.9 1075.8,596.6 1077.0,598.2 1078.3,599.8 1079.5,601.4 1080.7,603.0 1082.0,604.5 1083.2,606.1 1084.4,607.7 1085.6,609.3 1086.8,610.9 1088.0,612.5 1089.2,614.2 1090.4,615.8 1091.5,617.4 1092.7,619.1 1093.8,620.7 1094.9,622.4 1096.0,624.1 1097.1,625.7 1098.2,627.4 1099.3,629.1 1100.3,630.8 1101.3,632.5 1102.4,634.2 1103.4,635.9 1104.4,637.7 1105.4,639.4 1106.3,641.1 1107.3,642.9 1108.3,644.6 1109.2,646.4 1110.1,648.2 1111.1,649.9 1112.0,651.7 1112.9,653.5 1113.8,655.3 1114.7,657.1 1115.6,658.9 1116.5,660.7 1117.4,662.5 1118.2,664.3 1119.1,666.1 1120.0,667.9 1120.8,669.7 1121.7,671.5 1122.6,673.3 1123.4,675.1 1124.3,676.9 1125.1,678.8 1125.9,680.6 1126.7,682.4 1127.6,684.2 1128.4,686.1 1129.2,687.9 1130.0,689.7 1130.8,691.5 1131.6,693.4 1132.4,695.2 1133.3,697.0 1134.1,698.8 1134.9,700.7 1135.8,702.5 1136.6,704.3 1137.4,706.1 1138.2,707.9 1139.1,709.8 1139.9,711.6 1140.7,713.4 1141.6,715.2 1142.4,717.0 1143.2,718.9 1144.0,720.7 1144.8,722.5 1145.6,724.3 1146.5,726.2 1147.3,728.0 1148.1,729.8 1148.9,731.7 1149.7,733.5 1150.5,735.3 1151.3,737.1 1152.1,739.0 1153.0,740.8 1153.8,742.6 1154.6,744.5 1155.4,746.3 1156.2,748.1 1157.0,749.9 1157.8,751.8 1158.6,753.6 1159.4,755.4 1160.2,757.3 1161.1,759.1 1161.9,760.9 1162.7,762.8 1163.5,764.6 1164.3,766.4 1165.1,768.3 1165.9,770.1 1166.7,771.9 1167.5,773.8 1168.3,775.6 1169.1,777.4 1169.9,779.3 1170.7,781.1 1171.5,782.9 1172.3,784.8 1173.1,786.6 1173.9,788.4 1174.7,790.3 1175.5,792.1 1176.2,793.9 1177.0,795.8 1177.8,797.6 1178.6,799.5 1179.4,801.3 1180.2,803.2 1180.9,805.0 1181.7,806.8 1182.5,808.7 1183.2,810.5 1184.0,812.4 1184.8,814.2 1185.5,816.1 1186.3,817.9 1187.1,819.8 1187.8,821.6 1188.6,823.5 1189.3,825.3 1190.1,827.2 1190.8,829.0 1191.6,830.9 1192.3,832.7 1193.1,834.6 1193.8,836.4 1194.5,838.3 1195.2,840.2 1196.0,842.0 1196.7,843.9 1197.4,845.8 1198.1,847.6 1198.8,849.5 1199.5,851.4 1200.2,853.2 1200.9,855.1 1201.6,857.0 1202.3,858.9 1203.0,860.8 1203.6,862.6 1204.3,864.5 1205.0,866.4 1205.6,868.3 1206.3,870.2 1207.0,872.1 1207.6,874.0 1208.3,875.9 1208.9,877.7 1209.6,879.6 1210.3,881.5 1210.9,883.4 1211.6,885.3 1212.2,887.2 1212.9,889.1 1213.5,891.0 1214.2,892.9 1214.8,894.8 1215.4,896.7 1216.1,898.6 1216.7,900.5 1217.4,902.4 1218.0,904.3 1218.7,906.2 1219.4,908.0 1220.0,909.9 1220.7,911.8 1221.3,913.7 1222.0,915.6 1222.6,917.5 1223.3,919.4 1224.0,921.3 1224.6,923.2 1225.3,925.0 1226.0,926.9 1226.7,928.8 1227.4,930.7 1228.1,932.6 1228.7,934.4 1229.4,936.3 1230.1,938.2 1230.8,940.0 1231.6,941.9 1232.3,943.8 1233.0,945.6 1233.7,947.5 1234.5,949.4 1235.2,951.2 1235.9,953.1 1236.7,954.9 1237.5,956.8 1238.3,958.6 1239.1,960.4 1239.9,962.3 1240.7,964.1 1241.5,965.9 1242.3,967.7 1243.2,969.5 1244.0,971.4 1244.8,973.2 1245.5,975.1 1246.3,976.9 1247.1,978.7 1247.8,980.6 1248.5,982.5 1249.3,984.3 1250.0,986.2 1250.7,988.1 1251.4,989.9 1252.1,991.8 1252.7,993.7 1253.4,995.6 1254.1,997.5 1254.8,999.3 1255.4,1001.2 1256.1,1003.1 1256.8,1005.0 1257.5,1006.9 1258.1,1008.8 1258.8,1010.7 1259.5,1012.5 1260.1,1014.4 1260.8,1016.3 1261.5,1018.2 1262.2,1020.1 1262.9,1022.0 1263.6,1023.8 1264.2,1025.7 1264.9,1027.6 1265.6,1029.5 1266.3,1031.3 1267.1,1033.2 1267.8,1035.1 1268.5,1036.9 1269.2,1038.8 1269.9,1040.7 1270.6,1042.6 1271.3,1044.4 1272.0,1046.3 1272.7,1048.2 1273.4,1050.1 1274.1,1051.9 1274.9,1053.8 1275.6,1055.6 1276.3,1057.5 1277.1,1059.4 1277.8,1061.2 1278.6,1063.1 1279.3,1064.9 1280.1,1066.8 1280.9,1068.6 1281.7,1070.4 1282.5,1072.3 1283.3,1074.1 1284.1,1075.9 1284.9,1077.7 1285.8,1079.5 1286.6,1081.4 1287.4,1083.2 1288.3,1085.0 1289.2,1086.8 1290.0,1088.6 1290.9,1090.4 1291.8,1092.2 1292.7,1094.0 1293.6,1095.8 1294.5,1097.5 1295.4,1099.3 1296.4,1101.1 1297.3,1102.9 1298.2,1104.6 1299.2,1106.4 1300.1,1108.1 1301.1,1109.9 1302.1,1111.6 1303.1,1113.4 1304.1,1115.1 1305.1,1116.8 1306.1,1118.5 1307.2,1120.3 1308.2,1122.0 1309.2,1123.7 1310.2,1125.4 1311.3,1127.1 1312.3,1128.8 1313.3,1130.5 1314.4,1132.3 1315.4,1134.0 1316.5,1135.7 1317.5,1137.4 1318.5,1139.1 1319.6,1140.8 1320.6,1142.5 1321.6,1144.2 1322.6,1146.0 1323.6,1147.7 1324.6,1149.4 1325.6,1151.2 1326.6,1152.9 1327.5,1154.7 1328.5,1156.4 1329.4,1158.2 1330.4,1160.0 1331.3,1161.7 1332.3,1163.5 1333.3,1165.2 1334.3,1167.0 1335.3,1168.7 1336.3,1170.4 1337.4,1172.1 1338.5,1173.7 1339.6,1175.4 1340.7,1177.0 1341.8,1178.7 1343.0,1180.3 1344.1,1181.8 1345.3,1183.4 1346.4,1184.8 1347.5,1186.3 1348.0,1187.0"/>
<polyline stroke="#ffff00" stroke-width="3.7" points="163.50,1187.00 165.33,1187.00 167.16,1187.00 169.00,1187.00 170.83,1187.00 172.66,1187.00 174.50,1187.00 176.33,1187.00 178.16,1187.00 179.99,1187.00 181.82,1187.00 183.66,1187.00 185.49,1187.00 187.32,1187.00 189.16,1187.00 190.99,1187.00 192.82,1187.00 194.65,1187.00 196.49,1187.00 198.32,1187.00 200.15,1187.00 201.98,1187.00 203.81,1187.00 205.65,1187.00 207.48,1187.00 209.31,1187.00 211.15,1187.00 212.98,1187.00 214.81,1187.00 216.64,1187.00 218.47,1187.00 220.31,1187.00 222.14,1187.00 223.97,1187.00 225.81,1187.00 227.64,1187.00 229.47,1187.00 231.30,1187.00 233.13,1187.00 234.97,1187.00 236.80,1187.00 238.63,1187.00 240.47,1187.00 242.30,1187.00 244.13,1187.00 245.96,1187.00 247.80,1187.00 249.63,1187.00 251.46,1187.00 253.29,1187.00 255.12,1187.00 256.96,1187.00 258.79,1187.00 260.62,1187.00 262.45,1187.00 264.29,1187.00 266.12,1186.99 267.95,1186.99 269.78,1186.99 271.62,1186.99 273.45,1186.99 275.28,1186.99 277.12,1186.99 278.95,1186.99 280.78,1186.99 282.61,1186.99 284.44,1186.99 286.28,1186.99 288.11,1186.99 289.94,1186.99 291.77,1186.98 293.61,1186.98 295.44,1186.98 297.27,1186.98 299.11,1186.98 300.94,1186.98 302.77,1186.98 304.60,1186.97 306.44,1186.97 308.27,1186.97 310.10,1186.97 311.93,1186.96 313.76,1186.96 315.60,1186.96 317.43,1186.96 319.26,1186.95 321.10,1186.95 322.93,1186.95 324.76,1186.94 326.59,1186.94 328.43,1186.93 330.26,1186.93 332.09,1186.92 333.92,1186.92 335.75,1186.91 337.59,1186.90 339.42,1186.90 341.25,1186.89 343.09,1186.88 344.92,1186.87 346.75,1186.86 348.58,1186.85 350.41,1186.84 352.25,1186.83 354.08,1186.82 355.91,1186.81 357.75,1186.80 359.58,1186.78 361.41,1186.77 363.24,1186.75 365.07,1186.74 366.91,1186.72 368.74,1186.70 370.57,1186.68 372.40,1186.66 374.24,1186.63 376.07,1186.61 377.90,1186.58 379.74,1186.56 381.57,1186.53 383.40,1186.50 385.23,1186.47 387.06,1186.43 388.90,1186.39 390.73,1186.36 392.56,1186.32 394.39,1186.27 396.23,1186.23 398.06,1186.18 399.89,1186.13 401.73,1186.08 403.56,1186.02 405.39,1185.96 407.22,1185.90 409.06,1185.83 410.89,1185.76 412.72,1185.68 414.55,1185.61 416.38,1185.52 418.22,1185.44 420.05,1185.35 421.88,1185.25 423.71,1185.15 425.55,1185.04 427.38,1184.93 429.21,1184.81 431.05,1184.69 432.88,1184.56 434.71,1184.42 436.54,1184.28 438.38,1184.13 440.21,1183.97 442.04,1183.80 443.87,1183.63 445.70,1183.45 447.54,1183.26 449.37,1183.06 451.20,1182.85 453.04,1182.63 454.87,1182.40 456.70,1182.16 458.53,1181.91 460.37,1181.64 462.20,1181.37 464.03,1181.08 465.86,1180.78 467.69,1180.47 469.53,1180.14 471.36,1179.80 473.19,1179.44 475.02,1179.07 476.86,1178.68 478.69,1178.28 480.52,1177.86 482.36,1177.42 484.19,1176.96 486.02,1176.49 487.85,1176.00 489.69,1175.48 491.52,1174.95 493.35,1174.39 495.18,1173.81 497.01,1173.21 498.85,1172.59 500.68,1171.94 502.51,1171.27 504.35,1170.58 506.18,1169.86 508.01,1169.11 509.84,1168.33 511.68,1167.53 513.51,1166.70 515.34,1165.84 517.17,1164.94 519.00,1164.02 520.84,1163.07 522.67,1162.08 524.50,1161.06 526.34,1160.01 528.17,1158.92 530.00,1157.80 531.83,1156.64 533.66,1155.45 535.50,1154.21 537.33,1152.94 539.16,1151.63 541.00,1150.28 542.83,1148.90 544.66,1147.46 546.49,1145.99 548.33,1144.48 550.16,1142.92 551.99,1141.32 553.82,1139.67 555.65,1137.98 557.49,1136.25 559.32,1134.46 561.15,1132.64 562.99,1130.76 564.82,1128.84 566.65,1126.86 568.48,1124.84 570.32,1122.78 572.15,1120.66 573.98,1118.49 575.81,1116.27 577.64,1114.00 579.48,1111.68 581.31,1109.31 583.14,1106.89 584.98,1104.41 586.81,1101.89 588.64,1099.31 590.47,1096.69 592.31,1094.01 594.14,1091.28 595.97,1088.49 597.80,1085.66 599.63,1082.78 601.47,1079.84 603.30,1076.86 605.13,1073.82 606.96,1070.74 608.80,1067.61 610.63,1064.42 612.46,1061.19 614.30,1057.92 616.13,1054.59 617.96,1051.22 619.79,1047.81 621.62,1044.35 623.46,1040.85 625.29,1037.31 627.12,1033.72 628.95,1030.10 630.79,1026.44 632.62,1022.74 634.45,1019.00 636.29,1015.23 638.12,1011.43 639.95,1007.59 641.78,1003.73 643.62,999.83 645.45,995.91 647.28,991.97 649.11,988.00 650.94,984.01 652.78,980.00 654.61,975.97 656.44,971.93 658.27,967.88 660.11,963.81 661.94,959.74 663.77,955.65 665.61,951.57 667.44,947.48 669.27,943.40 671.10,939.31 672.93,935.23 674.77,931.16 676.60,927.10 678.43,923.06 680.26,919.02 682.10,915.01 683.93,911.02 685.76,907.05 687.60,903.11 689.43,899.19 691.26,895.31 693.09,891.46 694.92,887.65 696.76,883.88 698.59,880.15 700.42,876.47 702.25,872.83 704.09,869.25 705.92,865.71 707.75,862.24 709.59,858.82 711.42,855.46 713.25,852.17 715.08,848.95 716.91,845.79 718.75,842.70 720.58,839.69 722.41,836.76 724.25,833.90 726.08,831.13 727.91,828.44 729.74,825.83 731.58,823.31 733.41,820.88 735.24,818.54 737.07,816.30 738.90,814.15 740.74,812.10 742.57,810.15 744.40,808.30 746.24,806.56 748.07,804.91 749.90,803.38 751.73,801.94 753.57,800.62 755.40,799.41 757.23,798.30 759.06,797.31 760.89,796.43 762.73,795.66 764.56,795.01 766.39,794.47 768.23,794.04 770.06,793.73 771.89,793.53 773.72,793.45 775.55,793.49 777.39,793.64 779.22,793.90 781.05,794.28 782.88,794.78 784.72,795.39 786.55,796.11 788.38,796.94 790.22,797.89 792.05,798.95 793.88,800.12 795.71,801.40 797.54,802.79 799.38,804.29 801.21,805.89 803.04,807.59 804.88,809.40 806.71,811.31 808.54,813.32 810.37,815.43 812.21,817.64 814.04,819.94 815.87,822.33 817.70,824.81 819.53,827.38 821.37,830.04 823.20,832.78 825.03,835.61 826.87,838.51 828.70,841.49 830.53,844.55 832.36,847.68 834.20,850.87 836.03,854.14 837.86,857.47 839.69,860.86 841.52,864.32 843.36,867.83 845.19,871.39 847.02,875.01 848.86,878.67 850.69,882.38 852.52,886.14 854.35,889.93 856.18,893.77 858.02,897.64 859.85,901.54 861.68,905.47 863.51,909.43 865.35,913.41 867.18,917.42 869.01,921.44 870.85,925.48 872.68,929.54 874.51,933.60 876.34,937.68 878.17,941.76 880.01,945.85 881.84,949.93 883.67,954.02 885.50,958.10 887.34,962.18 889.17,966.25 891.00,970.31 892.84,974.36 894.67,978.39 896.50,982.41 898.33,986.40 900.16,990.38 902.00,994.34 903.83,998.27 905.66,1002.17 907.50,1006.05 909.33,1009.90 911.16,1013.71 912.99,1017.50 914.83,1021.25 916.66,1024.96 918.49,1028.64 920.32,1032.28 922.15,1035.88 923.99,1039.44 925.82,1042.96 927.65,1046.43 929.49,1049.86 931.32,1053.25 933.15,1056.59 934.98,1059.89 936.82,1063.14 938.65,1066.34 940.48,1069.49 942.31,1072.59 944.14,1075.65 945.98,1078.65 947.81,1081.61 949.64,1084.51 951.48,1087.37 953.31,1090.17 955.14,1092.92 956.97,1095.62 958.80,1098.27 960.64,1100.86 962.47,1103.41 964.30,1105.90 966.13,1108.35 967.97,1110.74 969.80,1113.08 971.63,1115.37 973.47,1117.61 975.30,1119.79 977.13,1121.93 978.96,1124.02 980.79,1126.06 982.63,1128.05 984.46,1130.00 986.29,1131.89 988.12,1133.74 989.96,1135.54 991.79,1137.29 993.62,1139.00 995.46,1140.67 997.29,1142.28 999.12,1143.86 1000.95,1145.39 1002.78,1146.88 1004.62,1148.33 1006.45,1149.73 1008.28,1151.10 1010.12,1152.42 1011.95,1153.71 1013.78,1154.96 1015.61,1156.17 1017.45,1157.34 1019.28,1158.48 1021.11,1159.58 1022.94,1160.65 1024.78,1161.68 1026.61,1162.68 1028.44,1163.64 1030.27,1164.58 1032.11,1165.48 1033.94,1166.36 1035.77,1167.20 1037.60,1168.01 1039.43,1168.80 1041.27,1169.56 1043.10,1170.29 1044.93,1171.00 1046.76,1171.68 1048.60,1172.34 1050.43,1172.97 1052.26,1173.58 1054.10,1174.16 1055.93,1174.73 1057.76,1175.27 1059.59,1175.79 1061.42,1176.29 1063.26,1176.78 1065.09,1177.24 1066.92,1177.69 1068.76,1178.11 1070.59,1178.52 1072.42,1178.92 1074.25,1179.30 1076.09,1179.66 1077.92,1180.01 1079.75,1180.34 1081.58,1180.66 1083.41,1180.96 1085.25,1181.25 1087.08,1181.53 1088.91,1181.80 1090.74,1182.06 1092.58,1182.30 1094.41,1182.54 1096.24,1182.76 1098.08,1182.97 1099.91,1183.18 1101.74,1183.37 1103.57,1183.56 1105.40,1183.74 1107.24,1183.91 1109.07,1184.07 1110.90,1184.22 1112.74,1184.37 1114.57,1184.51 1116.40,1184.64 1118.23,1184.76 1120.07,1184.88 1121.90,1185.00 1123.73,1185.11 1125.56,1185.21 1127.39,1185.31 1129.23,1185.40 1131.06,1185.49 1132.89,1185.57 1134.72,1185.65 1136.56,1185.73 1138.39,1185.80 1140.22,1185.87 1142.05,1185.93 1143.89,1185.99 1145.72,1186.05 1147.55,1186.11 1149.38,1186.16 1151.22,1186.21 1153.05,1186.26 1154.88,1186.30 1156.72,1186.34 1158.55,1186.38 1160.38,1186.42 1162.21,1186.45 1164.05,1186.48 1165.88,1186.52 1167.71,1186.55 1169.54,1186.57 1171.38,1186.60 1173.21,1186.62 1175.04,1186.65 1176.87,1186.67 1178.70,1186.69 1180.54,1186.71 1182.37,1186.73 1184.20,1186.75 1186.03,1186.76 1187.87,1186.78 1189.70,1186.79 1191.53,1186.80 1193.37,1186.82 1195.20,1186.83 1197.03,1186.84 1198.86,1186.85 1200.69,1186.86 1202.53,1186.87 1204.36,1186.88 1206.19,1186.89 1208.03,1186.89 1209.86,1186.90 1211.69,1186.91 1213.52,1186.91 1215.36,1186.92 1217.19,1186.93 1219.02,1186.93 1220.85,1186.94 1222.68,1186.94 1224.52,1186.94 1226.35,1186.95 1228.18,1186.95 1230.02,1186.95 1231.85,1186.96 1233.68,1186.96 1235.51,1186.96 1237.35,1186.97 1239.18,1186.97 1241.01,1186.97 1242.84,1186.97 1244.67,1186.98 1246.51,1186.98 1248.34,1186.98 1250.17,1186.98 1252.01,1186.98 1253.84,1186.98 1255.67,1186.98 1257.50,1186.99 1259.34,1186.99 1261.17,1186.99 1263.00,1186.99 1264.83,1186.99 1266.66,1186.99 1268.50,1186.99 1270.33,1186.99 1272.16,1186.99 1273.99,1186.99 1275.83,1186.99 1277.66,1186.99 1279.49,1186.99 1281.33,1186.99 1283.16,1187.00 1284.99,1187.00 1286.82,1187.00 1288.65,1187.00 1290.49,1187.00 1292.32,1187.00 1294.15,1187.00 1295.98,1187.00 1297.82,1187.00 1299.65,1187.00 1301.48,1187.00 1303.32,1187.00 1305.15,1187.00 1306.98,1187.00 1308.81,1187.00 1310.64,1187.00 1312.48,1187.00 1314.31,1187.00 1316.14,1187.00 1317.97,1187.00 1319.81,1187.00 1321.64,1187.00 1323.47,1187.00 1325.31,1187.00 1327.14,1187.00 1328.97,1187.00 1330.80,1187.00 1332.63,1187.00 1334.47,1187.00 1336.30,1187.00 1338.13,1187.00 1339.96,1187.00 1341.80,1187.00 1343.63,1187.00 1345.46,1187.00 1347.30,1187.00 1349.13,1187.00 1350.96,1187.00 1352.79,1187.00 1354.62,1187.00 1356.46,1187.00 1358.29,1187.00 1360.12,1187.00 1361.95,1187.00 1363.79,1187.00 1365.62,1187.00 1367.45,1187.00 1369.29,1187.00 1371.12,1187.00 1372.95,1187.00 1374.78,1187.00 1376.62,1187.00 1378.45,1187.00 1380.28,1187.00 1382.11,1187.00 1383.94,1187.00 1385.78,1187.00 1387.61,1187.00 1389.44,1187.00 1391.28,1187.00 1393.11,1187.00 1394.94,1187.00 1396.77,1187.00 1398.61,1187.00 1400.44,1187.00 1402.27,1187.00 1404.10,1187.00 1405.93,1187.00 1407.77,1187.00 1409.60,1187.00 1411.43,1187.00 1413.27,1187.00 1415.10,1187.00 1416.93,1187.00 1418.76,1187.00 1420.60,1187.00 1422.43,1187.00 1424.26,1187.00 1426.09,1187.00 1427.92,1187.00 1429.76,1187.00 1431.59,1187.00 1433.42,1187.00 1435.26,1187.00 1437.09,1187.00 1438.92,1187.00 1440.75,1187.00 1442.59,1187.00 1444.42,1187.00 1446.25,1187.00 1448.08,1187.00 1449.91,1187.00 1451.75,1187.00 1453.58,1187.00 1455.41,1187.00 1457.24,1187.00 1459.08,1187.00 1460.91,1187.00 1462.74,1187.00 1464.58,1187.00 1466.41,1187.00 1468.24,1187.00 1470.07,1187.00 1471.90,1187.00 1473.74,1187.00 1475.57,1187.00 1477.40,1187.00 1479.23,1187.00 1481.07,1187.00 1482.90,1187.00 1484.73,1187.00 1486.57,1187.00 1488.40,1187.00 1490.23,1187.00 1492.06,1187.00 1493.89,1187.00 1495.73,1187.00 1497.56,1187.00 1499.39,1187.00 1501.22,1187.00 1503.06,1187.00 1504.89,1187.00 1506.72,1187.00 1508.56,1187.00 1510.39,1187.00 1512.22,1187.00 1514.05,1187.00 1515.88,1187.00 1517.72,1187.00 1519.55,1187.00 1521.38,1187.00 1523.21,1187.00 1525.05,1187.00 1526.88,1187.00 1528.71,1187.00 1530.55,1187.00 1532.38,1187.00 1534.21,1187.00 1536.04,1187.00 1537.88,1187.00 1539.71,1187.00 1541.54,1187.00 1543.37,1187.00 1545.20,1187.00 1547.04,1187.00 1548.87,1187.00 1550.70,1187.00 1552.54,1187.00 1554.37,1187.00 1556.20,1187.00 1558.03,1187.00 1559.87,1187.00 1561.70,1187.00 1563.53,1187.00 1565.36,1187.00 1567.19,1187.00 1569.03,1187.00 1570.86,1187.00 1572.69,1187.00 1574.53,1187.00 1576.36,1187.00 1578.19,1187.00 1580.02,1187.00 1581.86,1187.00 1583.69,1187.00 1585.52,1187.00 1587.35,1187.00 1589.18,1187.00 1591.02,1187.00 1592.85,1187.00 1594.68,1187.00 1596.52,1187.00 1598.35,1187.00 1600.18,1187.00 1602.01,1187.00 1603.85,1187.00 1605.68,1187.00 1607.51,1187.00 1609.34,1187.00 1611.17,1187.00 1613.01,1187.00 1614.84,1187.00 1616.67,1187.00 1618.51,1187.00 1620.34,1187.00 1622.17,1187.00 1624.00,1187.00 1625.84,1187.00 1627.67,1187.00 1629.50,1187.00"/>
<polyline stroke="#ffff00" stroke-width="3.7" points="163.50,1187.00 165.33,1187.00 167.16,1187.00 169.00,1187.00 170.83,1187.00 172.66,1187.00 174.50,1187.00 176.33,1187.00 178.16,1187.00 179.99,1187.00 181.82,1187.00 183.66,1187.00 185.49,1187.00 187.32,1187.00 189.16,1187.00 190.99,1187.00 192.82,1187.00 194.65,1187.00 196.49,1187.00 198.32,1187.00 200.15,1187.00 201.98,1187.00 203.81,1186.99 205.65,1186.99 207.48,1186.99 209.31,1186.99 211.15,1186.99 212.98,1186.99 214.81,1186.99 216.64,1186.99 218.47,1186.99 220.31,1186.99 222.14,1186.99 223.97,1186.99 225.81,1186.99 227.64,1186.99 229.47,1186.99 231.30,1186.99 233.13,1186.99 234.97,1186.99 236.80,1186.99 238.63,1186.99 240.47,1186.99 242.30,1186.98 244.13,1186.98 245.96,1186.98 247.80,1186.98 249.63,1186.98 251.46,1186.98 253.29,1186.98 255.12,1186.98 256.96,1186.98 258.79,1186.98 260.62,1186.97 262.45,1186.97 264.29,1186.97 266.12,1186.97 267.95,1186.97 269.78,1186.97 271.62,1186.97 273.45,1186.96 275.28,1186.96 277.12,1186.96 278.95,1186.96 280.78,1186.96 282.61,1186.95 284.44,1186.95 286.28,1186.95 288.11,1186.95 289.94,1186.94 291.77,1186.94 293.61,1186.94 295.44,1186.94 297.27,1186.93 299.11,1186.93 300.94,1186.93 302.77,1186.92 304.60,1186.92 306.44,1186.92 308.27,1186.91 310.10,1186.91 311.93,1186.90 313.76,1186.90 315.60,1186.89 317.43,1186.89 319.26,1186.88 321.10,1186.88 322.93,1186.87 324.76,1186.87 326.59,1186.86 328.43,1186.85 330.26,1186.85 332.09,1186.84 333.92,1186.83 335.75,1186.82 337.59,1186.82 339.42,1186.81 341.25,1186.80 343.09,1186.79 344.92,1186.78 346.75,1186.77 348.58,1186.76 350.41,1186.75 352.25,1186.74 354.08,1186.73 355.91,1186.72 357.75,1186.70 359.58,1186.69 361.41,1186.68 363.24,1186.66 365.07,1186.65 366.91,1186.63 368.74,1186.62 370.57,1186.60 372.40,1186.58 374.24,1186.56 376.07,1186.55 377.90,1186.53 379.74,1186.51 381.57,1186.48 383.40,1186.46 385.23,1186.44 387.06,1186.42 388.90,1186.39 390.73,1186.37 392.56,1186.34 394.39,1186.31 396.23,1186.28 398.06,1186.25 399.89,1186.22 401.73,1186.19 403.56,1186.16 405.39,1186.12 407.22,1186.09 409.06,1186.05 410.89,1186.01 412.72,1185.97 414.55,1185.93 416.38,1185.89 418.22,1185.84 420.05,1185.80 421.88,1185.75 423.71,1185.70 425.55,1185.65 427.38,1185.60 429.21,1185.54 431.05,1185.48 432.88,1185.42 434.71,1185.36 436.54,1185.30 438.38,1185.23 440.21,1185.17 442.04,1185.10 443.87,1185.02 445.70,1184.95 447.54,1184.87 449.37,1184.79 451.20,1184.71 453.04,1184.62 454.87,1184.53 456.70,1184.44 458.53,1184.34 460.37,1184.24 462.20,1184.14 464.03,1184.04 465.86,1183.93 467.69,1183.82 469.53,1183.70 471.36,1183.58 473.19,1183.46 475.02,1183.33 476.86,1183.20 478.69,1183.06 480.52,1182.92 482.36,1182.77 484.19,1182.63 486.02,1182.47 487.85,1182.31 489.69,1182.15 491.52,1181.98 493.35,1181.80 495.18,1181.62 497.01,1181.44 498.85,1181.24 500.68,1181.05 502.51,1180.84 504.35,1180.63 506.18,1180.42 508.01,1180.20 509.84,1179.97 511.68,1179.73 513.51,1179.49 515.34,1179.24 517.17,1178.98 519.00,1178.71 520.84,1178.44 522.67,1178.16 524.50,1177.87 526.34,1177.58 528.17,1177.27 530.00,1176.96 531.83,1176.63 533.66,1176.30 535.50,1175.96 537.33,1175.61 539.16,1175.25 541.00,1174.88 542.83,1174.50 544.66,1174.10 546.49,1173.70 548.33,1173.29 550.16,1172.87 551.99,1172.43 553.82,1171.98 555.65,1171.53 557.49,1171.05 559.32,1170.57 561.15,1170.08 562.99,1169.57 564.82,1169.05 566.65,1168.51 568.48,1167.96 570.32,1167.40 572.15,1166.82 573.98,1166.23 575.81,1165.63 577.64,1165.01 579.48,1164.37 581.31,1163.72 583.14,1163.05 584.98,1162.37 586.81,1161.67 588.64,1160.96 590.47,1160.22 592.31,1159.47 594.14,1158.70 595.97,1157.92 597.80,1157.11 599.63,1156.29 601.47,1155.45 603.30,1154.59 605.13,1153.71 606.96,1152.81 608.80,1151.89 610.63,1150.95 612.46,1149.99 614.30,1149.01 616.13,1148.00 617.96,1146.98 619.79,1145.93 621.62,1144.86 623.46,1143.77 625.29,1142.66 627.12,1141.52 628.95,1140.36 630.79,1139.17 632.62,1137.97 634.45,1136.73 636.29,1135.47 638.12,1134.19 639.95,1132.88 641.78,1131.55 643.62,1130.19 645.45,1128.80 647.28,1127.39 649.11,1125.95 650.94,1124.48 652.78,1122.99 654.61,1121.47 656.44,1119.92 658.27,1118.34 660.11,1116.73 661.94,1115.09 663.77,1113.43 665.61,1111.73 667.44,1110.01 669.27,1108.26 671.10,1106.47 672.93,1104.66 674.77,1102.81 676.60,1100.94 678.43,1099.03 680.26,1097.09 682.10,1095.12 683.93,1093.12 685.76,1091.09 687.60,1089.02 689.43,1086.92 691.26,1084.79 693.09,1082.63 694.92,1080.43 696.76,1078.21 698.59,1075.94 700.42,1073.65 702.25,1071.32 704.09,1068.96 705.92,1066.56 707.75,1064.13 709.59,1061.67 711.42,1059.17 713.25,1056.64 715.08,1054.08 716.91,1051.48 718.75,1048.85 720.58,1046.18 722.41,1043.48 724.25,1040.75 726.08,1037.98 727.91,1035.18 729.74,1032.34 731.58,1029.47 733.41,1026.57 735.24,1023.63 737.07,1020.66 738.90,1017.66 740.74,1014.62 742.57,1011.55 744.40,1008.45 746.24,1005.32 748.07,1002.15 749.90,998.95 751.73,995.71 753.57,992.45 755.40,989.15 757.23,985.83 759.06,982.47 760.89,979.08 762.73,975.66 764.56,972.21 766.39,968.73 768.23,965.22 770.06,961.68 771.89,958.12 773.72,954.52 775.55,950.90 777.39,947.25 779.22,943.58 781.05,939.87 782.88,936.15 784.72,932.39 786.55,928.62 788.38,924.81 790.22,920.99 792.05,917.14 793.88,913.27 795.71,909.38 797.54,905.46 799.38,901.53 801.21,897.58 803.04,893.60 804.88,889.61 806.71,885.60 808.54,881.58 810.37,877.54 812.21,873.48 814.04,869.41 815.87,865.32 817.70,861.23 819.53,857.12 821.37,853.00 823.20,848.87 825.03,844.73 826.87,840.58 828.70,836.42 830.53,832.26 832.36,828.09 834.20,823.91 836.03,819.74 837.86,815.56 839.69,811.37 841.52,807.19 843.36,803.01 845.19,798.83 847.02,794.65 848.86,790.47 850.69,786.30 852.52,782.14 854.35,777.98 856.18,773.82 858.02,769.68 859.85,765.55 861.68,761.43 863.51,757.31 865.35,753.22 867.18,749.13 869.01,745.07 870.85,741.02 872.68,736.98 874.51,732.97 876.34,728.97 878.17,725.00 880.01,721.05 881.84,717.12 883.67,713.22 885.50,709.34 887.34,705.49 889.17,701.67 891.00,697.88 892.84,694.11 894.67,690.38 896.50,686.68 898.33,683.02 900.16,679.39 902.00,675.80 903.83,672.24 905.66,668.72 907.50,665.25 909.33,661.81 911.16,658.41 912.99,655.06 914.83,651.75 916.66,648.49 918.49,645.27 920.32,642.10 922.15,638.98 923.99,635.90 925.82,632.88 927.65,629.91 929.49,626.99 931.32,624.12 933.15,621.31 934.98,618.56 936.82,615.86 938.65,613.21 940.48,610.63 942.31,608.10 944.14,605.64 945.98,603.23 947.81,600.88 949.64,598.60 951.48,596.38 953.31,594.23 955.14,592.14 956.97,590.11 958.80,588.15 960.64,586.26 962.47,584.43 964.30,582.68 966.13,580.99 967.97,579.37 969.80,577.82 971.63,576.34 973.47,574.94 975.30,573.60 977.13,572.33 978.96,571.14 980.79,570.02 982.63,568.98 984.46,568.01 986.29,567.11 988.12,566.28 989.96,565.54 991.79,564.86 993.62,564.26 995.46,563.74 997.29,563.29 999.12,562.92 1000.95,562.62 1002.78,562.40 1004.62,562.26 1006.45,562.19 1008.28,562.20 1010.12,562.28 1011.95,562.44 1013.78,562.67 1015.61,562.99 1017.45,563.37 1019.28,563.84 1021.11,564.38 1022.94,564.99 1024.78,565.68 1026.61,566.44 1028.44,567.28 1030.27,568.19 1032.11,569.18 1033.94,570.24 1035.77,571.38 1037.60,572.58 1039.43,573.86 1041.27,575.21 1043.10,576.63 1044.93,578.13 1046.76,579.69 1048.60,581.32 1050.43,583.02 1052.26,584.79 1054.10,586.63 1055.93,588.54 1057.76,590.51 1059.59,592.55 1061.42,594.65 1063.26,596.82 1065.09,599.05 1066.92,601.35 1068.76,603.71 1070.59,606.12 1072.42,608.60 1074.25,611.14 1076.09,613.74 1077.92,616.39 1079.75,619.10 1081.58,621.87 1083.41,624.69 1085.25,627.57 1087.08,630.50 1088.91,633.48 1090.74,636.51 1092.58,639.60 1094.41,642.73 1096.24,645.91 1098.08,649.14 1099.91,652.41 1101.74,655.73 1103.57,659.09 1105.40,662.49 1107.24,665.94 1109.07,669.42 1110.90,672.95 1112.74,676.51 1114.57,680.11 1116.40,683.75 1118.23,687.42 1120.07,691.13 1121.90,694.86 1123.73,698.63 1125.56,702.43 1127.39,706.26 1129.23,710.11 1131.06,714.00 1132.89,717.91 1134.72,721.84 1136.56,725.79 1138.39,729.77 1140.22,733.77 1142.05,737.79 1143.89,741.82 1145.72,745.88 1147.55,749.95 1149.38,754.04 1151.22,758.14 1153.05,762.25 1154.88,766.37 1156.72,770.51 1158.55,774.65 1160.38,778.81 1162.21,782.97 1164.05,787.14 1165.88,791.31 1167.71,795.48 1169.54,799.66 1171.38,803.85 1173.21,808.03 1175.04,812.21 1176.87,816.39 1178.70,820.57 1180.54,824.75 1182.37,828.92 1184.20,833.09 1186.03,837.25 1187.87,841.41 1189.70,845.55 1191.53,849.69 1193.37,853.82 1195.20,857.94 1197.03,862.05 1198.86,866.14 1200.69,870.22 1202.53,874.29 1204.36,878.35 1206.19,882.38 1208.03,886.41 1209.86,890.41 1211.69,894.40 1213.52,898.37 1215.36,902.32 1217.19,906.25 1219.02,910.16 1220.85,914.04 1222.68,917.91 1224.52,921.75 1226.35,925.58 1228.18,929.37 1230.02,933.15 1231.85,936.89 1233.68,940.62 1235.51,944.31 1237.35,947.98 1239.18,951.63 1241.01,955.24 1242.84,958.83 1244.67,962.39 1246.51,965.93 1248.34,969.43 1250.17,972.90 1252.01,976.35 1253.84,979.76 1255.67,983.14 1257.50,986.49 1259.34,989.82 1261.17,993.11 1263.00,996.36 1264.83,999.59 1266.66,1002.78 1268.50,1005.95 1270.33,1009.07 1272.16,1012.17 1273.99,1015.23 1275.83,1018.26 1277.66,1021.26 1279.49,1024.22 1281.33,1027.15 1283.16,1030.05 1284.99,1032.91 1286.82,1035.74 1288.65,1038.54 1290.49,1041.30 1292.32,1044.03 1294.15,1046.72 1295.98,1049.38 1297.82,1052.00 1299.65,1054.60 1301.48,1057.15 1303.32,1059.68 1305.15,1062.17 1306.98,1064.62 1308.81,1067.04 1310.64,1069.43 1312.48,1071.79 1314.31,1074.11 1316.14,1076.40 1317.97,1078.65 1319.81,1080.88 1321.64,1083.06 1323.47,1085.22 1325.31,1087.35 1327.14,1089.44 1328.97,1091.50 1330.80,1093.52 1332.63,1095.52 1334.47,1097.48 1336.30,1099.41 1338.13,1101.31 1339.96,1103.18 1341.80,1105.02 1343.63,1106.83 1345.46,1108.61 1347.30,1110.36 1349.13,1112.08 1350.96,1113.76 1352.79,1115.42 1354.62,1117.05 1356.46,1118.65 1358.29,1120.23 1360.12,1121.77 1361.95,1123.29 1363.79,1124.78 1365.62,1126.24 1367.45,1127.67 1369.29,1129.08 1371.12,1130.46 1372.95,1131.82 1374.78,1133.15 1376.62,1134.45 1378.45,1135.73 1380.28,1136.98 1382.11,1138.21 1383.94,1139.41 1385.78,1140.59 1387.61,1141.75 1389.44,1142.88 1391.28,1143.99 1393.11,1145.08 1394.94,1146.14 1396.77,1147.18 1398.61,1148.21 1400.44,1149.20 1402.27,1150.18 1404.10,1151.14 1405.93,1152.07 1407.77,1152.99 1409.60,1153.89 1411.43,1154.76 1413.27,1155.62 1415.10,1156.46 1416.93,1157.28 1418.76,1158.08 1420.60,1158.86 1422.43,1159.62 1424.26,1160.37 1426.09,1161.10 1427.92,1161.81 1429.76,1162.51 1431.59,1163.19 1433.42,1163.85 1435.26,1164.50 1437.09,1165.13 1438.92,1165.75 1440.75,1166.35 1442.59,1166.94 1444.42,1167.51 1446.25,1168.07 1448.08,1168.62 1449.91,1169.15 1451.75,1169.67 1453.58,1170.18 1455.41,1170.67 1457.24,1171.15 1459.08,1171.62 1460.91,1172.07 1462.74,1172.52 1464.58,1172.95 1466.41,1173.37 1468.24,1173.78 1470.07,1174.18 1471.90,1174.57 1473.74,1174.95 1475.57,1175.32 1477.40,1175.68 1479.23,1176.03 1481.07,1176.37 1482.90,1176.70 1484.73,1177.02 1486.57,1177.33 1488.40,1177.64 1490.23,1177.93 1492.06,1178.22 1493.89,1178.50 1495.73,1178.77 1497.56,1179.03 1499.39,1179.29 1501.22,1179.54 1503.06,1179.78 1504.89,1180.01 1506.72,1180.24 1508.56,1180.46 1510.39,1180.68 1512.22,1180.88 1514.05,1181.09 1515.88,1181.28 1517.72,1181.47 1519.55,1181.66 1521.38,1181.84 1523.21,1182.01 1525.05,1182.18 1526.88,1182.34 1528.71,1182.50 1530.55,1182.66 1532.38,1182.80 1534.21,1182.95 1536.04,1183.09 1537.88,1183.22 1539.71,1183.35 1541.54,1183.48 1543.37,1183.60 1545.20,1183.72 1547.04,1183.84 1548.87,1183.95 1550.70,1184.06 1552.54,1184.16 1554.37,1184.26 1556.20,1184.36 1558.03,1184.46 1559.87,1184.55 1561.70,1184.64 1563.53,1184.72 1565.36,1184.81 1567.19,1184.89 1569.03,1184.96 1570.86,1185.04 1572.69,1185.11 1574.53,1185.18 1576.36,1185.25 1578.19,1185.31 1580.02,1185.38 1581.86,1185.44 1583.69,1185.50 1585.52,1185.55 1587.35,1185.61 1589.18,1185.66 1591.02,1185.71 1592.85,1185.76 1594.68,1185.81 1596.52,1185.85 1598.35,1185.90 1600.18,1185.94 1602.01,1185.98 1603.85,1186.02 1605.68,1186.06 1607.51,1186.10 1609.34,1186.13 1611.17,1186.16 1613.01,1186.20 1614.84,1186.23 1616.67,1186.26 1618.51,1186.29 1620.34,1186.32 1622.17,1186.34 1624.00,1186.37 1625.84,1186.40 1627.67,1186.42 1629.50,1186.44"/>
<polyline stroke="#4dbeee" stroke-width="12.3" points="578.5,1187.0 579.3,1185.2 580.0,1183.3 580.8,1181.5 581.6,1179.6 582.3,1177.8 583.1,1175.9 583.8,1174.1 584.6,1172.2 585.3,1170.3 586.1,1168.5 586.8,1166.6 587.6,1164.8 588.3,1162.9 589.1,1161.1 589.8,1159.2 590.6,1157.4 591.3,1155.5 592.0,1153.6 592.8,1151.8 593.5,1149.9 594.2,1148.1 595.0,1146.2 595.7,1144.3 596.4,1142.5 597.1,1140.6 597.8,1138.7 598.6,1136.9 599.3,1135.0 600.0,1133.1 600.7,1131.3 601.4,1129.4 602.1,1127.5 602.8,1125.7 603.5,1123.8 604.2,1121.9 604.9,1120.0 605.6,1118.2 606.3,1116.3 607.0,1114.4 607.7,1112.5 608.4,1110.6 609.0,1108.7 609.7,1106.9 610.3,1105.0 611.0,1103.1 611.6,1101.2 612.3,1099.3 612.9,1097.4 613.5,1095.5 614.2,1093.6 614.8,1091.7 615.4,1089.8 616.0,1087.9 616.7,1086.0 617.3,1084.1 617.9,1082.2 618.5,1080.3 619.1,1078.4 619.8,1076.5 620.4,1074.6 621.0,1072.7 621.6,1070.8 622.3,1068.9 622.9,1067.0 623.5,1065.1 624.1,1063.2 624.7,1061.3 625.4,1059.4 626.0,1057.5 626.6,1055.5 627.2,1053.6 627.8,1051.7 628.4,1049.8 629.0,1047.9 629.6,1046.0 630.3,1044.1 630.9,1042.2 631.5,1040.3 632.2,1038.4 632.8,1036.5 633.5,1034.7 634.2,1032.8 634.8,1030.9 635.5,1029.0 636.2,1027.2 636.9,1025.3 637.6,1023.4 638.4,1021.6 639.1,1019.7 639.9,1017.9 640.6,1016.0 641.4,1014.2 642.2,1012.3 643.0,1010.5 643.8,1008.7 644.6,1006.8 645.4,1005.0 646.2,1003.2 647.0,1001.3 647.9,999.5 648.7,997.7 649.6,995.9 650.4,994.1 651.3,992.3 652.2,990.5 653.0,988.7 653.9,986.9 654.8,985.1 655.7,983.3 656.6,981.5 657.6,979.7 658.5,978.0 659.4,976.2 660.4,974.4 661.3,972.7 662.3,971.0 663.3,969.2 664.4,967.5 665.4,965.8 666.4,964.1 667.5,962.4 668.5,960.7 669.5,959.0 670.6,957.2 671.6,955.5 672.6,953.8 673.5,952.0 674.5,950.3 675.5,948.5 676.4,946.8 677.3,945.0 678.3,943.2 679.2,941.5 680.2,939.7 681.1,937.9 682.1,936.2 683.1,934.5 684.1,932.7 685.1,931.0 686.1,929.3 687.1,927.6 688.2,925.8 689.2,924.1 690.3,922.4 691.3,920.8 692.4,919.1 693.5,917.4 694.6,915.7 695.6,914.0 696.7,912.3 697.8,910.6 698.9,909.0 699.9,907.3 701.0,905.6 702.1,903.9 703.1,902.2 704.2,900.5 705.3,898.8 706.4,897.1 707.4,895.4 708.5,893.8 709.7,892.1 710.8,890.5 711.9,888.8 713.1,887.2 714.3,885.6 715.4,884.0 716.6,882.3 717.8,880.7 719.0,879.2 720.3,877.6 721.5,876.0 722.7,874.4 723.9,872.8 725.2,871.3 726.4,869.7 727.7,868.1 729.0,866.6 730.2,865.1 731.5,863.5 732.8,862.0 734.2,860.5 735.5,859.0 736.8,857.5 738.2,856.1 739.6,854.6 741.0,853.2 742.4,851.7 743.8,850.3 745.2,848.8 746.6,847.4 748.0,846.0 749.5,844.6 751.0,843.3 752.4,841.9 753.9,840.6 755.5,839.3 757.0,838.0 758.5,836.8 760.1,835.6 761.7,834.4 763.3,833.3 764.9,832.1 766.6,831.0 768.3,830.0 770.0,828.9 771.7,827.9 773.4,826.8 775.1,825.8 776.9,824.8 778.6,823.8 780.3,822.7 782.1,821.7 783.8,820.7 785.5,819.7 787.2,818.6 788.9,817.6 790.6,816.5 792.3,815.4 794.0,814.4 795.7,813.3 797.4,812.3 799.1,811.3 800.9,810.2 802.6,809.2 804.3,808.2 806.1,807.2 807.8,806.3 809.6,805.3 811.3,804.4 813.1,803.5 814.9,802.7 816.7,801.8 818.5,801.0 820.4,800.1 822.2,799.3 824.0,798.5 825.8,797.7 827.7,796.9 829.5,796.0 831.3,795.2 833.1,794.3 834.9,793.5 836.7,792.6 838.5,791.7 840.3,790.8 842.0,789.9 843.8,788.9 845.6,788.0 847.3,787.0 849.1,786.1 850.8,785.1 852.6,784.1 854.3,783.2 856.1,782.2 857.8,781.2 859.6,780.2 861.3,779.2 863.0,778.2 864.7,777.2 866.5,776.1 868.2,775.1 869.9,774.0 871.6,773.0 873.3,772.0 875.0,770.9 876.8,769.9 878.5,769.0 880.3,768.0 882.0,767.1 883.8,766.2 885.6,765.4 887.4,764.5 889.2,763.7 891.1,762.9 892.9,762.1 894.8,761.3 896.6,760.5 898.4,759.8 900.3,759.0 902.1,758.2 904.0,757.3 905.8,756.4 907.6,755.5 909.4,754.6 911.2,753.6 913.0,752.6 914.8,751.6 916.7,750.6 918.5,749.6 920.3,748.8 922.1,748.0 924.0,747.3 925.8,746.8 927.7,746.5 929.6,746.2 931.5,746.1 933.4,746.1 935.3,746.3 937.3,746.4 939.3,746.7 941.2,747.0 943.2,747.3 945.2,747.7 947.2,748.0 949.2,748.4 951.2,748.8 953.2,749.2 955.2,749.6 957.1,750.0 959.1,750.4 961.1,750.8 963.0,751.2 965.0,751.7 966.9,752.1 968.9,752.5 970.9,752.9 972.8,753.3 974.8,753.6 976.8,753.9 978.8,754.2 980.8,754.4 982.8,754.6 984.8,754.8 986.8,754.9 988.9,755.0 990.9,755.1 992.9,755.3 994.8,755.4 996.7,755.7 998.6,756.0 1000.4,756.4 1002.1,757.0 1003.8,757.8 1005.4,758.8 1007.0,759.9 1008.6,761.2 1010.2,762.5 1011.7,764.0 1013.2,765.4 1014.8,766.8 1016.3,768.2 1017.9,769.6 1019.4,770.9 1021.0,772.2 1022.5,773.5 1024.1,774.7 1025.7,776.0 1027.3,777.2 1028.8,778.5 1030.4,779.7 1031.9,781.0 1033.5,782.2 1035.0,783.5 1036.6,784.8 1038.1,786.1 1039.6,787.4 1041.0,788.8 1042.5,790.1 1043.9,791.5 1045.4,792.9 1046.8,794.3 1048.2,795.7 1049.6,797.1 1050.9,798.6 1052.3,800.1 1053.6,801.5 1055.0,803.0 1056.3,804.5 1057.7,806.0 1059.0,807.5 1060.3,809.0 1061.7,810.5 1063.0,812.0 1064.3,813.5 1065.7,815.0 1067.0,816.5 1068.4,817.9 1069.7,819.4 1071.1,820.9 1072.5,822.3 1073.8,823.8 1075.2,825.3 1076.5,826.7 1077.9,828.2 1079.3,829.7 1080.6,831.1 1082.0,832.6 1083.3,834.1 1084.7,835.6 1086.0,837.1 1087.3,838.6 1088.6,840.1 1090.0,841.6 1091.3,843.1 1092.5,844.6 1093.8,846.1 1095.1,847.7 1096.4,849.2 1097.6,850.8 1098.9,852.4 1100.1,853.9 1101.3,855.5 1102.6,857.1 1103.8,858.7 1105.0,860.2 1106.2,861.8 1107.4,863.4 1108.6,865.0 1109.8,866.6 1111.0,868.2 1112.2,869.8 1113.4,871.4 1114.6,873.1 1115.8,874.7 1117.0,876.3 1118.2,877.9 1119.3,879.5 1120.5,881.1 1121.7,882.8 1122.9,884.4 1124.0,886.0 1125.2,887.6 1126.4,889.3 1127.5,890.9 1128.7,892.5 1129.8,894.2 1131.0,895.8 1132.1,897.5 1133.2,899.1 1134.3,900.8 1135.4,902.5 1136.5,904.1 1137.6,905.8 1138.6,907.5 1139.7,909.2 1140.7,910.9 1141.8,912.6 1142.8,914.3 1143.8,916.0 1144.8,917.8 1145.8,919.5 1146.8,921.2 1147.8,923.0 1148.8,924.7 1149.7,926.5 1150.7,928.2 1151.7,930.0 1152.6,931.7 1153.6,933.5 1154.5,935.3 1155.5,937.0 1156.4,938.8 1157.3,940.6 1158.2,942.4 1159.2,944.2 1160.1,945.9 1161.0,947.7 1161.9,949.5 1162.8,951.3 1163.7,953.1 1164.5,954.9 1165.4,956.7 1166.3,958.5 1167.2,960.3 1168.0,962.1 1168.9,963.9 1169.7,965.7 1170.5,967.5 1171.4,969.3 1172.2,971.2 1173.0,973.0 1173.8,974.8 1174.6,976.7 1175.4,978.5 1176.2,980.3 1177.0,982.2 1177.8,984.0 1178.6,985.8 1179.4,987.7 1180.1,989.5 1180.9,991.4 1181.7,993.2 1182.5,995.0 1183.3,996.9 1184.1,998.7 1184.9,1000.5 1185.7,1002.4 1186.6,1004.2 1187.4,1006.0 1188.2,1007.8 1189.0,1009.7 1189.9,1011.5 1190.7,1013.3 1191.6,1015.1 1192.5,1016.9 1193.4,1018.7 1194.3,1020.5 1195.2,1022.2 1196.1,1024.0 1197.0,1025.8 1197.9,1027.6 1198.8,1029.3 1199.8,1031.1 1200.7,1032.9 1201.7,1034.6 1202.6,1036.4 1203.6,1038.1 1204.6,1039.9 1205.5,1041.6 1206.5,1043.4 1207.5,1045.1 1208.4,1046.9 1209.4,1048.6 1210.4,1050.4 1211.3,1052.2 1212.3,1053.9 1213.2,1055.7 1214.2,1057.4 1215.2,1059.2 1216.1,1060.9 1217.0,1062.7 1218.0,1064.5 1218.9,1066.2 1219.8,1068.0 1220.7,1069.8 1221.6,1071.6 1222.5,1073.4 1223.4,1075.2 1224.3,1076.9 1225.2,1078.7 1226.1,1080.5 1227.0,1082.3 1227.9,1084.1 1228.7,1085.9 1229.6,1087.7 1230.5,1089.5 1231.3,1091.3 1232.2,1093.1 1233.0,1094.9 1233.9,1096.7 1234.8,1098.6 1235.6,1100.4 1236.5,1102.2 1237.3,1104.0 1238.2,1105.8 1239.0,1107.6 1239.9,1109.4 1240.7,1111.2 1241.6,1113.0 1242.4,1114.9 1243.3,1116.7 1244.1,1118.5 1245.0,1120.3 1245.8,1122.1 1246.7,1123.9 1247.5,1125.7 1248.4,1127.5 1249.2,1129.3 1250.1,1131.1 1250.9,1133.0 1251.8,1134.8 1252.6,1136.6 1253.5,1138.4 1254.4,1140.2 1255.2,1142.0 1256.1,1143.8 1256.9,1145.6 1257.8,1147.4 1258.6,1149.2 1259.5,1151.0 1260.4,1152.8 1261.2,1154.6 1262.1,1156.4 1262.9,1158.3 1263.8,1160.1 1264.6,1161.9 1265.5,1163.7 1266.3,1165.5 1267.2,1167.3 1268.1,1169.1 1268.9,1170.9 1269.8,1172.7 1270.6,1174.5 1271.5,1176.3 1272.3,1178.1 1273.2,1179.9 1274.0,1181.7 1274.8,1183.5 1275.7,1185.2 1276.5,1187.0"/>
<polyline stroke="#00ffff" stroke-width="3.7" points="163.50,1187.00 165.33,1187.00 167.16,1187.00 169.00,1187.00 170.83,1187.00 172.66,1187.00 174.50,1187.00 176.33,1187.00 178.16,1187.00 179.99,1187.00 181.82,1187.00 183.66,1187.00 185.49,1187.00 187.32,1187.00 189.16,1187.00 190.99,1187.00 192.82,1187.00 194.65,1187.00 196.49,1187.00 198.32,1187.00 200.15,1187.00 201.98,1187.00 203.81,1187.00 205.65,1187.00 207.48,1187.00 209.31,1186.99 211.15,1186.99 212.98,1186.99 214.81,1186.99 216.64,1186.99 218.47,1186.99 220.31,1186.99 222.14,1186.99 223.97,1186.99 225.81,1186.99 227.64,1186.99 229.47,1186.99 231.30,1186.99 233.13,1186.99 234.97,1186.99 236.80,1186.98 238.63,1186.98 240.47,1186.98 242.30,1186.98 244.13,1186.98 245.96,1186.98 247.80,1186.98 249.63,1186.97 251.46,1186.97 253.29,1186.97 255.12,1186.97 256.96,1186.97 258.79,1186.96 260.62,1186.96 262.45,1186.96 264.29,1186.96 266.12,1186.95 267.95,1186.95 269.78,1186.95 271.62,1186.94 273.45,1186.94 275.28,1186.93 277.12,1186.93 278.95,1186.92 280.78,1186.92 282.61,1186.91 284.44,1186.91 286.28,1186.90 288.11,1186.90 289.94,1186.89 291.77,1186.88 293.61,1186.87 295.44,1186.87 297.27,1186.86 299.11,1186.85 300.94,1186.84 302.77,1186.83 304.60,1186.82 306.44,1186.80 308.27,1186.79 310.10,1186.78 311.93,1186.77 313.76,1186.75 315.60,1186.73 317.43,1186.72 319.26,1186.70 321.10,1186.68 322.93,1186.66 324.76,1186.64 326.59,1186.62 328.43,1186.60 330.26,1186.57 332.09,1186.55 333.92,1186.52 335.75,1186.49 337.59,1186.46 339.42,1186.43 341.25,1186.40 343.09,1186.36 344.92,1186.33 346.75,1186.29 348.58,1186.25 350.41,1186.20 352.25,1186.16 354.08,1186.11 355.91,1186.06 357.75,1186.01 359.58,1185.95 361.41,1185.90 363.24,1185.84 365.07,1185.77 366.91,1185.70 368.74,1185.63 370.57,1185.56 372.40,1185.48 374.24,1185.40 376.07,1185.32 377.90,1185.23 379.74,1185.13 381.57,1185.04 383.40,1184.93 385.23,1184.82 387.06,1184.71 388.90,1184.59 390.73,1184.47 392.56,1184.34 394.39,1184.21 396.23,1184.07 398.06,1183.92 399.89,1183.77 401.73,1183.61 403.56,1183.44 405.39,1183.26 407.22,1183.08 409.06,1182.89 410.89,1182.69 412.72,1182.49 414.55,1182.27 416.38,1182.05 418.22,1181.81 420.05,1181.57 421.88,1181.32 423.71,1181.05 425.55,1180.78 427.38,1180.49 429.21,1180.20 431.05,1179.89 432.88,1179.57 434.71,1179.23 436.54,1178.89 438.38,1178.53 440.21,1178.16 442.04,1177.77 443.87,1177.37 445.70,1176.95 447.54,1176.52 449.37,1176.07 451.20,1175.61 453.04,1175.13 454.87,1174.63 456.70,1174.12 458.53,1173.58 460.37,1173.03 462.20,1172.46 464.03,1171.87 465.86,1171.26 467.69,1170.63 469.53,1169.98 471.36,1169.30 473.19,1168.61 475.02,1167.89 476.86,1167.15 478.69,1166.39 480.52,1165.60 482.36,1164.79 484.19,1163.95 486.02,1163.09 487.85,1162.20 489.69,1161.29 491.52,1160.34 493.35,1159.37 495.18,1158.38 497.01,1157.35 498.85,1156.30 500.68,1155.21 502.51,1154.10 504.35,1152.95 506.18,1151.78 508.01,1150.57 509.84,1149.33 511.68,1148.06 513.51,1146.75 515.34,1145.42 517.17,1144.05 519.00,1142.64 520.84,1141.20 522.67,1139.73 524.50,1138.22 526.34,1136.68 528.17,1135.10 530.00,1133.48 531.83,1131.83 533.66,1130.14 535.50,1128.41 537.33,1126.65 539.16,1124.85 541.00,1123.01 542.83,1121.14 544.66,1119.23 546.49,1117.28 548.33,1115.29 550.16,1113.26 551.99,1111.20 553.82,1109.10 555.65,1106.95 557.49,1104.78 559.32,1102.56 561.15,1100.31 562.99,1098.01 564.82,1095.68 566.65,1093.32 568.48,1090.91 570.32,1088.47 572.15,1086.00 573.98,1083.49 575.81,1080.94 577.64,1078.36 579.48,1075.74 581.31,1073.09 583.14,1070.40 584.98,1067.68 586.81,1064.93 588.64,1062.15 590.47,1059.33 592.31,1056.49 594.14,1053.62 595.97,1050.71 597.80,1047.78 599.63,1044.82 601.47,1041.84 603.30,1038.83 605.13,1035.80 606.96,1032.75 608.80,1029.67 610.63,1026.57 612.46,1023.45 614.30,1020.32 616.13,1017.16 617.96,1014.00 619.79,1010.81 621.62,1007.62 623.46,1004.41 625.29,1001.19 627.12,997.96 628.95,994.73 630.79,991.49 632.62,988.25 634.45,985.00 636.29,981.75 638.12,978.51 639.95,975.26 641.78,972.02 643.62,968.79 645.45,965.56 647.28,962.34 649.11,959.13 650.94,955.94 652.78,952.76 654.61,949.60 656.44,946.45 658.27,943.33 660.11,940.22 661.94,937.15 663.77,934.09 665.61,931.07 667.44,928.07 669.27,925.11 671.10,922.18 672.93,919.28 674.77,916.42 676.60,913.60 678.43,910.82 680.26,908.08 682.10,905.39 683.93,902.74 685.76,900.14 687.60,897.59 689.43,895.09 691.26,892.65 693.09,890.26 694.92,887.92 696.76,885.65 698.59,883.43 700.42,881.28 702.25,879.18 704.09,877.15 705.92,875.19 707.75,873.30 709.59,871.47 711.42,869.71 713.25,868.03 715.08,866.41 716.91,864.87 718.75,863.41 720.58,862.02 722.41,860.71 724.25,859.47 726.08,858.31 727.91,857.24 729.74,856.24 731.58,855.33 733.41,854.49 735.24,853.74 737.07,853.07 738.90,852.49 740.74,851.99 742.57,851.57 744.40,851.24 746.24,850.99 748.07,850.83 749.90,850.75 751.73,850.76 753.57,850.86 755.40,851.03 757.23,851.30 759.06,851.65 760.89,852.08 762.73,852.60 764.56,853.20 766.39,853.88 768.23,854.65 770.06,855.50 771.89,856.43 773.72,857.45 775.55,858.54 777.39,859.71 779.22,860.96 781.05,862.29 782.88,863.70 784.72,865.18 786.55,866.73 788.38,868.36 790.22,870.06 792.05,871.83 793.88,873.67 795.71,875.58 797.54,877.56 799.38,879.60 801.21,881.70 803.04,883.87 804.88,886.10 806.71,888.39 808.54,890.73 810.37,893.13 812.21,895.59 814.04,898.10 815.87,900.66 817.70,903.27 819.53,905.92 821.37,908.63 823.20,911.37 825.03,914.16 826.87,916.99 828.70,919.86 830.53,922.76 832.36,925.70 834.20,928.67 836.03,931.67 837.86,934.70 839.69,937.76 841.52,940.84 843.36,943.95 845.19,947.08 847.02,950.23 848.86,953.39 850.69,956.58 852.52,959.77 854.35,962.98 856.18,966.20 858.02,969.43 859.85,972.67 861.68,975.91 863.51,979.16 865.35,982.40 867.18,985.65 869.01,988.90 870.85,992.14 872.68,995.38 874.51,998.61 876.34,1001.84 878.17,1005.05 880.01,1008.26 881.84,1011.45 883.67,1014.63 885.50,1017.80 887.34,1020.95 889.17,1024.08 891.00,1027.19 892.84,1030.29 894.67,1033.36 896.50,1036.41 898.33,1039.44 900.16,1042.44 902.00,1045.42 903.83,1048.37 905.66,1051.30 907.50,1054.19 909.33,1057.06 911.16,1059.90 912.99,1062.71 914.83,1065.48 916.66,1068.23 918.49,1070.94 920.32,1073.62 922.15,1076.26 923.99,1078.87 925.82,1081.45 927.65,1083.99 929.49,1086.50 931.32,1088.97 933.15,1091.40 934.98,1093.79 936.82,1096.15 938.65,1098.48 940.48,1100.76 942.31,1103.01 944.14,1105.21 945.98,1107.39 947.81,1109.52 949.64,1111.61 951.48,1113.67 953.31,1115.69 955.14,1117.67 956.97,1119.61 958.80,1121.52 960.64,1123.39 962.47,1125.22 964.30,1127.01 966.13,1128.76 967.97,1130.48 969.80,1132.16 971.63,1133.81 973.47,1135.42 975.30,1136.99 977.13,1138.52 978.96,1140.03 980.79,1141.49 982.63,1142.93 984.46,1144.32 986.29,1145.69 988.12,1147.02 989.96,1148.31 991.79,1149.58 993.62,1150.81 995.46,1152.01 997.29,1153.18 999.12,1154.32 1000.95,1155.43 1002.78,1156.51 1004.62,1157.56 1006.45,1158.58 1008.28,1159.57 1010.12,1160.53 1011.95,1161.47 1013.78,1162.38 1015.61,1163.26 1017.45,1164.12 1019.28,1164.95 1021.11,1165.76 1022.94,1166.54 1024.78,1167.30 1026.61,1168.04 1028.44,1168.75 1030.27,1169.44 1032.11,1170.11 1033.94,1170.76 1035.77,1171.38 1037.60,1171.99 1039.43,1172.58 1041.27,1173.14 1043.10,1173.69 1044.93,1174.22 1046.76,1174.73 1048.60,1175.23 1050.43,1175.70 1052.26,1176.16 1054.10,1176.61 1055.93,1177.04 1057.76,1177.45 1059.59,1177.85 1061.42,1178.23 1063.26,1178.60 1065.09,1178.96 1066.92,1179.30 1068.76,1179.63 1070.59,1179.95 1072.42,1180.26 1074.25,1180.55 1076.09,1180.83 1077.92,1181.11 1079.75,1181.37 1081.58,1181.62 1083.41,1181.86 1085.25,1182.09 1087.08,1182.32 1088.91,1182.53 1090.74,1182.73 1092.58,1182.93 1094.41,1183.12 1096.24,1183.30 1098.08,1183.47 1099.91,1183.64 1101.74,1183.80 1103.57,1183.95 1105.40,1184.10 1107.24,1184.24 1109.07,1184.37 1110.90,1184.50 1112.74,1184.62 1114.57,1184.74 1116.40,1184.85 1118.23,1184.95 1120.07,1185.06 1121.90,1185.15 1123.73,1185.25 1125.56,1185.33 1127.39,1185.42 1129.23,1185.50 1131.06,1185.58 1132.89,1185.65 1134.72,1185.72 1136.56,1185.78 1138.39,1185.85 1140.22,1185.91 1142.05,1185.97 1143.89,1186.02 1145.72,1186.07 1147.55,1186.12 1149.38,1186.17 1151.22,1186.21 1153.05,1186.26 1154.88,1186.30 1156.72,1186.33 1158.55,1186.37 1160.38,1186.41 1162.21,1186.44 1164.05,1186.47 1165.88,1186.50 1167.71,1186.53 1169.54,1186.55 1171.38,1186.58 1173.21,1186.60 1175.04,1186.63 1176.87,1186.65 1178.70,1186.67 1180.54,1186.69 1182.37,1186.70 1184.20,1186.72 1186.03,1186.74 1187.87,1186.75 1189.70,1186.77 1191.53,1186.78 1193.37,1186.79 1195.20,1186.81 1197.03,1186.82 1198.86,1186.83 1200.69,1186.84 1202.53,1186.85 1204.36,1186.86 1206.19,1186.87 1208.03,1186.88 1209.86,1186.88 1211.69,1186.89 1213.52,1186.90 1215.36,1186.90 1217.19,1186.91 1219.02,1186.91 1220.85,1186.92 1222.68,1186.93 1224.52,1186.93 1226.35,1186.93 1228.18,1186.94 1230.02,1186.94 1231.85,1186.95 1233.68,1186.95 1235.51,1186.95 1237.35,1186.96 1239.18,1186.96 1241.01,1186.96 1242.84,1186.96 1244.67,1186.97 1246.51,1186.97 1248.34,1186.97 1250.17,1186.97 1252.01,1186.97 1253.84,1186.98 1255.67,1186.98 1257.50,1186.98 1259.34,1186.98 1261.17,1186.98 1263.00,1186.98 1264.83,1186.98 1266.66,1186.99 1268.50,1186.99 1270.33,1186.99 1272.16,1186.99 1273.99,1186.99 1275.83,1186.99 1277.66,1186.99 1279.49,1186.99 1281.33,1186.99 1283.16,1186.99 1284.99,1186.99 1286.82,1186.99 1288.65,1186.99 1290.49,1186.99 1292.32,1186.99 1294.15,1187.00 1295.98,1187.00 1297.82,1187.00 1299.65,1187.00 1301.48,1187.00 1303.32,1187.00 1305.15,1187.00 1306.98,1187.00 1308.81,1187.00 1310.64,1187.00 1312.48,1187.00 1314.31,1187.00 1316.14,1187.00 1317.97,1187.00 1319.81,1187.00 1321.64,1187.00 1323.47,1187.00 1325.31,1187.00 1327.14,1187.00 1328.97,1187.00 1330.80,1187.00 1332.63,1187.00 1334.47,1187.00 1336.30,1187.00 1338.13,1187.00 1339.96,1187.00 1341.80,1187.00 1343.63,1187.00 1345.46,1187.00 1347.30,1187.00 1349.13,1187.00 1350.96,1187.00 1352.79,1187.00 1354.62,1187.00 1356.46,1187.00 1358.29,1187.00 1360.12,1187.00 1361.95,1187.00 1363.79,1187.00 1365.62,1187.00 1367.45,1187.00 1369.29,1187.00 1371.12,1187.00 1372.95,1187.00 1374.78,1187.00 1376.62,1187.00 1378.45,1187.00 1380.28,1187.00 1382.11,1187.00 1383.94,1187.00 1385.78,1187.00 1387.61,1187.00 1389.44,1187.00 1391.28,1187.00 1393.11,1187.00 1394.94,1187.00 1396.77,1187.00 1398.61,1187.00 1400.44,1187.00 1402.27,1187.00 1404.10,1187.00 1405.93,1187.00 1407.77,1187.00 1409.60,1187.00 1411.43,1187.00 1413.27,1187.00 1415.10,1187.00 1416.93,1187.00 1418.76,1187.00 1420.60,1187.00 1422.43,1187.00 1424.26,1187.00 1426.09,1187.00 1427.92,1187.00 1429.76,1187.00 1431.59,1187.00 1433.42,1187.00 1435.26,1187.00 1437.09,1187.00 1438.92,1187.00 1440.75,1187.00 1442.59,1187.00 1444.42,1187.00 1446.25,1187.00 1448.08,1187.00 1449.91,1187.00 1451.75,1187.00 1453.58,1187.00 1455.41,1187.00 1457.24,1187.00 1459.08,1187.00 1460.91,1187.00 1462.74,1187.00 1464.58,1187.00 1466.41,1187.00 1468.24,1187.00 1470.07,1187.00 1471.90,1187.00 1473.74,1187.00 1475.57,1187.00 1477.40,1187.00 1479.23,1187.00 1481.07,1187.00 1482.90,1187.00 1484.73,1187.00 1486.57,1187.00 1488.40,1187.00 1490.23,1187.00 1492.06,1187.00 1493.89,1187.00 1495.73,1187.00 1497.56,1187.00 1499.39,1187.00 1501.22,1187.00 1503.06,1187.00 1504.89,1187.00 1506.72,1187.00 1508.56,1187.00 1510.39,1187.00 1512.22,1187.00 1514.05,1187.00 1515.88,1187.00 1517.72,1187.00 1519.55,1187.00 1521.38,1187.00 1523.21,1187.00 1525.05,1187.00 1526.88,1187.00 1528.71,1187.00 1530.55,1187.00 1532.38,1187.00 1534.21,1187.00 1536.04,1187.00 1537.88,1187.00 1539.71,1187.00 1541.54,1187.00 1543.37,1187.00 1545.20,1187.00 1547.04,1187.00 1548.87,1187.00 1550.70,1187.00 1552.54,1187.00 1554.37,1187.00 1556.20,1187.00 1558.03,1187.00 1559.87,1187.00 1561.70,1187.00 1563.53,1187.00 1565.36,1187.00 1567.19,1187.00 1569.03,1187.00 1570.86,1187.00 1572.69,1187.00 1574.53,1187.00 1576.36,1187.00 1578.19,1187.00 1580.02,1187.00 1581.86,1187.00 1583.69,1187.00 1585.52,1187.00 1587.35,1187.00 1589.18,1187.00 1591.02,1187.00 1592.85,1187.00 1594.68,1187.00 1596.52,1187.00 1598.35,1187.00 1600.18,1187.00 1602.01,1187.00 1603.85,1187.00 1605.68,1187.00 1607.51,1187.00 1609.34,1187.00 1611.17,1187.00 1613.01,1187.00 1614.84,1187.00 1616.67,1187.00 1618.51,1187.00 1620.34,1187.00 1622.17,1187.00 1624.00,1187.00 1625.84,1187.00 1627.67,1187.00 1629.50,1187.00"/>
<polyline stroke="#00ffff" stroke-width="3.7" points="163.50,1187.00 165.33,1187.00 167.16,1187.00 169.00,1187.00 170.83,1187.00 172.66,1187.00 174.50,1187.00 176.33,1187.00 178.16,1187.00 179.99,1187.00 181.82,1187.00 183.66,1187.00 185.49,1187.00 187.32,1187.00 189.16,1187.00 190.99,1187.00 192.82,1187.00 194.65,1187.00 196.49,1187.00 198.32,1187.00 200.15,1187.00 201.98,1187.00 203.81,1187.00 205.65,1187.00 207.48,1187.00 209.31,1187.00 211.15,1187.00 212.98,1187.00 214.81,1187.00 216.64,1187.00 218.47,1187.00 220.31,1187.00 222.14,1187.00 223.97,1187.00 225.81,1187.00 227.64,1187.00 229.47,1187.00 231.30,1187.00 233.13,1187.00 234.97,1187.00 236.80,1187.00 238.63,1187.00 240.47,1187.00 242.30,1187.00 244.13,1187.00 245.96,1187.00 247.80,1187.00 249.63,1187.00 251.46,1187.00 253.29,1187.00 255.12,1187.00 256.96,1187.00 258.79,1187.00 260.62,1187.00 262.45,1187.00 264.29,1187.00 266.12,1187.00 267.95,1187.00 269.78,1187.00 271.62,1187.00 273.45,1187.00 275.28,1187.00 277.12,1187.00 278.95,1187.00 280.78,1187.00 282.61,1187.00 284.44,1187.00 286.28,1187.00 288.11,1187.00 289.94,1187.00 291.77,1187.00 293.61,1187.00 295.44,1187.00 297.27,1187.00 299.11,1187.00 300.94,1187.00 302.77,1187.00 304.60,1187.00 306.44,1187.00 308.27,1187.00 310.10,1187.00 311.93,1187.00 313.76,1187.00 315.60,1187.00 317.43,1187.00 319.26,1187.00 321.10,1187.00 322.93,1187.00 324.76,1187.00 326.59,1187.00 328.43,1187.00 330.26,1187.00 332.09,1187.00 333.92,1187.00 335.75,1187.00 337.59,1187.00 339.42,1186.99 341.25,1186.99 343.09,1186.99 344.92,1186.99 346.75,1186.99 348.58,1186.99 350.41,1186.99 352.25,1186.99 354.08,1186.99 355.91,1186.99 357.75,1186.99 359.58,1186.99 361.41,1186.99 363.24,1186.99 365.07,1186.99 366.91,1186.99 368.74,1186.99 370.57,1186.99 372.40,1186.98 374.24,1186.98 376.07,1186.98 377.90,1186.98 379.74,1186.98 381.57,1186.98 383.40,1186.98 385.23,1186.98 387.06,1186.98 388.90,1186.97 390.73,1186.97 392.56,1186.97 394.39,1186.97 396.23,1186.97 398.06,1186.97 399.89,1186.96 401.73,1186.96 403.56,1186.96 405.39,1186.96 407.22,1186.95 409.06,1186.95 410.89,1186.95 412.72,1186.95 414.55,1186.94 416.38,1186.94 418.22,1186.94 420.05,1186.93 421.88,1186.93 423.71,1186.93 425.55,1186.92 427.38,1186.92 429.21,1186.91 431.05,1186.91 432.88,1186.90 434.71,1186.90 436.54,1186.89 438.38,1186.88 440.21,1186.88 442.04,1186.87 443.87,1186.86 445.70,1186.86 447.54,1186.85 449.37,1186.84 451.20,1186.83 453.04,1186.82 454.87,1186.82 456.70,1186.81 458.53,1186.80 460.37,1186.78 462.20,1186.77 464.03,1186.76 465.86,1186.75 467.69,1186.74 469.53,1186.72 471.36,1186.71 473.19,1186.69 475.02,1186.68 476.86,1186.66 478.69,1186.64 480.52,1186.63 482.36,1186.61 484.19,1186.59 486.02,1186.57 487.85,1186.55 489.69,1186.52 491.52,1186.50 493.35,1186.48 495.18,1186.45 497.01,1186.42 498.85,1186.39 500.68,1186.37 502.51,1186.33 504.35,1186.30 506.18,1186.27 508.01,1186.23 509.84,1186.20 511.68,1186.16 513.51,1186.12 515.34,1186.08 517.17,1186.04 519.00,1185.99 520.84,1185.94 522.67,1185.90 524.50,1185.84 526.34,1185.79 528.17,1185.74 530.00,1185.68 531.83,1185.62 533.66,1185.56 535.50,1185.49 537.33,1185.42 539.16,1185.35 541.00,1185.28 542.83,1185.20 544.66,1185.12 546.49,1185.04 548.33,1184.95 550.16,1184.87 551.99,1184.77 553.82,1184.68 555.65,1184.58 557.49,1184.47 559.32,1184.36 561.15,1184.25 562.99,1184.14 564.82,1184.01 566.65,1183.89 568.48,1183.76 570.32,1183.62 572.15,1183.48 573.98,1183.34 575.81,1183.19 577.64,1183.03 579.48,1182.87 581.31,1182.70 583.14,1182.53 584.98,1182.35 586.81,1182.16 588.64,1181.97 590.47,1181.77 592.31,1181.56 594.14,1181.35 595.97,1181.13 597.80,1180.90 599.63,1180.66 601.47,1180.42 603.30,1180.16 605.13,1179.90 606.96,1179.63 608.80,1179.35 610.63,1179.06 612.46,1178.76 614.30,1178.46 616.13,1178.14 617.96,1177.81 619.79,1177.47 621.62,1177.12 623.46,1176.76 625.29,1176.39 627.12,1176.00 628.95,1175.61 630.79,1175.20 632.62,1174.78 634.45,1174.35 636.29,1173.90 638.12,1173.44 639.95,1172.97 641.78,1172.48 643.62,1171.98 645.45,1171.46 647.28,1170.93 649.11,1170.39 650.94,1169.82 652.78,1169.24 654.61,1168.65 656.44,1168.04 658.27,1167.41 660.11,1166.76 661.94,1166.10 663.77,1165.42 665.61,1164.72 667.44,1164.00 669.27,1163.26 671.10,1162.51 672.93,1161.73 674.77,1160.93 676.60,1160.11 678.43,1159.28 680.26,1158.42 682.10,1157.53 683.93,1156.63 685.76,1155.70 687.60,1154.76 689.43,1153.78 691.26,1152.79 693.09,1151.77 694.92,1150.73 696.76,1149.66 698.59,1148.57 700.42,1147.45 702.25,1146.31 704.09,1145.14 705.92,1143.94 707.75,1142.72 709.59,1141.47 711.42,1140.20 713.25,1138.89 715.08,1137.56 716.91,1136.20 718.75,1134.82 720.58,1133.40 722.41,1131.96 724.25,1130.48 726.08,1128.98 727.91,1127.44 729.74,1125.88 731.58,1124.28 733.41,1122.66 735.24,1121.00 737.07,1119.32 738.90,1117.60 740.74,1115.85 742.57,1114.07 744.40,1112.26 746.24,1110.41 748.07,1108.54 749.90,1106.63 751.73,1104.69 753.57,1102.71 755.40,1100.71 757.23,1098.67 759.06,1096.60 760.89,1094.49 762.73,1092.35 764.56,1090.18 766.39,1087.98 768.23,1085.75 770.06,1083.48 771.89,1081.18 773.72,1078.84 775.55,1076.48 777.39,1074.08 779.22,1071.65 781.05,1069.19 782.88,1066.69 784.72,1064.17 786.55,1061.61 788.38,1059.02 790.22,1056.40 792.05,1053.75 793.88,1051.07 795.71,1048.36 797.54,1045.61 799.38,1042.84 801.21,1040.04 803.04,1037.21 804.88,1034.36 806.71,1031.47 808.54,1028.56 810.37,1025.62 812.21,1022.65 814.04,1019.66 815.87,1016.64 817.70,1013.60 819.53,1010.54 821.37,1007.45 823.20,1004.33 825.03,1001.20 826.87,998.04 828.70,994.87 830.53,991.67 832.36,988.46 834.20,985.22 836.03,981.97 837.86,978.70 839.69,975.42 841.52,972.12 843.36,968.81 845.19,965.48 847.02,962.15 848.86,958.80 850.69,955.44 852.52,952.07 854.35,948.69 856.18,945.31 858.02,941.92 859.85,938.52 861.68,935.12 863.51,931.72 865.35,928.32 867.18,924.92 869.01,921.51 870.85,918.11 872.68,914.71 874.51,911.32 876.34,907.93 878.17,904.55 880.01,901.18 881.84,897.81 883.67,894.46 885.50,891.12 887.34,887.79 889.17,884.47 891.00,881.18 892.84,877.89 894.67,874.63 896.50,871.39 898.33,868.16 900.16,864.96 902.00,861.79 903.83,858.63 905.66,855.51 907.50,852.41 909.33,849.34 911.16,846.30 912.99,843.29 914.83,840.32 916.66,837.38 918.49,834.47 920.32,831.61 922.15,828.78 923.99,825.98 925.82,823.23 927.65,820.53 929.49,817.86 931.32,815.24 933.15,812.66 934.98,810.13 936.82,807.65 938.65,805.22 940.48,802.84 942.31,800.51 944.14,798.23 945.98,796.01 947.81,793.84 949.64,791.72 951.48,789.67 953.31,787.67 955.14,785.73 956.97,783.85 958.80,782.02 960.64,780.27 962.47,778.57 964.30,776.93 966.13,775.37 967.97,773.86 969.80,772.42 971.63,771.05 973.47,769.74 975.30,768.50 977.13,767.33 978.96,766.23 980.79,765.20 982.63,764.24 984.46,763.35 986.29,762.52 988.12,761.77 989.96,761.10 991.79,760.49 993.62,759.96 995.46,759.50 997.29,759.11 999.12,758.79 1000.95,758.55 1002.78,758.38 1004.62,758.29 1006.45,758.26 1008.28,758.31 1010.12,758.44 1011.95,758.64 1013.78,758.91 1015.61,759.25 1017.45,759.67 1019.28,760.16 1021.11,760.72 1022.94,761.36 1024.78,762.07 1026.61,762.84 1028.44,763.69 1030.27,764.61 1032.11,765.60 1033.94,766.66 1035.77,767.79 1037.60,768.99 1039.43,770.26 1041.27,771.59 1043.10,772.99 1044.93,774.45 1046.76,775.99 1048.60,777.58 1050.43,779.24 1052.26,780.96 1054.10,782.75 1055.93,784.59 1057.76,786.50 1059.59,788.46 1061.42,790.48 1063.26,792.56 1065.09,794.70 1066.92,796.89 1068.76,799.14 1070.59,801.44 1072.42,803.79 1074.25,806.19 1076.09,808.64 1077.92,811.14 1079.75,813.69 1081.58,816.28 1083.41,818.92 1085.25,821.60 1087.08,824.33 1088.91,827.10 1090.74,829.90 1092.58,832.75 1094.41,835.63 1096.24,838.55 1098.08,841.51 1099.91,844.49 1101.74,847.51 1103.57,850.57 1105.40,853.65 1107.24,856.76 1109.07,859.89 1110.90,863.05 1112.74,866.24 1114.57,869.45 1116.40,872.68 1118.23,875.93 1120.07,879.20 1121.90,882.49 1123.73,885.80 1125.56,889.12 1127.39,892.45 1129.23,895.80 1131.06,899.16 1132.89,902.52 1134.72,905.90 1136.56,909.29 1138.39,912.68 1140.22,916.07 1142.05,919.47 1143.89,922.87 1145.72,926.28 1147.55,929.68 1149.38,933.08 1151.22,936.48 1153.05,939.88 1154.88,943.27 1156.72,946.66 1158.55,950.04 1160.38,953.42 1162.21,956.78 1164.05,960.14 1165.88,963.48 1167.71,966.81 1169.54,970.14 1171.38,973.44 1173.21,976.74 1175.04,980.01 1176.87,983.27 1178.70,986.52 1180.54,989.75 1182.37,992.95 1184.20,996.14 1186.03,999.31 1187.87,1002.46 1189.70,1005.58 1191.53,1008.68 1193.37,1011.76 1195.20,1014.82 1197.03,1017.85 1198.86,1020.86 1200.69,1023.84 1202.53,1026.80 1204.36,1029.73 1206.19,1032.63 1208.03,1035.50 1209.86,1038.35 1211.69,1041.17 1213.52,1043.95 1215.36,1046.71 1217.19,1049.44 1219.02,1052.14 1220.85,1054.81 1222.68,1057.45 1224.52,1060.06 1226.35,1062.64 1228.18,1065.18 1230.02,1067.69 1231.85,1070.18 1233.68,1072.63 1235.51,1075.04 1237.35,1077.43 1239.18,1079.78 1241.01,1082.10 1242.84,1084.39 1244.67,1086.64 1246.51,1088.87 1248.34,1091.06 1250.17,1093.21 1252.01,1095.34 1253.84,1097.43 1255.67,1099.49 1257.50,1101.51 1259.34,1103.51 1261.17,1105.47 1263.00,1107.39 1264.83,1109.29 1266.66,1111.15 1268.50,1112.99 1270.33,1114.79 1272.16,1116.55 1273.99,1118.29 1275.83,1120.00 1277.66,1121.67 1279.49,1123.31 1281.33,1124.93 1283.16,1126.51 1284.99,1128.06 1286.82,1129.58 1288.65,1131.07 1290.49,1132.54 1292.32,1133.97 1294.15,1135.38 1295.98,1136.75 1297.82,1138.10 1299.65,1139.42 1301.48,1140.71 1303.32,1141.98 1305.15,1143.21 1306.98,1144.42 1308.81,1145.61 1310.64,1146.77 1312.48,1147.90 1314.31,1149.01 1316.14,1150.09 1317.97,1151.15 1319.81,1152.18 1321.64,1153.19 1323.47,1154.18 1325.31,1155.14 1327.14,1156.08 1328.97,1156.99 1330.80,1157.89 1332.63,1158.76 1334.47,1159.61 1336.30,1160.44 1338.13,1161.25 1339.96,1162.04 1341.80,1162.81 1343.63,1163.56 1345.46,1164.29 1347.30,1165.00 1349.13,1165.69 1350.96,1166.37 1352.79,1167.03 1354.62,1167.66 1356.46,1168.29 1358.29,1168.89 1360.12,1169.48 1361.95,1170.05 1363.79,1170.61 1365.62,1171.15 1367.45,1171.67 1369.29,1172.18 1371.12,1172.68 1372.95,1173.16 1374.78,1173.63 1376.62,1174.08 1378.45,1174.52 1380.28,1174.95 1382.11,1175.37 1383.94,1175.77 1385.78,1176.16 1387.61,1176.54 1389.44,1176.91 1391.28,1177.26 1393.11,1177.61 1394.94,1177.94 1396.77,1178.27 1398.61,1178.58 1400.44,1178.88 1402.27,1179.18 1404.10,1179.46 1405.93,1179.74 1407.77,1180.01 1409.60,1180.27 1411.43,1180.51 1413.27,1180.76 1415.10,1180.99 1416.93,1181.22 1418.76,1181.43 1420.60,1181.65 1422.43,1181.85 1424.26,1182.05 1426.09,1182.24 1427.92,1182.42 1429.76,1182.60 1431.59,1182.77 1433.42,1182.94 1435.26,1183.09 1437.09,1183.25 1438.92,1183.40 1440.75,1183.54 1442.59,1183.68 1444.42,1183.81 1446.25,1183.94 1448.08,1184.06 1449.91,1184.18 1451.75,1184.30 1453.58,1184.41 1455.41,1184.51 1457.24,1184.62 1459.08,1184.72 1460.91,1184.81 1462.74,1184.90 1464.58,1184.99 1466.41,1185.07 1468.24,1185.16 1470.07,1185.23 1471.90,1185.31 1473.74,1185.38 1475.57,1185.45 1477.40,1185.52 1479.23,1185.58 1481.07,1185.64 1482.90,1185.70 1484.73,1185.76 1486.57,1185.81 1488.40,1185.86 1490.23,1185.92 1492.06,1185.96 1493.89,1186.01 1495.73,1186.05 1497.56,1186.10 1499.39,1186.14 1501.22,1186.18 1503.06,1186.21 1504.89,1186.25 1506.72,1186.28 1508.56,1186.32 1510.39,1186.35 1512.22,1186.38 1514.05,1186.41 1515.88,1186.43 1517.72,1186.46 1519.55,1186.49 1521.38,1186.51 1523.21,1186.53 1525.05,1186.55 1526.88,1186.58 1528.71,1186.60 1530.55,1186.62 1532.38,1186.63 1534.21,1186.65 1536.04,1186.67 1537.88,1186.68 1539.71,1186.70 1541.54,1186.71 1543.37,1186.73 1545.20,1186.74 1547.04,1186.75 1548.87,1186.77 1550.70,1186.78 1552.54,1186.79 1554.37,1186.80 1556.20,1186.81 1558.03,1186.82 1559.87,1186.83 1561.70,1186.84 1563.53,1186.85 1565.36,1186.85 1567.19,1186.86 1569.03,1186.87 1570.86,1186.87 1572.69,1186.88 1574.53,1186.89 1576.36,1186.89 1578.19,1186.90 1580.02,1186.90 1581.86,1186.91 1583.69,1186.91 1585.52,1186.92 1587.35,1186.92 1589.18,1186.93 1591.02,1186.93 1592.85,1186.93 1594.68,1186.94 1596.52,1186.94 1598.35,1186.94 1600.18,1186.95 1602.01,1186.95 1603.85,1186.95 1605.68,1186.96 1607.51,1186.96 1609.34,1186.96 1611.17,1186.96 1613.01,1186.96 1614.84,1186.97 1616.67,1186.97 1618.51,1186.97 1620.34,1186.97 1622.17,1186.97 1624.00,1186.97 1625.84,1186.98 1627.67,1186.98 1629.50,1186.98"/>
<polyline stroke="#00ff00" stroke-width="12.3" points="547.0,1187.0 547.7,1185.1 548.4,1183.3 549.2,1181.4 549.9,1179.5 550.6,1177.7 551.3,1175.8 552.1,1173.9 552.8,1172.1 553.5,1170.2 554.2,1168.4 555.0,1166.5 555.7,1164.6 556.5,1162.8 557.2,1160.9 557.9,1159.1 558.7,1157.2 559.4,1155.4 560.2,1153.5 560.9,1151.6 561.7,1149.8 562.4,1147.9 563.2,1146.1 564.0,1144.2 564.7,1142.4 565.5,1140.5 566.2,1138.7 567.0,1136.8 567.8,1135.0 568.5,1133.2 569.3,1131.3 570.1,1129.5 570.9,1127.6 571.6,1125.8 572.4,1123.9 573.2,1122.1 574.0,1120.3 574.8,1118.4 575.6,1116.6 576.4,1114.7 577.2,1112.9 578.0,1111.1 578.8,1109.3 579.6,1107.4 580.4,1105.6 581.2,1103.8 582.0,1101.9 582.8,1100.1 583.6,1098.3 584.5,1096.4 585.3,1094.6 586.1,1092.8 586.9,1090.9 587.8,1089.1 588.6,1087.3 589.4,1085.5 590.3,1083.7 591.2,1081.9 592.0,1080.1 592.9,1078.3 593.8,1076.5 594.7,1074.7 595.7,1073.0 596.6,1071.2 597.6,1069.5 598.5,1067.7 599.5,1066.0 600.6,1064.3 601.6,1062.6 602.7,1060.9 603.7,1059.2 604.8,1057.5 605.9,1055.9 607.0,1054.2 608.2,1052.5 609.3,1050.9 610.4,1049.2 611.5,1047.5 612.7,1045.9 613.8,1044.2 614.9,1042.5 616.0,1040.9 617.1,1039.2 618.1,1037.5 619.2,1035.8 620.2,1034.1 621.3,1032.4 622.3,1030.7 623.3,1028.9 624.2,1027.2 625.2,1025.4 626.1,1023.7 627.0,1021.9 627.9,1020.1 628.7,1018.3 629.6,1016.5 630.4,1014.6 631.3,1012.8 632.1,1011.0 632.9,1009.1 633.7,1007.3 634.5,1005.4 635.3,1003.6 636.0,1001.7 636.8,999.8 637.6,998.0 638.3,996.1 639.1,994.2 639.9,992.4 640.7,990.5 641.4,988.6 642.2,986.8 643.0,984.9 643.8,983.1 644.6,981.2 645.4,979.4 646.2,977.5 647.0,975.7 647.9,973.9 648.7,972.1 649.6,970.3 650.5,968.5 651.4,966.8 652.3,965.0 653.2,963.3 654.2,961.5 655.1,959.8 656.2,958.1 657.2,956.5 658.3,954.8 659.4,953.2 660.5,951.6 661.7,950.0 662.9,948.4 664.1,946.8 665.4,945.2 666.7,943.7 668.0,942.1 669.3,940.6 670.6,939.1 671.9,937.6 673.3,936.1 674.6,934.6 675.9,933.1 677.3,931.6 678.7,930.1 680.1,928.7 681.5,927.3 682.9,925.9 684.4,924.5 685.8,923.2 687.3,921.9 688.9,920.7 690.4,919.4 692.0,918.2 693.7,917.1 695.3,916.0 697.0,914.8 698.7,913.8 700.4,912.7 702.1,911.6 703.8,910.6 705.6,909.6 707.3,908.7 709.1,907.7 710.9,906.8 712.7,905.9 714.5,905.0 716.3,904.2 718.1,903.4 719.9,902.5 721.7,901.7 723.6,901.0 725.4,900.2 727.3,899.5 729.2,898.7 731.0,898.0 732.9,897.3 734.8,896.5 736.7,895.8 738.6,895.0 740.4,894.2 742.3,893.5 744.2,892.7 746.1,892.0 748.0,891.3 749.9,890.7 751.8,890.2 753.8,889.9 755.7,889.6 757.6,889.4 759.5,889.4 761.5,889.5 763.4,889.8 765.4,890.1 767.3,890.5 769.3,890.9 771.2,891.4 773.2,891.9 775.2,892.4 777.1,892.9 779.1,893.3 781.1,893.8 783.0,894.2 785.0,894.5 787.0,894.9 789.0,895.2 791.0,895.5 792.9,895.8 794.9,896.1 796.9,896.3 798.9,896.6 800.9,896.9 802.9,897.2 804.9,897.4 806.8,897.7 808.8,898.0 810.8,898.4 812.7,898.7 814.7,899.1 816.6,899.5 818.5,900.0 820.4,900.5 822.4,901.0 824.3,901.6 826.2,902.2 828.0,902.9 829.9,903.5 831.8,904.3 833.7,905.0 835.5,905.7 837.4,906.5 839.3,907.3 841.1,908.0 843.0,908.8 844.8,909.6 846.7,910.3 848.6,911.1 850.4,911.8 852.3,912.6 854.1,913.3 856.0,914.1 857.8,914.8 859.7,915.6 861.6,916.3 863.4,917.1 865.3,917.9 867.1,918.6 868.9,919.4 870.8,920.2 872.6,921.0 874.4,921.8 876.3,922.6 878.1,923.5 879.9,924.3 881.7,925.2 883.5,926.0 885.3,926.9 887.1,927.8 888.9,928.7 890.7,929.6 892.4,930.5 894.2,931.4 896.0,932.4 897.7,933.3 899.5,934.3 901.2,935.3 903.0,936.2 904.7,937.2 906.5,938.2 908.2,939.2 909.9,940.2 911.6,941.3 913.4,942.3 915.1,943.3 916.8,944.4 918.5,945.4 920.2,946.5 921.9,947.6 923.5,948.7 925.2,949.8 926.9,950.9 928.5,952.1 930.1,953.2 931.7,954.4 933.3,955.6 934.9,956.8 936.5,958.0 938.0,959.3 939.6,960.6 941.1,961.8 942.6,963.2 944.1,964.5 945.6,965.8 947.1,967.1 948.6,968.5 950.1,969.8 951.6,971.1 953.1,972.5 954.6,973.8 956.1,975.2 957.6,976.5 959.1,977.8 960.6,979.1 962.1,980.5 963.6,981.8 965.1,983.1 966.6,984.5 968.0,985.8 969.5,987.1 971.0,988.5 972.5,989.8 973.9,991.2 975.4,992.6 976.8,994.0 978.3,995.4 979.7,996.8 981.1,998.2 982.4,999.6 983.8,1001.1 985.1,1002.6 986.5,1004.1 987.8,1005.6 989.1,1007.1 990.4,1008.6 991.7,1010.1 993.0,1011.6 994.3,1013.2 995.6,1014.7 997.0,1016.2 998.3,1017.7 999.6,1019.2 1001.0,1020.7 1002.3,1022.1 1003.7,1023.6 1005.1,1025.0 1006.5,1026.4 1008.0,1027.7 1009.5,1029.1 1010.9,1030.5 1012.4,1031.8 1013.9,1033.1 1015.5,1034.4 1017.0,1035.7 1018.5,1037.0 1020.0,1038.3 1021.5,1039.7 1023.0,1041.0 1024.5,1042.3 1026.0,1043.7 1027.4,1045.1 1028.8,1046.5 1030.2,1047.9 1031.6,1049.3 1033.0,1050.8 1034.3,1052.2 1035.6,1053.7 1036.9,1055.2 1038.2,1056.8 1039.5,1058.3 1040.8,1059.8 1042.0,1061.4 1043.3,1063.0 1044.5,1064.5 1045.8,1066.1 1047.1,1067.7 1048.3,1069.2 1049.6,1070.8 1050.8,1072.3 1052.1,1073.9 1053.3,1075.5 1054.6,1077.0 1055.9,1078.6 1057.1,1080.1 1058.4,1081.7 1059.7,1083.2 1060.9,1084.8 1062.2,1086.3 1063.4,1087.9 1064.7,1089.5 1066.0,1091.0 1067.2,1092.6 1068.5,1094.1 1069.7,1095.7 1071.0,1097.2 1072.3,1098.8 1073.6,1100.3 1074.9,1101.8 1076.2,1103.3 1077.6,1104.8 1078.9,1106.2 1080.3,1107.7 1081.7,1109.1 1083.1,1110.5 1084.5,1111.9 1086.0,1113.3 1087.4,1114.6 1088.9,1116.0 1090.4,1117.4 1091.9,1118.7 1093.4,1120.0 1094.9,1121.4 1096.3,1122.7 1097.8,1124.1 1099.3,1125.4 1100.7,1126.8 1102.2,1128.2 1103.6,1129.6 1105.0,1131.1 1106.3,1132.5 1107.7,1134.0 1109.0,1135.4 1110.4,1136.9 1111.7,1138.4 1113.0,1139.9 1114.3,1141.4 1115.6,1143.0 1116.9,1144.5 1118.2,1146.0 1119.5,1147.6 1120.7,1149.2 1122.0,1150.7 1123.2,1152.3 1124.5,1153.9 1125.7,1155.4 1126.9,1157.0 1128.1,1158.6 1129.4,1160.2 1130.6,1161.8 1131.7,1163.4 1132.9,1165.0 1134.1,1166.6 1135.3,1168.2 1136.4,1169.8 1137.6,1171.5 1138.7,1173.1 1139.9,1174.8 1141.0,1176.4 1142.1,1178.1 1143.2,1179.7 1144.3,1181.4 1145.4,1183.0 1146.4,1184.6 1147.5,1186.2 1148.0,1187.0"/>
<polyline stroke="#00ff00" stroke-width="3.7" points="163.50,1187.00 165.33,1187.00 167.16,1187.00 169.00,1187.00 170.83,1187.00 172.66,1187.00 174.50,1187.00 176.33,1187.00 178.16,1187.00 179.99,1187.00 181.82,1187.00 183.66,1187.00 185.49,1187.00 187.32,1187.00 189.16,1187.00 190.99,1187.00 192.82,1187.00 194.65,1187.00 196.49,1187.00 198.32,1187.00 200.15,1187.00 201.98,1187.00 203.81,1187.00 205.65,1187.00 207.48,1187.00 209.31,1187.00 211.15,1187.00 212.98,1187.00 214.81,1187.00 216.64,1187.00 218.47,1187.00 220.31,1187.00 222.14,1187.00 223.97,1187.00 225.81,1187.00 227.64,1187.00 229.47,1187.00 231.30,1187.00 233.13,1187.00 234.97,1187.00 236.80,1187.00 238.63,1187.00 240.47,1187.00 242.30,1186.99 244.13,1186.99 245.96,1186.99 247.80,1186.99 249.63,1186.99 251.46,1186.99 253.29,1186.99 255.12,1186.99 256.96,1186.99 258.79,1186.99 260.62,1186.99 262.45,1186.99 264.29,1186.99 266.12,1186.98 267.95,1186.98 269.78,1186.98 271.62,1186.98 273.45,1186.98 275.28,1186.98 277.12,1186.98 278.95,1186.97 280.78,1186.97 282.61,1186.97 284.44,1186.97 286.28,1186.97 288.11,1186.96 289.94,1186.96 291.77,1186.96 293.61,1186.95 295.44,1186.95 297.27,1186.95 299.11,1186.94 300.94,1186.94 302.77,1186.93 304.60,1186.93 306.44,1186.92 308.27,1186.92 310.10,1186.91 311.93,1186.90 313.76,1186.90 315.60,1186.89 317.43,1186.88 319.26,1186.87 321.10,1186.87 322.93,1186.86 324.76,1186.85 326.59,1186.84 328.43,1186.82 330.26,1186.81 332.09,1186.80 333.92,1186.78 335.75,1186.77 337.59,1186.75 339.42,1186.74 341.25,1186.72 343.09,1186.70 344.92,1186.68 346.75,1186.66 348.58,1186.64 350.41,1186.61 352.25,1186.59 354.08,1186.56 355.91,1186.53 357.75,1186.50 359.58,1186.47 361.41,1186.44 363.24,1186.40 365.07,1186.36 366.91,1186.32 368.74,1186.28 370.57,1186.24 372.40,1186.19 374.24,1186.14 376.07,1186.09 377.90,1186.03 379.74,1185.97 381.57,1185.91 383.40,1185.84 385.23,1185.78 387.06,1185.70 388.90,1185.63 390.73,1185.55 392.56,1185.46 394.39,1185.37 396.23,1185.28 398.06,1185.18 399.89,1185.08 401.73,1184.97 403.56,1184.85 405.39,1184.73 407.22,1184.60 409.06,1184.47 410.89,1184.33 412.72,1184.19 414.55,1184.03 416.38,1183.87 418.22,1183.70 420.05,1183.53 421.88,1183.34 423.71,1183.15 425.55,1182.95 427.38,1182.74 429.21,1182.51 431.05,1182.28 432.88,1182.04 434.71,1181.79 436.54,1181.53 438.38,1181.25 440.21,1180.96 442.04,1180.66 443.87,1180.35 445.70,1180.03 447.54,1179.69 449.37,1179.33 451.20,1178.96 453.04,1178.58 454.87,1178.18 456.70,1177.77 458.53,1177.33 460.37,1176.89 462.20,1176.42 464.03,1175.93 465.86,1175.43 467.69,1174.91 469.53,1174.37 471.36,1173.80 473.19,1173.22 475.02,1172.62 476.86,1171.99 478.69,1171.34 480.52,1170.67 482.36,1169.97 484.19,1169.25 486.02,1168.51 487.85,1167.74 489.69,1166.94 491.52,1166.12 493.35,1165.27 495.18,1164.39 497.01,1163.49 498.85,1162.55 500.68,1161.59 502.51,1160.60 504.35,1159.57 506.18,1158.52 508.01,1157.43 509.84,1156.31 511.68,1155.16 513.51,1153.98 515.34,1152.76 517.17,1151.51 519.00,1150.22 520.84,1148.90 522.67,1147.54 524.50,1146.15 526.34,1144.72 528.17,1143.25 530.00,1141.75 531.83,1140.21 533.66,1138.63 535.50,1137.02 537.33,1135.36 539.16,1133.67 541.00,1131.94 542.83,1130.17 544.66,1128.36 546.49,1126.52 548.33,1124.63 550.16,1122.70 551.99,1120.74 553.82,1118.73 555.65,1116.69 557.49,1114.61 559.32,1112.49 561.15,1110.33 562.99,1108.13 564.82,1105.89 566.65,1103.62 568.48,1101.30 570.32,1098.95 572.15,1096.57 573.98,1094.14 575.81,1091.69 577.64,1089.19 579.48,1086.66 581.31,1084.10 583.14,1081.51 584.98,1078.88 586.81,1076.22 588.64,1073.53 590.47,1070.81 592.31,1068.06 594.14,1065.28 595.97,1062.48 597.80,1059.65 599.63,1056.80 601.47,1053.92 603.30,1051.02 605.13,1048.10 606.96,1045.16 608.80,1042.21 610.63,1039.24 612.46,1036.25 614.30,1033.25 616.13,1030.23 617.96,1027.21 619.79,1024.18 621.62,1021.14 623.46,1018.09 625.29,1015.05 627.12,1012.00 628.95,1008.95 630.79,1005.90 632.62,1002.86 634.45,999.83 636.29,996.80 638.12,993.78 639.95,990.78 641.78,987.79 643.62,984.81 645.45,981.85 647.28,978.92 649.11,976.00 650.94,973.11 652.78,970.25 654.61,967.42 656.44,964.61 658.27,961.84 660.11,959.11 661.94,956.41 663.77,953.75 665.61,951.14 667.44,948.56 669.27,946.04 671.10,943.56 672.93,941.13 674.77,938.75 676.60,936.42 678.43,934.15 680.26,931.94 682.10,929.79 683.93,927.70 685.76,925.67 687.60,923.70 689.43,921.81 691.26,919.98 693.09,918.22 694.92,916.53 696.76,914.91 698.59,913.37 700.42,911.90 702.25,910.51 704.09,909.20 705.92,907.96 707.75,906.81 709.59,905.74 711.42,904.74 713.25,903.84 715.08,903.01 716.91,902.28 718.75,901.62 720.58,901.05 722.41,900.57 724.25,900.18 726.08,899.87 727.91,899.65 729.74,899.52 731.58,899.48 733.41,899.52 735.24,899.65 737.07,899.87 738.90,900.18 740.74,900.57 742.57,901.05 744.40,901.62 746.24,902.28 748.07,903.01 749.90,903.84 751.73,904.74 753.57,905.74 755.40,906.81 757.23,907.96 759.06,909.20 760.89,910.51 762.73,911.90 764.56,913.37 766.39,914.91 768.23,916.53 770.06,918.22 771.89,919.98 773.72,921.81 775.55,923.70 777.39,925.67 779.22,927.70 781.05,929.79 782.88,931.94 784.72,934.15 786.55,936.42 788.38,938.75 790.22,941.13 792.05,943.56 793.88,946.04 795.71,948.56 797.54,951.14 799.38,953.75 801.21,956.41 803.04,959.11 804.88,961.84 806.71,964.61 808.54,967.42 810.37,970.25 812.21,973.11 814.04,976.00 815.87,978.92 817.70,981.85 819.53,984.81 821.37,987.79 823.20,990.78 825.03,993.78 826.87,996.80 828.70,999.83 830.53,1002.86 832.36,1005.90 834.20,1008.95 836.03,1012.00 837.86,1015.05 839.69,1018.09 841.52,1021.14 843.36,1024.18 845.19,1027.21 847.02,1030.23 848.86,1033.25 850.69,1036.25 852.52,1039.24 854.35,1042.21 856.18,1045.16 858.02,1048.10 859.85,1051.02 861.68,1053.92 863.51,1056.80 865.35,1059.65 867.18,1062.48 869.01,1065.28 870.85,1068.06 872.68,1070.81 874.51,1073.53 876.34,1076.22 878.17,1078.88 880.01,1081.51 881.84,1084.10 883.67,1086.66 885.50,1089.19 887.34,1091.69 889.17,1094.14 891.00,1096.57 892.84,1098.95 894.67,1101.30 896.50,1103.62 898.33,1105.89 900.16,1108.13 902.00,1110.33 903.83,1112.49 905.66,1114.61 907.50,1116.69 909.33,1118.73 911.16,1120.74 912.99,1122.70 914.83,1124.63 916.66,1126.52 918.49,1128.36 920.32,1130.17 922.15,1131.94 923.99,1133.67 925.82,1135.36 927.65,1137.02 929.49,1138.63 931.32,1140.21 933.15,1141.75 934.98,1143.25 936.82,1144.72 938.65,1146.15 940.48,1147.54 942.31,1148.90 944.14,1150.22 945.98,1151.51 947.81,1152.76 949.64,1153.98 951.48,1155.16 953.31,1156.31 955.14,1157.43 956.97,1158.52 958.80,1159.57 960.64,1160.60 962.47,1161.59 964.30,1162.55 966.13,1163.49 967.97,1164.39 969.80,1165.27 971.63,1166.12 973.47,1166.94 975.30,1167.74 977.13,1168.51 978.96,1169.25 980.79,1169.97 982.63,1170.67 984.46,1171.34 986.29,1171.99 988.12,1172.62 989.96,1173.22 991.79,1173.80 993.62,1174.37 995.46,1174.91 997.29,1175.43 999.12,1175.93 1000.95,1176.42 1002.78,1176.89 1004.62,1177.33 1006.45,1177.77 1008.28,1178.18 1010.12,1178.58 1011.95,1178.96 1013.78,1179.33 1015.61,1179.69 1017.45,1180.03 1019.28,1180.35 1021.11,1180.66 1022.94,1180.96 1024.78,1181.25 1026.61,1181.53 1028.44,1181.79 1030.27,1182.04 1032.11,1182.28 1033.94,1182.51 1035.77,1182.74 1037.60,1182.95 1039.43,1183.15 1041.27,1183.34 1043.10,1183.53 1044.93,1183.70 1046.76,1183.87 1048.60,1184.03 1050.43,1184.19 1052.26,1184.33 1054.10,1184.47 1055.93,1184.60 1057.76,1184.73 1059.59,1184.85 1061.42,1184.97 1063.26,1185.08 1065.09,1185.18 1066.92,1185.28 1068.76,1185.37 1070.59,1185.46 1072.42,1185.55 1074.25,1185.63 1076.09,1185.70 1077.92,1185.78 1079.75,1185.84 1081.58,1185.91 1083.41,1185.97 1085.25,1186.03 1087.08,1186.09 1088.91,1186.14 1090.74,1186.19 1092.58,1186.24 1094.41,1186.28 1096.24,1186.32 1098.08,1186.36 1099.91,1186.40 1101.74,1186.44 1103.57,1186.47 1105.40,1186.50 1107.24,1186.53 1109.07,1186.56 1110.90,1186.59 1112.74,1186.61 1114.57,1186.64 1116.40,1186.66 1118.23,1186.68 1120.07,1186.70 1121.90,1186.72 1123.73,1186.74 1125.56,1186.75 1127.39,1186.77 1129.23,1186.78 1131.06,1186.80 1132.89,1186.81 1134.72,1186.82 1136.56,1186.84 1138.39,1186.85 1140.22,1186.86 1142.05,1186.87 1143.89,1186.87 1145.72,1186.88 1147.55,1186.89 1149.38,1186.90 1151.22,1186.90 1153.05,1186.91 1154.88,1186.92 1156.72,1186.92 1158.55,1186.93 1160.38,1186.93 1162.21,1186.94 1164.05,1186.94 1165.88,1186.95 1167.71,1186.95 1169.54,1186.95 1171.38,1186.96 1173.21,1186.96 1175.04,1186.96 1176.87,1186.97 1178.70,1186.97 1180.54,1186.97 1182.37,1186.97 1184.20,1186.97 1186.03,1186.98 1187.87,1186.98 1189.70,1186.98 1191.53,1186.98 1193.37,1186.98 1195.20,1186.98 1197.03,1186.98 1198.86,1186.99 1200.69,1186.99 1202.53,1186.99 1204.36,1186.99 1206.19,1186.99 1208.03,1186.99 1209.86,1186.99 1211.69,1186.99 1213.52,1186.99 1215.36,1186.99 1217.19,1186.99 1219.02,1186.99 1220.85,1186.99 1222.68,1187.00 1224.52,1187.00 1226.35,1187.00 1228.18,1187.00 1230.02,1187.00 1231.85,1187.00 1233.68,1187.00 1235.51,1187.00 1237.35,1187.00 1239.18,1187.00 1241.01,1187.00 1242.84,1187.00 1244.67,1187.00 1246.51,1187.00 1248.34,1187.00 1250.17,1187.00 1252.01,1187.00 1253.84,1187.00 1255.67,1187.00 1257.50,1187.00 1259.34,1187.00 1261.17,1187.00 1263.00,1187.00 1264.83,1187.00 1266.66,1187.00 1268.50,1187.00 1270.33,1187.00 1272.16,1187.00 1273.99,1187.00 1275.83,1187.00 1277.66,1187.00 1279.49,1187.00 1281.33,1187.00 1283.16,1187.00 1284.99,1187.00 1286.82,1187.00 1288.65,1187.00 1290.49,1187.00 1292.32,1187.00 1294.15,1187.00 1295.98,1187.00 1297.82,1187.00 1299.65,1187.00 1301.48,1187.00 1303.32,1187.00 1305.15,1187.00 1306.98,1187.00 1308.81,1187.00 1310.64,1187.00 1312.48,1187.00 1314.31,1187.00 1316.14,1187.00 1317.97,1187.00 1319.81,1187.00 1321.64,1187.00 1323.47,1187.00 1325.31,1187.00 1327.14,1187.00 1328.97,1187.00 1330.80,1187.00 1332.63,1187.00 1334.47,1187.00 1336.30,1187.00 1338.13,1187.00 1339.96,1187.00 1341.80,1187.00 1343.63,1187.00 1345.46,1187.00 1347.30,1187.00 1349.13,1187.00 1350.96,1187.00 1352.79,1187.00 1354.62,1187.00 1356.46,1187.00 1358.29,1187.00 1360.12,1187.00 1361.95,1187.00 1363.79,1187.00 1365.62,1187.00 1367.45,1187.00 1369.29,1187.00 1371.12,1187.00 1372.95,1187.00 1374.78,1187.00 1376.62,1187.00 1378.45,1187.00 1380.28,1187.00 1382.11,1187.00 1383.94,1187.00 1385.78,1187.00 1387.61,1187.00 1389.44,1187.00 1391.28,1187.00 1393.11,1187.00 1394.94,1187.00 1396.77,1187.00 1398.61,1187.00 1400.44,1187.00 1402.27,1187.00 1404.10,1187.00 1405.93,1187.00 1407.77,1187.00 1409.60,1187.00 1411.43,1187.00 1413.27,1187.00 1415.10,1187.00 1416.93,1187.00 1418.76,1187.00 1420.60,1187.00 1422.43,1187.00 1424.26,1187.00 1426.09,1187.00 1427.92,1187.00 1429.76,1187.00 1431.59,1187.00 1433.42,1187.00 1435.26,1187.00 1437.09,1187.00 1438.92,1187.00 1440.75,1187.00 1442.59,1187.00 1444.42,1187.00 1446.25,1187.00 1448.08,1187.00 1449.91,1187.00 1451.75,1187.00 1453.58,1187.00 1455.41,1187.00 1457.24,1187.00 1459.08,1187.00 1460.91,1187.00 1462.74,1187.00 1464.58,1187.00 1466.41,1187.00 1468.24,1187.00 1470.07,1187.00 1471.90,1187.00 1473.74,1187.00 1475.57,1187.00 1477.40,1187.00 1479.23,1187.00 1481.07,1187.00 1482.90,1187.00 1484.73,1187.00 1486.57,1187.00 1488.40,1187.00 1490.23,1187.00 1492.06,1187.00 1493.89,1187.00 1495.73,1187.00 1497.56,1187.00 1499.39,1187.00 1501.22,1187.00 1503.06,1187.00 1504.89,1187.00 1506.72,1187.00 1508.56,1187.00 1510.39,1187.00 1512.22,1187.00 1514.05,1187.00 1515.88,1187.00 1517.72,1187.00 1519.55,1187.00 1521.38,1187.00 1523.21,1187.00 1525.05,1187.00 1526.88,1187.00 1528.71,1187.00 1530.55,1187.00 1532.38,1187.00 1534.21,1187.00 1536.04,1187.00 1537.88,1187.00 1539.71,1187.00 1541.54,1187.00 1543.37,1187.00 1545.20,1187.00 1547.04,1187.00 1548.87,1187.00 1550.70,1187.00 1552.54,1187.00 1554.37,1187.00 1556.20,1187.00 1558.03,1187.00 1559.87,1187.00 1561.70,1187.00 1563.53,1187.00 1565.36,1187.00 1567.19,1187.00 1569.03,1187.00 1570.86,1187.00 1572.69,1187.00 1574.53,1187.00 1576.36,1187.00 1578.19,1187.00 1580.02,1187.00 1581.86,1187.00 1583.69,1187.00 1585.52,1187.00 1587.35,1187.00 1589.18,1187.00 1591.02,1187.00 1592.85,1187.00 1594.68,1187.00 1596.52,1187.00 1598.35,1187.00 1600.18,1187.00 1602.01,1187.00 1603.85,1187.00 1605.68,1187.00 1607.51,1187.00 1609.34,1187.00 1611.17,1187.00 1613.01,1187.00 1614.84,1187.00 1616.67,1187.00 1618.51,1187.00 1620.34,1187.00 1622.17,1187.00 1624.00,1187.00 1625.84,1187.00 1627.67,1187.00 1629.50,1187.00"/>
<polyline stroke="#00ff00" stroke-width="3.7" points="163.50,1187.00 165.33,1187.00 167.16,1187.00 169.00,1187.00 170.83,1187.00 172.66,1187.00 174.50,1187.00 176.33,1187.00 178.16,1187.00 179.99,1187.00 181.82,1187.00 183.66,1187.00 185.49,1187.00 187.32,1187.00 189.16,1187.00 190.99,1187.00 192.82,1187.00 194.65,1187.00 196.49,1187.00 198.32,1187.00 200.15,1187.00 201.98,1187.00 203.81,1187.00 205.65,1187.00 207.48,1187.00 209.31,1187.00 211.15,1187.00 212.98,1187.00 214.81,1187.00 216.64,1187.00 218.47,1187.00 220.31,1187.00 222.14,1187.00 223.97,1187.00 225.81,1187.00 227.64,1187.00 229.47,1187.00 231.30,1187.00 233.13,1187.00 234.97,1187.00 236.80,1187.00 238.63,1187.00 240.47,1187.00 242.30,1187.00 244.13,1187.00 245.96,1187.00 247.80,1187.00 249.63,1187.00 251.46,1187.00 253.29,1187.00 255.12,1187.00 256.96,1187.00 258.79,1187.00 260.62,1187.00 262.45,1187.00 264.29,1187.00 266.12,1187.00 267.95,1187.00 269.78,1187.00 271.62,1187.00 273.45,1187.00 275.28,1187.00 277.12,1187.00 278.95,1187.00 280.78,1187.00 282.61,1187.00 284.44,1187.00 286.28,1187.00 288.11,1187.00 289.94,1187.00 291.77,1187.00 293.61,1187.00 295.44,1187.00 297.27,1187.00 299.11,1187.00 300.94,1187.00 302.77,1187.00 304.60,1187.00 306.44,1187.00 308.27,1187.00 310.10,1187.00 311.93,1187.00 313.76,1187.00 315.60,1187.00 317.43,1187.00 319.26,1187.00 321.10,1187.00 322.93,1187.00 324.76,1187.00 326.59,1187.00 328.43,1187.00 330.26,1187.00 332.09,1187.00 333.92,1187.00 335.75,1187.00 337.59,1187.00 339.42,1187.00 341.25,1187.00 343.09,1187.00 344.92,1187.00 346.75,1187.00 348.58,1187.00 350.41,1187.00 352.25,1187.00 354.08,1187.00 355.91,1187.00 357.75,1187.00 359.58,1187.00 361.41,1187.00 363.24,1187.00 365.07,1187.00 366.91,1187.00 368.74,1187.00 370.57,1187.00 372.40,1187.00 374.24,1187.00 376.07,1187.00 377.90,1187.00 379.74,1187.00 381.57,1187.00 383.40,1187.00 385.23,1187.00 387.06,1187.00 388.90,1187.00 390.73,1187.00 392.56,1187.00 394.39,1187.00 396.23,1187.00 398.06,1187.00 399.89,1187.00 401.73,1187.00 403.56,1187.00 405.39,1187.00 407.22,1187.00 409.06,1187.00 410.89,1187.00 412.72,1187.00 414.55,1187.00 416.38,1187.00 418.22,1187.00 420.05,1187.00 421.88,1187.00 423.71,1187.00 425.55,1187.00 427.38,1187.00 429.21,1187.00 431.05,1187.00 432.88,1187.00 434.71,1187.00 436.54,1187.00 438.38,1187.00 440.21,1187.00 442.04,1187.00 443.87,1187.00 445.70,1187.00 447.54,1187.00 449.37,1186.99 451.20,1186.99 453.04,1186.99 454.87,1186.99 456.70,1186.99 458.53,1186.99 460.37,1186.99 462.20,1186.99 464.03,1186.99 465.86,1186.99 467.69,1186.99 469.53,1186.99 471.36,1186.99 473.19,1186.99 475.02,1186.98 476.86,1186.98 478.69,1186.98 480.52,1186.98 482.36,1186.98 484.19,1186.98 486.02,1186.98 487.85,1186.97 489.69,1186.97 491.52,1186.97 493.35,1186.97 495.18,1186.96 497.01,1186.96 498.85,1186.96 500.68,1186.95 502.51,1186.95 504.35,1186.95 506.18,1186.94 508.01,1186.94 509.84,1186.94 511.68,1186.93 513.51,1186.93 515.34,1186.92 517.17,1186.91 519.00,1186.91 520.84,1186.90 522.67,1186.89 524.50,1186.89 526.34,1186.88 528.17,1186.87 530.00,1186.86 531.83,1186.85 533.66,1186.84 535.50,1186.83 537.33,1186.82 539.16,1186.81 541.00,1186.79 542.83,1186.78 544.66,1186.76 546.49,1186.75 548.33,1186.73 550.16,1186.71 551.99,1186.69 553.82,1186.67 555.65,1186.65 557.49,1186.63 559.32,1186.61 561.15,1186.58 562.99,1186.55 564.82,1186.52 566.65,1186.49 568.48,1186.46 570.32,1186.43 572.15,1186.39 573.98,1186.35 575.81,1186.31 577.64,1186.27 579.48,1186.23 581.31,1186.18 583.14,1186.13 584.98,1186.08 586.81,1186.02 588.64,1185.96 590.47,1185.90 592.31,1185.84 594.14,1185.77 595.97,1185.70 597.80,1185.62 599.63,1185.54 601.47,1185.46 603.30,1185.37 605.13,1185.28 606.96,1185.18 608.80,1185.08 610.63,1184.97 612.46,1184.86 614.30,1184.74 616.13,1184.61 617.96,1184.48 619.79,1184.35 621.62,1184.21 623.46,1184.06 625.29,1183.90 627.12,1183.74 628.95,1183.56 630.79,1183.38 632.62,1183.20 634.45,1183.00 636.29,1182.79 638.12,1182.58 639.95,1182.36 641.78,1182.12 643.62,1181.88 645.45,1181.63 647.28,1181.36 649.11,1181.08 650.94,1180.80 652.78,1180.50 654.61,1180.18 656.44,1179.86 658.27,1179.52 660.11,1179.17 661.94,1178.80 663.77,1178.42 665.61,1178.03 667.44,1177.62 669.27,1177.19 671.10,1176.75 672.93,1176.29 674.77,1175.81 676.60,1175.32 678.43,1174.81 680.26,1174.28 682.10,1173.73 683.93,1173.16 685.76,1172.57 687.60,1171.96 689.43,1171.34 691.26,1170.68 693.09,1170.01 694.92,1169.32 696.76,1168.60 698.59,1167.86 700.42,1167.10 702.25,1166.31 704.09,1165.49 705.92,1164.66 707.75,1163.79 709.59,1162.90 711.42,1161.99 713.25,1161.05 715.08,1160.08 716.91,1159.08 718.75,1158.06 720.58,1157.00 722.41,1155.92 724.25,1154.81 726.08,1153.67 727.91,1152.50 729.74,1151.30 731.58,1150.07 733.41,1148.81 735.24,1147.52 737.07,1146.20 738.90,1144.84 740.74,1143.46 742.57,1142.04 744.40,1140.59 746.24,1139.11 748.07,1137.60 749.90,1136.05 751.73,1134.48 753.57,1132.87 755.40,1131.23 757.23,1129.56 759.06,1127.85 760.89,1126.12 762.73,1124.35 764.56,1122.55 766.39,1120.72 768.23,1118.86 770.06,1116.97 771.89,1115.05 773.72,1113.10 775.55,1111.12 777.39,1109.11 779.22,1107.08 781.05,1105.01 782.88,1102.92 784.72,1100.80 786.55,1098.66 788.38,1096.49 790.22,1094.29 792.05,1092.07 793.88,1089.83 795.71,1087.57 797.54,1085.28 799.38,1082.98 801.21,1080.65 803.04,1078.31 804.88,1075.95 806.71,1073.57 808.54,1071.18 810.37,1068.78 812.21,1066.36 814.04,1063.93 815.87,1061.49 817.70,1059.05 819.53,1056.59 821.37,1054.13 823.20,1051.67 825.03,1049.20 826.87,1046.73 828.70,1044.26 830.53,1041.79 832.36,1039.33 834.20,1036.87 836.03,1034.41 837.86,1031.97 839.69,1029.53 841.52,1027.11 843.36,1024.70 845.19,1022.30 847.02,1019.92 848.86,1017.55 850.69,1015.21 852.52,1012.89 854.35,1010.59 856.18,1008.32 858.02,1006.07 859.85,1003.86 861.68,1001.67 863.51,999.51 865.35,997.39 867.18,995.31 869.01,993.26 870.85,991.25 872.68,989.28 874.51,987.35 876.34,985.47 878.17,983.63 880.01,981.84 881.84,980.09 883.67,978.40 885.50,976.76 887.34,975.17 889.17,973.63 891.00,972.15 892.84,970.73 894.67,969.36 896.50,968.06 898.33,966.81 900.16,965.63 902.00,964.51 903.83,963.45 905.66,962.46 907.50,961.53 909.33,960.67 911.16,959.87 912.99,959.15 914.83,958.49 916.66,957.90 918.49,957.38 920.32,956.93 922.15,956.56 923.99,956.25 925.82,956.01 927.65,955.85 929.49,955.75 931.32,955.73 933.15,955.78 934.98,955.90 936.82,956.10 938.65,956.36 940.48,956.70 942.31,957.11 944.14,957.58 945.98,958.13 947.81,958.75 949.64,959.43 951.48,960.18 953.31,961.01 955.14,961.89 956.97,962.85 958.80,963.87 960.64,964.95 962.47,966.10 964.30,967.30 966.13,968.57 967.97,969.90 969.80,971.29 971.63,972.74 973.47,974.24 975.30,975.80 977.13,977.41 978.96,979.07 980.79,980.78 982.63,982.55 984.46,984.36 986.29,986.22 988.12,988.12 989.96,990.06 991.79,992.05 993.62,994.07 995.46,996.14 997.29,998.24 999.12,1000.37 1000.95,1002.54 1002.78,1004.74 1004.62,1006.97 1006.45,1009.23 1008.28,1011.51 1010.12,1013.82 1011.95,1016.15 1013.78,1018.50 1015.61,1020.87 1017.45,1023.25 1019.28,1025.66 1021.11,1028.08 1022.94,1030.50 1024.78,1032.94 1026.61,1035.39 1028.44,1037.85 1030.27,1040.31 1032.11,1042.78 1033.94,1045.25 1035.77,1047.72 1037.60,1050.19 1039.43,1052.65 1041.27,1055.12 1043.10,1057.57 1044.93,1060.03 1046.76,1062.47 1048.60,1064.90 1050.43,1067.33 1052.26,1069.74 1054.10,1072.14 1055.93,1074.52 1057.76,1076.89 1059.59,1079.25 1061.42,1081.58 1063.26,1083.90 1065.09,1086.20 1066.92,1088.47 1068.76,1090.73 1070.59,1092.96 1072.42,1095.17 1074.25,1097.36 1076.09,1099.52 1077.92,1101.65 1079.75,1103.76 1081.58,1105.84 1083.41,1107.89 1085.25,1109.92 1087.08,1111.92 1088.91,1113.89 1090.74,1115.82 1092.58,1117.73 1094.41,1119.61 1096.24,1121.46 1098.08,1123.28 1099.91,1125.06 1101.74,1126.82 1103.57,1128.54 1105.40,1130.23 1107.24,1131.89 1109.07,1133.52 1110.90,1135.11 1112.74,1136.68 1114.57,1138.21 1116.40,1139.71 1118.23,1141.17 1120.07,1142.61 1121.90,1144.01 1123.73,1145.39 1125.56,1146.73 1127.39,1148.04 1129.23,1149.32 1131.06,1150.57 1132.89,1151.78 1134.72,1152.97 1136.56,1154.13 1138.39,1155.26 1140.22,1156.36 1142.05,1157.43 1143.89,1158.47 1145.72,1159.48 1147.55,1160.47 1149.38,1161.43 1151.22,1162.36 1153.05,1163.26 1154.88,1164.14 1156.72,1165.00 1158.55,1165.82 1160.38,1166.63 1162.21,1167.40 1164.05,1168.16 1165.88,1168.89 1167.71,1169.60 1169.54,1170.28 1171.38,1170.95 1173.21,1171.59 1175.04,1172.21 1176.87,1172.81 1178.70,1173.39 1180.54,1173.95 1182.37,1174.49 1184.20,1175.02 1186.03,1175.52 1187.87,1176.01 1189.70,1176.48 1191.53,1176.93 1193.37,1177.36 1195.20,1177.78 1197.03,1178.19 1198.86,1178.58 1200.69,1178.95 1202.53,1179.31 1204.36,1179.66 1206.19,1179.99 1208.03,1180.31 1209.86,1180.62 1211.69,1180.91 1213.52,1181.20 1215.36,1181.47 1217.19,1181.73 1219.02,1181.98 1220.85,1182.22 1222.68,1182.45 1224.52,1182.67 1226.35,1182.88 1228.18,1183.08 1230.02,1183.27 1231.85,1183.46 1233.68,1183.63 1235.51,1183.80 1237.35,1183.96 1239.18,1184.12 1241.01,1184.26 1242.84,1184.40 1244.67,1184.54 1246.51,1184.67 1248.34,1184.79 1250.17,1184.90 1252.01,1185.01 1253.84,1185.12 1255.67,1185.22 1257.50,1185.31 1259.34,1185.41 1261.17,1185.49 1263.00,1185.57 1264.83,1185.65 1266.66,1185.73 1268.50,1185.80 1270.33,1185.86 1272.16,1185.93 1273.99,1185.99 1275.83,1186.04 1277.66,1186.10 1279.49,1186.15 1281.33,1186.20 1283.16,1186.25 1284.99,1186.29 1286.82,1186.33 1288.65,1186.37 1290.49,1186.41 1292.32,1186.44 1294.15,1186.48 1295.98,1186.51 1297.82,1186.54 1299.65,1186.56 1301.48,1186.59 1303.32,1186.62 1305.15,1186.64 1306.98,1186.66 1308.81,1186.68 1310.64,1186.70 1312.48,1186.72 1314.31,1186.74 1316.14,1186.75 1317.97,1186.77 1319.81,1186.78 1321.64,1186.80 1323.47,1186.81 1325.31,1186.82 1327.14,1186.83 1328.97,1186.85 1330.80,1186.86 1332.63,1186.87 1334.47,1186.87 1336.30,1186.88 1338.13,1186.89 1339.96,1186.90 1341.80,1186.90 1343.63,1186.91 1345.46,1186.92 1347.30,1186.92 1349.13,1186.93 1350.96,1186.93 1352.79,1186.94 1354.62,1186.94 1356.46,1186.95 1358.29,1186.95 1360.12,1186.95 1361.95,1186.96 1363.79,1186.96 1365.62,1186.96 1367.45,1186.96 1369.29,1186.97 1371.12,1186.97 1372.95,1186.97 1374.78,1186.97 1376.62,1186.98 1378.45,1186.98 1380.28,1186.98 1382.11,1186.98 1383.94,1186.98 1385.78,1186.98 1387.61,1186.98 1389.44,1186.99 1391.28,1186.99 1393.11,1186.99 1394.94,1186.99 1396.77,1186.99 1398.61,1186.99 1400.44,1186.99 1402.27,1186.99 1404.10,1186.99 1405.93,1186.99 1407.77,1186.99 1409.60,1186.99 1411.43,1186.99 1413.27,1186.99 1415.10,1187.00 1416.93,1187.00 1418.76,1187.00 1420.60,1187.00 1422.43,1187.00 1424.26,1187.00 1426.09,1187.00 1427.92,1187.00 1429.76,1187.00 1431.59,1187.00 1433.42,1187.00 1435.26,1187.00 1437.09,1187.00 1438.92,1187.00 1440.75,1187.00 1442.59,1187.00 1444.42,1187.00 1446.25,1187.00 1448.08,1187.00 1449.91,1187.00 1451.75,1187.00 1453.58,1187.00 1455.41,1187.00 1457.24,1187.00 1459.08,1187.00 1460.91,1187.00 1462.74,1187.00 1464.58,1187.00 1466.41,1187.00 1468.24,1187.00 1470.07,1187.00 1471.90,1187.00 1473.74,1187.00 1475.57,1187.00 1477.40,1187.00 1479.23,1187.00 1481.07,1187.00 1482.90,1187.00 1484.73,1187.00 1486.57,1187.00 1488.40,1187.00 1490.23,1187.00 1492.06,1187.00 1493.89,1187.00 1495.73,1187.00 1497.56,1187.00 1499.39,1187.00 1501.22,1187.00 1503.06,1187.00 1504.89,1187.00 1506.72,1187.00 1508.56,1187.00 1510.39,1187.00 1512.22,1187.00 1514.05,1187.00 1515.88,1187.00 1517.72,1187.00 1519.55,1187.00 1521.38,1187.00 1523.21,1187.00 1525.05,1187.00 1526.88,1187.00 1528.71,1187.00 1530.55,1187.00 1532.38,1187.00 1534.21,1187.00 1536.04,1187.00 1537.88,1187.00 1539.71,1187.00 1541.54,1187.00 1543.37,1187.00 1545.20,1187.00 1547.04,1187.00 1548.87,1187.00 1550.70,1187.00 1552.54,1187.00 1554.37,1187.00 1556.20,1187.00 1558.03,1187.00 1559.87,1187.00 1561.70,1187.00 1563.53,1187.00 1565.36,1187.00 1567.19,1187.00 1569.03,1187.00 1570.86,1187.00 1572.69,1187.00 1574.53,1187.00 1576.36,1187.00 1578.19,1187.00 1580.02,1187.00 1581.86,1187.00 1583.69,1187.00 1585.52,1187.00 1587.35,1187.00 1589.18,1187.00 1591.02,1187.00 1592.85,1187.00 1594.68,1187.00 1596.52,1187.00 1598.35,1187.00 1600.18,1187.00 1602.01,1187.00 1603.85,1187.00 1605.68,1187.00 1607.51,1187.00 1609.34,1187.00 1611.17,1187.00 1613.01,1187.00 1614.84,1187.00 1616.67,1187.00 1618.51,1187.00 1620.34,1187.00 1622.17,1187.00 1624.00,1187.00 1625.84,1187.00 1627.67,1187.00 1629.50,1187.00"/>
</g>
<g fill="#262626" stroke="#262626" stroke-width="1.2" stroke-linejoin="round" font-size="44px">
<text x="162.0" y="1251.0" text-anchor="middle">450</text>
<text x="528.5" y="1251.0" text-anchor="middle">500</text>
<text x="895.0" y="1251.0" text-anchor="middle">550</text>
<text x="1261.5" y="1251.0" text-anchor="middle">600</text>
<text x="1628.0" y="1251.0" text-anchor="middle">650</text>
<text x="143.5" y="1204.7" text-anchor="end">0</text>
<text x="144.7" y="1089.0" text-anchor="end">0.1</text>
<text x="143.5" y="973.2" text-anchor="end">0.2</text>
<text x="143.5" y="857.5" text-anchor="end">0.3</text>
<text x="143.5" y="741.7" text-anchor="end">0.4</text>
<text x="143.5" y="626.0" text-anchor="end">0.5</text>
<text x="143.5" y="510.2" text-anchor="end">0.6</text>
<text x="143.5" y="394.4" text-anchor="end">0.7</text>
<text x="143.5" y="278.7" text-anchor="end">0.8</text>
<text x="143.5" y="162.9" text-anchor="end">0.9</text>
<text x="144.7" y="47.2" text-anchor="end">1</text>
</g>
<g fill="#262626" stroke="#262626" stroke-width="1.2" stroke-linejoin="round" font-size="48.4px" letter-spacing="0.6">
<text x="896" y="1317.3" text-anchor="middle">Wavelength (nm)</text>
<text transform="translate(53.8,609.3) rotate(-90)" text-anchor="middle">Absorbance(a.u.)</text>
</g>
<rect x="1349.0" y="67.0" width="243.0" height="343.3" fill="#ffffff" stroke="#262626" stroke-width="3.5"/>
<g font-size="39.2px" fill="#000000" stroke="#000000" stroke-width="1.5" stroke-linejoin="round">
<rect x="1362" y="93.75" width="136" height="12.3" fill="#0072bd" stroke="none"/>
<text x="1508.3" y="116.3">0h</text>
<rect x="1362" y="149.11" width="136" height="12.3" fill="#7e2f8e" stroke="none"/>
<text x="1508.3" y="171.7">1h</text>
<rect x="1362" y="204.47" width="136" height="12.3" fill="#a2142f" stroke="none"/>
<text x="1508.3" y="227.0">3h</text>
<rect x="1362" y="259.83" width="136" height="12.3" fill="#edb120" stroke="none"/>
<text x="1508.3" y="282.4">6h</text>
<rect x="1362" y="315.19" width="136" height="12.3" fill="#4dbeee" stroke="none"/>
<text x="1508.3" y="337.7">10h</text>
<rect x="1362" y="370.55" width="136" height="12.3" fill="#00ff00" stroke="none"/>
<text x="1508.3" y="393.1">20h</text>
</g>
</svg></body></html>
